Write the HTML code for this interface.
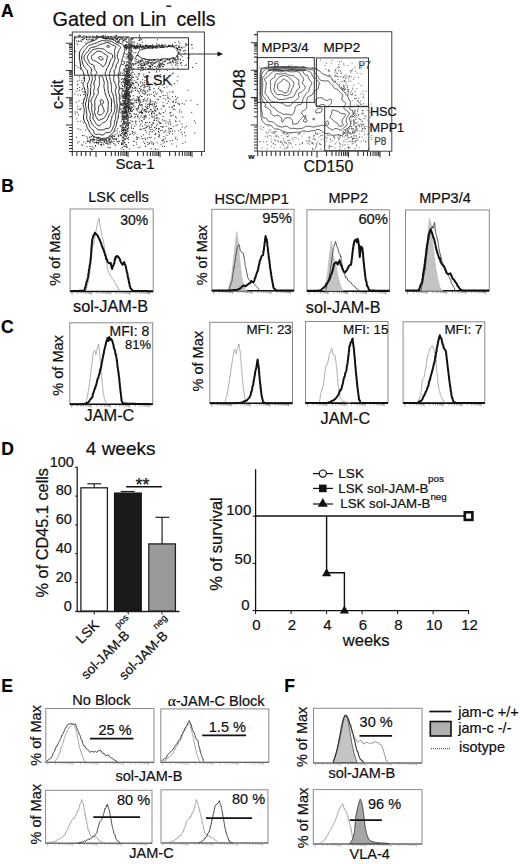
<!DOCTYPE html>
<html><head><meta charset="utf-8"><style>
html,body{margin:0;padding:0;background:#fff;width:520px;height:864px;overflow:hidden}
svg{display:block}
text{font-family:"Liberation Sans", sans-serif; stroke:#111; stroke-width:0.22px}
</style></head><body>
<svg width="520" height="864" viewBox="0 0 520 864">
<text x="1.0" y="16.9" font-size="17.5" text-anchor="start" font-weight="bold" fill="#000" stroke="#000">A</text>
<text x="52.5" y="25.6" font-size="19.9" text-anchor="start" font-weight="normal" fill="#111" stroke="#111">Gated on Lin</text>
<line x1="166.3" y1="6.2" x2="171.2" y2="6.2" stroke="#111" stroke-width="1.4"/>
<text x="176.5" y="25.6" font-size="19.5" text-anchor="start" font-weight="normal" fill="#111" stroke="#111">cells</text>
<path d="M106.3,138.1 L105.3,138.4 L104.3,138.4 L103.3,138.4 L102.3,138.4 L101.3,138.4 L100.3,138.2 L99.8,137.9 L98.8,137.5 L98.3,137.4 L97.3,137.4 L96.3,137.3 L95.3,137.1 L94.8,136.9 L94.1,136.5 L93.4,136.0 L92.8,135.5 L92.3,135.0 L91.9,134.5 L91.5,134.0 L91.1,133.5 L90.7,133.0 L90.3,132.5 L89.8,131.8 L89.3,131.2 L88.8,130.5 L88.5,130.0 L88.2,129.5 L87.8,128.7 L87.5,128.0 L87.2,127.5 L86.9,126.5 L86.7,126.0 L86.4,125.0 L86.2,124.5 L85.8,123.7 L85.4,123.0 L85.1,122.5 L84.8,122.0 L84.3,121.1 L84.1,120.5 L83.8,119.6 L83.7,119.0 L83.5,118.0 L83.5,117.0 L83.6,116.0 L83.8,115.0 L83.9,114.5 L84.1,113.5 L84.2,112.5 L84.2,111.5 L84.2,110.5 L84.2,109.5 L84.1,108.5 L83.9,107.5 L83.7,107.0 L83.3,106.0 L83.2,105.5 L83.2,104.5 L83.3,103.6 L83.4,103.0 L83.6,102.0 L83.7,101.0 L83.8,100.4 L84.1,99.5 L84.3,99.0 L84.8,98.0 L85.0,97.5 L85.3,96.6 L85.5,96.0 L85.7,95.0 L85.8,94.4 L85.9,93.5 L85.8,92.9 L85.6,92.0 L85.3,91.1 L85.1,90.5 L84.8,89.7 L84.6,89.0 L84.3,88.0 L84.1,87.5 L83.8,86.8 L83.4,86.0 L83.2,85.5 L83.0,84.5 L83.0,83.5 L83.3,82.7 L83.8,82.0 L84.1,81.5 L84.4,81.0 L84.7,80.0 L84.6,79.0 L84.5,78.0 L84.3,77.0 L84.2,76.5 L84.1,75.5 L83.9,74.5 L83.8,74.0 L83.5,73.0 L83.3,72.3 L83.0,71.5 L82.7,71.0 L82.3,70.4 L81.8,69.6 L81.5,69.0 L81.2,68.5 L80.9,67.5 L80.8,67.0 L80.6,66.0 L80.5,65.0 L80.3,64.0 L80.3,63.5 L80.1,62.5 L80.0,61.5 L79.8,60.5 L79.7,60.0 L79.5,59.0 L79.4,58.0 L79.4,57.0 L79.4,56.0 L79.4,55.0 L79.4,54.0 L79.5,53.0 L79.7,52.0 L79.8,51.5 L80.3,50.5 L80.6,50.0 L80.9,49.5 L81.4,49.0 L81.8,48.5 L82.3,48.0 L82.8,47.5 L83.3,46.9 L83.8,46.4 L84.3,45.9 L84.8,45.4 L85.3,44.9 L85.8,44.4 L86.3,44.0 L87.0,43.5 L87.8,43.0 L88.3,42.8 L89.1,42.5 L89.8,42.2 L90.3,42.0 L91.3,41.5 L91.8,41.3 L92.5,41.0 L93.3,40.7 L93.8,40.5 L94.8,40.1 L95.3,39.9 L95.9,39.5 L96.5,39.0 L97.0,38.5 L97.6,38.0 L98.3,37.6 L98.8,37.4 L99.8,37.0 L100.3,36.9 L101.2,37.0 L101.8,37.3 L102.3,37.6 L102.9,38.0 L103.8,38.5 L104.3,38.6 L105.3,38.8 L106.3,38.8 L107.3,38.7 L108.3,38.6 L109.3,38.8 L110.3,39.0 L110.8,39.1 L111.8,39.3 L112.5,39.5 L113.3,39.8 L113.8,40.1 L114.3,40.5 L114.8,41.0 L115.3,41.5 L115.9,42.0 L116.8,42.4 L117.3,42.6 L118.3,42.8 L119.2,43.0 L119.8,43.2 L120.6,43.5 L121.3,43.8 L121.8,44.1 L122.5,44.5 L123.1,45.0 L123.5,45.5 L123.8,46.0 L124.3,47.0 L124.5,47.5 L124.8,48.5 L124.9,49.0 L124.9,50.0 L124.8,50.8 L124.6,51.5 L124.3,52.3 L124.1,53.0 L123.8,54.0 L123.7,54.5 L123.4,55.5 L123.2,56.0 L122.9,57.0 L122.7,57.5 L122.4,58.5 L122.3,59.0 L122.1,60.0 L121.9,61.0 L121.8,61.5 L121.5,62.5 L121.3,63.4 L121.1,64.0 L120.8,64.9 L120.6,65.5 L120.3,66.2 L120.0,67.0 L119.8,67.8 L119.7,68.5 L119.6,69.5 L119.5,70.5 L119.3,71.3 L119.0,72.0 L118.8,72.6 L118.4,73.5 L118.3,74.0 L118.2,75.0 L118.2,76.0 L118.3,77.0 L118.4,77.5 L118.7,78.5 L118.8,79.2 L118.9,80.0 L118.8,81.0 L118.8,81.5 L118.7,82.5 L118.6,83.5 L118.7,84.5 L118.8,85.3 L118.9,86.0 L119.1,87.0 L119.3,88.0 L119.3,88.5 L119.3,89.0 L119.1,90.0 L118.8,91.0 L118.7,91.5 L118.8,92.5 L118.9,93.0 L119.2,94.0 L119.3,94.5 L119.5,95.5 L119.4,96.5 L119.3,97.5 L119.3,98.5 L119.4,99.5 L119.5,100.5 L119.7,101.5 L119.8,102.1 L120.0,103.0 L120.1,104.0 L120.0,105.0 L119.9,106.0 L119.7,106.5 L119.5,107.5 L119.3,108.4 L119.2,109.0 L119.2,110.0 L119.1,111.0 L119.1,112.0 L118.8,113.0 L118.7,113.5 L118.4,114.5 L118.3,115.0 L118.3,116.0 L118.3,117.0 L118.2,118.0 L117.9,119.0 L117.7,119.5 L117.3,120.4 L117.1,121.0 L116.8,121.8 L116.7,122.5 L116.6,123.5 L116.5,124.5 L116.3,125.5 L116.2,126.0 L115.8,126.8 L115.4,127.5 L115.1,128.0 L114.8,128.8 L114.6,129.5 L114.4,130.5 L114.2,131.0 L113.8,131.7 L113.3,132.3 L112.8,132.8 L112.3,133.3 L111.8,133.9 L111.3,134.4 L110.8,135.0 L110.3,135.5 L109.8,136.0 L109.3,136.4 L108.8,136.8 L108.3,137.1 L107.6,137.5 L106.8,137.9 L106.3,138.1 M131.3,59.6 L130.3,59.5 L129.8,59.3 L129.3,58.9 L128.8,58.4 L128.3,57.5 L128.2,57.0 L128.3,56.3 L128.7,55.5 L129.3,55.0 L129.8,54.7 L130.8,54.6 L131.8,54.9 L132.3,55.3 L132.8,56.0 L132.9,56.5 L133.0,57.5 L132.8,58.1 L132.3,59.0 L131.8,59.4 L131.3,59.6 M103.8,134.5 L102.8,134.9 L101.8,135.0 L100.8,134.7 L100.2,134.5 L99.3,134.2 L98.3,134.1 L97.3,134.3 L96.3,134.4 L95.3,134.3 L94.8,134.0 L94.3,133.4 L93.9,132.5 L93.8,131.5 L93.8,131.0 L93.3,130.1 L92.8,129.6 L92.3,129.2 L91.8,128.8 L91.3,128.4 L90.8,128.0 L90.3,127.5 L89.8,126.7 L89.5,126.0 L89.3,125.5 L89.0,124.5 L88.8,123.6 L88.6,123.0 L88.3,122.1 L88.0,121.5 L87.8,121.0 L87.3,120.0 L87.1,119.5 L86.8,118.7 L86.7,118.0 L86.7,117.0 L86.8,116.2 L86.9,115.5 L86.9,114.5 L86.8,113.8 L86.6,113.0 L86.5,112.0 L86.3,111.0 L86.3,110.5 L86.2,109.5 L86.2,108.5 L86.0,107.5 L85.8,106.5 L85.7,106.0 L85.5,105.0 L85.4,104.0 L85.6,103.0 L85.8,102.4 L86.1,101.5 L86.3,100.8 L86.5,100.0 L86.7,99.0 L86.8,98.4 L87.0,97.5 L87.2,96.5 L87.3,96.0 L87.6,95.0 L87.8,94.0 L87.9,93.5 L88.0,92.5 L88.0,91.5 L87.9,90.5 L87.9,89.5 L87.9,88.5 L87.8,88.0 L87.6,87.0 L87.4,86.0 L87.3,85.2 L87.3,84.9 L87.4,84.0 L87.8,83.2 L88.2,82.5 L88.5,82.0 L88.8,81.3 L89.1,80.5 L89.3,79.9 L89.5,79.0 L89.4,78.0 L89.3,77.4 L89.0,76.5 L88.8,76.0 L88.4,75.0 L88.2,74.5 L87.9,73.5 L87.8,73.0 L87.5,72.0 L87.4,71.0 L87.3,70.5 L86.8,69.7 L86.3,69.2 L85.8,68.7 L85.3,68.2 L84.8,67.6 L84.3,67.0 L84.0,66.5 L83.7,66.0 L83.3,65.2 L83.0,64.5 L82.8,63.8 L82.6,63.0 L82.3,62.0 L82.2,61.5 L82.0,60.5 L81.8,59.5 L81.8,59.0 L81.7,58.0 L81.7,57.0 L81.8,56.0 L81.9,55.5 L82.2,54.5 L82.4,54.0 L82.8,53.3 L83.2,52.5 L83.5,52.0 L83.8,51.3 L84.3,50.6 L84.8,50.0 L85.3,49.5 L85.8,49.0 L86.2,48.5 L86.5,48.0 L86.8,47.5 L87.3,46.8 L87.8,46.2 L88.3,45.8 L88.8,45.4 L89.8,45.0 L90.3,44.8 L91.1,44.5 L91.8,44.3 L92.6,44.0 L93.3,43.8 L94.3,43.6 L94.8,43.5 L95.8,43.2 L96.3,43.0 L97.3,42.5 L97.8,42.3 L98.3,42.0 L99.3,41.6 L99.8,41.4 L100.7,41.0 L101.3,40.8 L102.3,40.6 L103.3,40.6 L104.3,40.7 L105.3,40.8 L106.3,40.9 L107.3,40.9 L108.3,40.9 L109.2,41.0 L109.8,41.1 L110.8,41.2 L111.7,41.5 L112.3,41.8 L112.8,42.1 L113.3,42.5 L114.0,43.0 L114.7,43.5 L115.3,43.8 L115.8,44.0 L116.8,44.4 L117.3,44.6 L118.2,45.0 L118.8,45.4 L119.3,45.7 L119.8,46.2 L120.3,46.9 L120.5,47.5 L120.3,48.2 L119.8,48.9 L119.3,49.5 L119.0,50.0 L118.8,50.5 L118.4,51.5 L118.3,52.0 L117.9,53.0 L117.7,53.5 L117.3,54.5 L117.2,55.0 L117.2,56.0 L117.3,56.7 L117.5,57.5 L117.8,58.2 L118.1,59.0 L118.3,59.8 L118.4,60.5 L118.3,61.2 L118.0,62.0 L117.8,62.5 L117.3,63.2 L116.8,63.9 L116.5,64.5 L116.3,65.0 L116.1,66.0 L116.0,67.0 L115.8,67.9 L115.5,68.5 L115.2,69.0 L114.7,69.5 L114.3,70.2 L114.0,71.0 L114.1,72.0 L114.3,73.0 L114.3,73.5 L114.3,74.5 L114.2,75.0 L114.0,76.0 L113.8,77.0 L113.8,77.5 L113.7,78.5 L113.7,79.5 L113.8,80.3 L113.9,81.0 L114.3,82.0 L114.6,82.5 L114.9,83.0 L115.3,83.6 L115.7,84.5 L115.8,85.0 L116.0,86.0 L116.2,87.0 L116.1,88.0 L115.8,88.9 L115.6,89.5 L115.3,90.4 L115.2,91.0 L115.3,91.5 L115.5,92.5 L115.8,93.5 L115.9,94.0 L116.0,95.0 L116.1,96.0 L116.3,96.8 L116.5,97.5 L116.7,98.5 L116.8,99.5 L116.7,100.5 L116.7,101.5 L116.7,102.5 L116.8,103.0 L117.0,104.0 L117.2,105.0 L117.2,106.0 L117.2,107.0 L117.1,108.0 L117.0,109.0 L116.9,110.0 L116.8,110.8 L116.7,111.5 L116.3,112.5 L116.1,113.0 L115.8,113.9 L115.7,114.5 L115.6,115.5 L115.7,116.5 L115.8,117.5 L115.6,118.5 L115.3,119.4 L115.1,120.0 L114.8,120.8 L114.6,121.5 L114.5,122.5 L114.4,123.5 L114.3,124.2 L114.1,125.0 L113.8,125.7 L113.4,126.5 L113.1,127.0 L112.8,127.7 L112.5,128.5 L112.3,129.1 L112.0,130.0 L111.7,130.5 L111.3,131.1 L110.8,131.6 L110.3,132.0 L109.3,132.5 L108.8,132.6 L107.8,132.6 L106.8,132.5 L105.8,132.8 L105.3,133.2 L104.8,133.7 L104.3,134.1 L103.8,134.5 M131.3,58.4 L130.3,58.3 L129.8,57.9 L129.6,57.0 L129.8,56.4 L130.3,56.0 L131.3,56.0 L131.8,56.5 L132.0,57.0 L131.8,57.9 L131.3,58.4 M102.3,130.0 L101.7,130.0 L100.8,129.9 L99.8,129.9 L98.8,129.9 L97.8,129.5 L97.3,129.2 L96.8,128.8 L96.3,128.4 L95.8,127.9 L95.3,127.3 L94.8,126.9 L94.3,126.4 L93.8,126.0 L93.3,125.5 L92.8,125.0 L92.3,124.4 L91.8,123.5 L91.6,123.0 L91.3,122.4 L90.9,121.5 L90.7,121.0 L90.3,120.0 L90.1,119.5 L90.0,118.5 L89.9,117.5 L90.1,116.5 L90.3,115.6 L90.4,115.0 L90.4,114.0 L90.3,113.5 L89.9,112.5 L89.6,112.0 L89.3,111.2 L89.1,110.5 L88.8,109.5 L88.7,109.0 L88.6,108.0 L88.4,107.0 L88.3,106.0 L88.4,105.0 L88.6,104.0 L88.7,103.0 L88.7,102.0 L88.7,101.0 L88.8,100.0 L88.9,99.5 L89.1,98.5 L89.3,97.7 L89.6,97.0 L89.8,96.5 L90.2,95.5 L90.4,95.0 L90.5,94.0 L90.5,93.0 L90.5,92.0 L90.5,91.0 L90.6,90.0 L90.7,89.0 L90.8,88.2 L90.9,87.5 L90.8,86.5 L90.8,86.0 L90.8,85.0 L90.8,84.5 L91.1,83.5 L91.3,82.8 L91.6,82.0 L91.8,81.3 L92.0,80.5 L92.2,79.5 L92.3,78.5 L92.3,77.5 L92.0,76.5 L91.8,75.8 L91.5,75.0 L91.3,74.5 L91.0,73.5 L91.0,72.5 L91.3,71.5 L91.4,71.0 L91.5,70.0 L91.3,69.0 L91.1,68.5 L90.8,67.8 L90.3,67.2 L89.8,66.8 L89.3,66.4 L88.8,66.0 L88.3,65.5 L87.8,64.9 L87.3,64.2 L86.9,63.5 L86.6,63.0 L86.3,62.5 L85.8,61.8 L85.3,61.1 L84.9,60.5 L84.5,60.0 L84.3,59.5 L84.0,58.5 L83.9,57.5 L84.1,56.5 L84.3,55.9 L84.8,55.1 L85.3,54.5 L85.7,54.0 L86.2,53.5 L86.6,53.0 L87.0,52.5 L87.5,52.0 L87.9,51.5 L88.3,51.0 L88.8,50.2 L89.2,49.5 L89.5,49.0 L89.8,48.5 L90.3,48.0 L91.2,47.5 L91.8,47.3 L92.8,47.2 L93.8,47.1 L94.4,47.0 L95.3,46.8 L96.0,46.5 L96.8,46.1 L97.3,45.8 L97.9,45.5 L98.8,45.0 L99.3,44.8 L100.1,44.5 L100.8,44.3 L101.8,44.0 L102.3,43.9 L103.3,43.5 L103.8,43.4 L104.8,43.1 L105.3,43.0 L106.3,42.8 L107.3,42.7 L108.3,42.8 L109.2,43.0 L109.8,43.3 L110.3,43.5 L111.0,44.0 L111.6,44.5 L112.3,45.0 L112.8,45.2 L113.5,45.5 L114.3,45.8 L114.9,46.0 L115.7,46.5 L116.0,47.0 L115.8,47.7 L115.3,48.4 L114.8,49.0 L114.6,49.5 L114.5,50.5 L114.5,51.5 L114.6,52.5 L114.6,53.5 L114.7,54.5 L114.8,55.3 L114.8,56.0 L114.9,57.0 L114.9,58.0 L114.9,59.0 L114.8,59.5 L114.6,60.5 L114.3,61.1 L113.8,62.0 L113.6,62.5 L113.3,63.2 L113.0,64.0 L112.8,65.0 L112.7,65.5 L112.4,66.5 L112.2,67.0 L111.8,67.6 L111.3,68.4 L110.9,69.0 L110.7,69.5 L110.4,70.5 L110.3,71.0 L110.0,72.0 L109.8,72.7 L109.5,73.5 L109.3,74.5 L109.3,75.5 L109.5,76.5 L109.7,77.5 L109.8,78.1 L110.1,79.0 L110.3,79.9 L110.4,80.5 L110.6,81.5 L110.8,82.4 L110.9,83.0 L111.1,84.0 L111.3,84.9 L111.4,85.5 L111.5,86.5 L111.6,87.5 L111.5,88.5 L111.4,89.5 L111.4,90.5 L111.5,91.5 L111.8,92.2 L112.2,93.0 L112.5,93.5 L112.8,94.1 L113.1,95.0 L113.3,96.0 L113.4,96.5 L113.6,97.5 L113.8,98.1 L114.0,99.0 L114.1,100.0 L114.0,101.0 L114.1,102.0 L114.3,103.0 L114.5,103.5 L114.8,104.5 L114.9,105.0 L115.0,106.0 L115.0,107.0 L114.9,108.0 L114.8,108.5 L114.7,109.5 L114.5,110.5 L114.3,111.4 L114.1,112.0 L113.8,112.7 L113.4,113.5 L113.1,114.0 L112.8,114.5 L112.3,115.3 L112.1,116.0 L111.9,117.0 L111.8,118.0 L111.7,118.5 L111.4,119.5 L111.2,120.0 L110.8,121.0 L110.8,121.5 L110.8,122.4 L110.9,123.0 L110.9,124.0 L110.8,124.6 L110.6,125.5 L110.3,126.4 L110.0,127.0 L109.7,127.5 L109.2,128.0 L108.3,128.4 L107.3,128.5 L106.8,128.5 L105.8,128.7 L105.0,129.0 L104.3,129.3 L103.8,129.6 L102.8,129.9 L102.3,130.0 M109.3,47.1 L108.3,47.4 L107.3,47.1 L106.9,46.5 L107.3,45.5 L107.8,45.2 L108.8,45.4 L109.3,45.8 L109.7,46.5 L109.3,47.1 M99.3,125.5 L98.3,125.6 L97.8,125.4 L97.2,125.0 L96.7,124.5 L96.2,124.0 L95.8,123.3 L95.3,122.5 L95.0,122.0 L94.7,121.5 L94.3,120.8 L93.8,120.2 L93.4,119.5 L93.1,119.0 L92.9,118.0 L93.0,117.0 L93.1,116.0 L93.1,115.0 L93.0,114.0 L92.8,113.4 L92.4,112.5 L92.2,112.0 L91.9,111.0 L91.8,110.5 L91.6,109.5 L91.7,108.5 L91.7,107.5 L91.8,107.0 L91.9,106.0 L92.0,105.0 L91.8,104.0 L91.7,103.5 L91.3,102.5 L91.1,102.0 L90.9,101.0 L91.0,100.0 L91.3,99.3 L91.7,98.5 L92.1,98.0 L92.4,97.5 L92.8,96.9 L93.3,96.0 L93.6,95.5 L93.8,95.0 L94.0,94.0 L93.9,93.0 L93.8,92.4 L93.7,91.5 L93.8,90.6 L93.9,90.0 L94.2,89.0 L94.3,88.5 L94.5,87.5 L94.4,86.5 L94.3,85.8 L94.1,85.0 L93.9,84.0 L94.0,83.0 L94.3,82.0 L94.5,81.5 L94.8,80.8 L95.1,80.0 L95.3,79.5 L95.3,78.5 L95.3,78.0 L95.1,77.0 L95.0,76.0 L95.1,75.0 L95.5,74.5 L96.0,74.0 L96.6,73.5 L96.9,73.0 L96.8,72.3 L96.4,71.5 L96.0,71.0 L95.6,70.5 L95.2,70.0 L94.8,69.3 L94.4,68.5 L94.2,68.0 L94.0,67.0 L94.0,66.0 L93.8,65.3 L93.3,64.8 L92.3,64.6 L91.8,64.5 L90.8,64.1 L90.3,63.7 L89.8,63.2 L89.3,62.5 L89.1,62.0 L88.8,61.4 L88.4,60.5 L88.2,60.0 L87.8,59.1 L87.6,58.5 L87.4,57.5 L87.5,56.5 L87.8,55.8 L88.2,55.0 L88.5,54.5 L88.9,54.0 L89.3,53.5 L89.8,52.9 L90.3,52.3 L90.8,51.6 L91.3,51.0 L91.7,50.5 L92.3,50.0 L92.8,49.7 L93.5,49.5 L94.3,49.3 L95.3,49.1 L95.8,49.0 L96.8,48.7 L97.4,48.5 L98.3,48.3 L99.3,48.3 L100.3,48.4 L100.8,48.5 L101.8,48.7 L102.8,48.9 L103.3,49.0 L104.3,49.4 L104.8,49.8 L105.3,50.2 L105.8,50.7 L106.3,51.2 L106.8,51.6 L107.3,52.0 L108.1,52.5 L108.8,52.9 L109.3,53.1 L110.3,53.5 L110.8,53.7 L111.6,54.0 L112.3,54.5 L112.6,55.0 L112.8,56.0 L112.6,57.0 L112.3,57.8 L111.9,58.5 L111.5,59.0 L111.1,59.5 L110.8,60.0 L110.3,60.9 L110.0,61.5 L109.8,62.0 L109.4,63.0 L109.3,63.5 L109.0,64.5 L108.8,65.0 L108.3,65.9 L108.0,66.5 L107.6,67.0 L107.3,67.6 L106.9,68.5 L106.7,69.0 L106.4,70.0 L106.2,70.5 L105.8,71.5 L105.6,72.0 L105.3,72.9 L105.2,73.5 L105.3,74.3 L105.5,75.0 L105.8,75.9 L106.0,76.5 L106.2,77.5 L106.3,78.0 L106.6,79.0 L106.8,79.7 L107.1,80.5 L107.3,81.0 L107.6,82.0 L107.8,82.8 L107.9,83.5 L107.9,84.5 L107.9,85.5 L107.9,86.5 L107.9,87.5 L107.9,88.5 L107.9,89.5 L108.1,90.5 L108.3,91.4 L108.5,92.0 L108.7,93.0 L108.9,93.5 L109.2,94.5 L109.3,95.0 L109.6,96.0 L109.8,96.5 L110.3,97.3 L110.8,98.0 L111.1,98.5 L111.4,99.0 L111.6,100.0 L111.7,101.0 L111.6,102.0 L111.5,103.0 L111.5,104.0 L111.5,105.0 L111.4,106.0 L111.3,107.0 L111.3,107.5 L111.3,108.5 L111.3,109.0 L111.4,110.0 L111.4,111.0 L111.3,111.5 L110.8,112.5 L110.4,113.0 L110.0,113.5 L109.6,114.0 L109.3,114.5 L108.9,115.5 L108.7,116.0 L108.4,117.0 L108.2,117.5 L107.8,118.3 L107.4,119.0 L107.1,119.5 L106.8,120.1 L106.3,120.9 L105.8,121.4 L105.3,121.8 L104.8,122.1 L103.8,122.4 L103.3,122.6 L102.6,123.0 L102.0,123.5 L101.5,124.0 L101.0,124.5 L100.3,125.0 L99.8,125.3 L99.3,125.5 M103.8,66.2 L102.8,66.5 L101.8,66.1 L101.4,65.5 L101.1,65.0 L100.8,64.4 L100.3,63.9 L99.7,63.5 L98.9,63.0 L98.3,62.7 L97.8,62.3 L97.3,62.0 L96.5,61.5 L95.8,61.2 L95.3,61.0 L94.3,60.7 L93.6,60.5 L92.8,60.1 L92.3,59.8 L91.8,59.1 L91.6,58.5 L91.4,57.5 L91.5,56.5 L91.8,55.7 L92.3,55.1 L92.8,54.7 L93.3,54.4 L94.2,54.0 L94.8,53.5 L95.2,53.0 L95.5,52.5 L96.0,52.0 L96.7,51.5 L97.3,51.3 L98.3,51.1 L99.3,51.2 L100.3,51.3 L100.8,51.5 L101.8,51.9 L102.3,52.3 L102.8,52.7 L103.3,53.1 L103.8,53.5 L104.8,54.0 L105.3,54.2 L105.8,54.5 L106.6,55.0 L107.1,55.5 L107.4,56.0 L107.4,57.0 L107.3,57.5 L107.0,58.5 L106.8,59.5 L106.7,60.0 L106.5,61.0 L106.3,61.6 L106.0,62.5 L105.8,63.1 L105.4,64.0 L105.2,64.5 L104.8,65.2 L104.3,65.8 L103.8,66.2 M99.8,120.1 L98.8,120.4 L98.2,120.0 L97.8,119.5 L97.3,118.8 L96.8,118.1 L96.4,117.5 L96.1,117.0 L95.8,116.4 L95.5,115.5 L95.3,115.0 L95.0,114.0 L94.8,113.3 L94.6,112.5 L94.5,111.5 L94.7,110.5 L94.8,110.0 L95.1,109.0 L95.0,108.0 L94.8,107.0 L94.8,106.5 L94.8,105.7 L94.8,105.0 L94.9,104.0 L94.8,103.0 L94.8,102.5 L94.7,101.5 L94.8,100.9 L95.0,100.0 L95.3,99.4 L95.7,98.5 L95.9,98.0 L96.3,97.0 L96.5,96.5 L96.8,95.9 L97.3,95.1 L97.7,94.5 L98.0,94.0 L98.3,93.3 L98.4,92.5 L98.3,91.8 L98.1,91.0 L97.9,90.0 L97.9,89.0 L98.3,88.0 L98.5,87.5 L98.8,87.0 L99.3,86.0 L99.4,85.5 L99.4,84.5 L99.4,83.5 L99.3,82.5 L99.4,81.5 L99.5,80.5 L99.5,79.5 L99.3,78.6 L99.2,78.0 L99.2,77.0 L99.5,76.5 L100.1,76.0 L100.8,75.8 L101.7,76.0 L102.3,76.5 L102.6,77.0 L102.9,77.5 L103.1,78.5 L103.3,79.2 L103.5,80.0 L103.8,80.8 L104.0,81.5 L104.2,82.5 L104.2,83.5 L104.0,84.5 L103.9,85.5 L103.9,86.5 L104.0,87.5 L104.2,88.5 L104.3,89.1 L104.5,90.0 L104.7,91.0 L104.8,91.6 L105.0,92.5 L105.2,93.5 L105.3,94.0 L105.7,95.0 L105.9,95.5 L106.3,96.5 L106.5,97.0 L106.8,97.7 L107.1,98.5 L107.4,99.0 L107.8,100.0 L108.0,100.5 L108.2,101.5 L108.3,102.2 L108.3,103.0 L108.3,104.0 L108.3,104.5 L108.2,105.5 L108.1,106.5 L108.0,107.5 L108.0,108.5 L108.0,109.5 L107.9,110.5 L107.8,111.0 L107.5,112.0 L107.2,112.5 L106.8,113.3 L106.4,114.0 L106.2,114.5 L105.8,115.3 L105.5,116.0 L105.2,116.5 L104.8,117.2 L104.3,117.7 L103.8,118.2 L103.3,118.5 L102.3,118.9 L101.8,119.1 L100.9,119.5 L100.3,119.8 L99.8,120.1 M102.3,60.0 L101.3,60.1 L100.8,60.0 L100.0,59.5 L99.4,59.0 L99.0,58.5 L98.6,58.0 L98.7,57.0 L99.3,56.6 L99.8,56.5 L100.3,56.5 L101.3,56.9 L101.8,57.3 L102.3,57.7 L102.8,58.5 L102.9,59.0 L102.8,59.5 L102.3,60.0 M101.3,114.7 L100.3,115.0 L99.3,114.8 L98.6,114.5 L98.0,114.0 L97.7,113.5 L97.7,112.5 L97.8,112.0 L98.3,111.0 L98.4,110.5 L98.5,109.5 L98.5,108.5 L98.5,107.5 L98.7,106.5 L98.9,106.0 L99.3,105.4 L99.8,105.0 L100.5,104.5 L100.9,104.0 L100.8,103.0 L100.7,102.5 L100.4,101.5 L100.3,100.5 L100.8,99.8 L101.8,99.9 L102.3,100.1 L102.8,100.5 L103.3,101.2 L103.5,102.0 L103.3,102.9 L102.9,103.5 L102.4,104.0 L102.0,104.5 L102.3,105.5 L102.5,106.0 L102.8,106.8 L103.1,107.5 L103.3,108.2 L103.6,109.0 L103.8,109.6 L104.1,110.5 L104.1,111.5 L103.8,112.3 L103.3,112.9 L102.8,113.4 L102.3,113.9 L101.8,114.3 L101.3,114.7" fill="none" stroke="#222" stroke-width="1.0"/>
<path d="M137.5,54.5 L138.4,52.9 L138.4,51.9 L139.2,51.1 L139.8,49.6 L141.4,49.8 L142.5,49.4 L143.5,49.2 L145.3,48.5 L146.7,48.7 L148.2,47.9 L150.4,48.1 L151.3,47.9 L153.8,47.6 L155.5,47.9 L158.3,47.7 L159.7,47.7 L162.0,47.3 L163.7,47.6 L165.2,46.7 L167.1,46.9 L168.9,46.4 L169.8,46.5 L170.9,46.8 L173.2,46.5 L174.5,47.6 L175.2,48.0 L176.3,48.0 L177.2,49.2 L176.7,50.1 L177.6,51.3 L177.8,52.0 L178.4,52.7 L178.1,54.0 L177.6,54.8 L177.3,56.2 L176.4,57.2 L175.3,58.0 L172.7,58.1 L171.8,58.2 L169.6,59.0 L167.1,59.0 L165.5,58.5 L162.4,58.9 L160.1,60.1 L158.2,59.0 L154.8,59.9 L153.1,59.8 L149.7,59.8 L148.2,59.4 L146.2,59.4 L144.9,59.0 L142.9,58.4 L141.7,58.7 L140.7,57.2 L140.1,57.3 L139.2,56.6 L138.1,55.4 L138.5,56.2 L137.5,54.4 Z" fill="none" stroke="#222" stroke-width="0.85"/>
<path d="M175.5,102.4h0.01M129.5,46.0h0.01M139.0,40.5h0.01M112.4,137.4h0.01M123.0,86.3h0.01M163.7,112.5h0.01M85.8,130.0h0.01M159.5,66.1h0.01M127.5,88.3h0.01M160.0,114.1h0.01M131.7,84.7h0.01M135.8,52.4h0.01M151.1,109.9h0.01M125.9,94.1h0.01M123.5,121.5h0.01M151.8,112.2h0.01M126.1,111.4h0.01M140.3,46.8h0.01M129.3,107.0h0.01M146.6,107.5h0.01M126.2,89.8h0.01M149.5,104.3h0.01M125.4,78.9h0.01M155.6,108.0h0.01M125.0,80.6h0.01M127.3,75.9h0.01M125.1,116.4h0.01M147.7,75.8h0.01M170.4,62.5h0.01M175.0,58.7h0.01M153.0,101.6h0.01M123.3,140.5h0.01M96.6,36.1h0.01M151.0,109.7h0.01M126.1,91.5h0.01M173.1,109.2h0.01M124.2,121.3h0.01M75.2,36.9h0.01M162.2,47.5h0.01M112.8,39.0h0.01M174.8,131.1h0.01M114.8,39.9h0.01M93.9,148.0h0.01M159.6,45.8h0.01M124.6,107.5h0.01M127.1,82.3h0.01M138.7,98.8h0.01M125.4,117.1h0.01M167.5,46.7h0.01M130.9,74.9h0.01M123.0,95.5h0.01M131.0,108.6h0.01M106.6,140.6h0.01M124.3,94.9h0.01M122.4,137.7h0.01M177.0,102.0h0.01M125.0,133.6h0.01M134.7,126.2h0.01M129.7,149.0h0.01M145.2,128.0h0.01M124.7,82.4h0.01M140.3,61.6h0.01M133.6,145.5h0.01M130.5,54.5h0.01M127.2,126.0h0.01M123.6,40.6h0.01M112.9,136.2h0.01M126.3,133.0h0.01M162.1,63.5h0.01M124.6,63.1h0.01M123.5,104.2h0.01M148.9,125.8h0.01M145.2,48.2h0.01M169.1,46.3h0.01M163.0,116.5h0.01M133.1,88.5h0.01M102.7,37.9h0.01M167.7,59.5h0.01M126.6,133.4h0.01M176.4,59.6h0.01M124.1,78.7h0.01M152.7,61.9h0.01M124.3,94.6h0.01M155.2,46.1h0.01M138.6,75.9h0.01M122.4,112.1h0.01M125.8,84.0h0.01M134.2,46.3h0.01M126.6,74.2h0.01M167.7,97.7h0.01M119.9,95.3h0.01M167.4,58.7h0.01M149.5,143.1h0.01M128.6,108.6h0.01M125.7,93.3h0.01M156.7,71.1h0.01M145.8,86.7h0.01M125.4,104.3h0.01M141.1,112.2h0.01M150.8,62.9h0.01M127.5,123.4h0.01M139.2,96.8h0.01M138.7,99.0h0.01M160.1,65.7h0.01M123.9,101.0h0.01M128.8,81.5h0.01M128.1,120.3h0.01M124.5,103.0h0.01M142.3,110.1h0.01M159.1,121.8h0.01M125.4,71.6h0.01M127.1,72.4h0.01M146.9,47.6h0.01M168.0,122.2h0.01M124.9,100.5h0.01M159.0,61.9h0.01M126.2,47.2h0.01M130.2,46.5h0.01M185.4,50.3h0.01M131.1,103.5h0.01M148.8,85.7h0.01M156.9,46.7h0.01M151.6,113.9h0.01M106.5,141.4h0.01M173.7,62.2h0.01M131.4,76.9h0.01M141.4,60.4h0.01M75.4,51.7h0.01M169.5,62.8h0.01M148.7,69.7h0.01M129.3,44.1h0.01M161.1,45.8h0.01M123.6,127.5h0.01M160.2,69.6h0.01M125.3,46.1h0.01M128.6,82.0h0.01M127.2,115.1h0.01M178.5,41.9h0.01M172.8,60.6h0.01M91.3,136.3h0.01M126.2,89.2h0.01M145.5,62.0h0.01M122.9,117.8h0.01M121.9,105.2h0.01M125.2,109.6h0.01M118.4,136.8h0.01M180.2,59.1h0.01M84.4,92.3h0.01M136.3,63.3h0.01M100.0,141.8h0.01M133.9,134.7h0.01M155.1,149.0h0.01M103.5,38.1h0.01M124.1,142.9h0.01M123.7,130.6h0.01M125.1,139.3h0.01M155.1,134.6h0.01M138.4,97.6h0.01M133.7,98.7h0.01M152.9,117.4h0.01M105.8,143.2h0.01M128.4,124.1h0.01M124.6,108.9h0.01M133.6,83.3h0.01M179.4,47.6h0.01M126.6,93.1h0.01M122.8,126.1h0.01M127.1,87.3h0.01M132.4,45.4h0.01M126.4,113.9h0.01M86.3,36.1h0.01M97.1,142.6h0.01M126.7,54.2h0.01M160.8,90.7h0.01M168.7,63.1h0.01M153.9,59.4h0.01M117.2,132.9h0.01M142.3,122.1h0.01M130.9,46.3h0.01M126.2,90.5h0.01M122.0,89.8h0.01M118.7,136.1h0.01M167.2,46.9h0.01M145.6,45.6h0.01M123.8,128.3h0.01M137.5,62.0h0.01M130.4,45.3h0.01M144.4,118.9h0.01M140.5,45.9h0.01M83.6,73.6h0.01M79.3,77.0h0.01M93.6,40.1h0.01M124.9,78.9h0.01M124.2,86.3h0.01M168.9,45.2h0.01M130.4,96.4h0.01M158.4,129.8h0.01M118.8,141.4h0.01M132.4,51.2h0.01M130.2,74.8h0.01M109.2,139.6h0.01M124.6,47.4h0.01M184.0,47.2h0.01M189.6,54.9h0.01M114.1,136.1h0.01M123.5,113.0h0.01M172.9,67.9h0.01M129.8,44.9h0.01M154.8,138.6h0.01M119.7,132.0h0.01M160.3,74.7h0.01M154.5,66.4h0.01M126.6,124.9h0.01M126.8,129.0h0.01M128.0,118.3h0.01M117.8,41.8h0.01M128.5,137.4h0.01M133.5,109.5h0.01M101.0,140.6h0.01M185.1,65.7h0.01M131.0,86.3h0.01M123.8,129.7h0.01M156.3,48.1h0.01M127.1,64.7h0.01M149.3,122.9h0.01M117.5,38.3h0.01M126.9,114.2h0.01M186.4,64.9h0.01M120.3,98.7h0.01M110.3,39.0h0.01M165.8,99.7h0.01M90.2,141.4h0.01M173.1,58.5h0.01M124.9,85.9h0.01M126.3,73.0h0.01M126.2,132.6h0.01M75.5,113.8h0.01M110.0,139.8h0.01M133.2,83.1h0.01M122.8,132.5h0.01M97.1,36.0h0.01M87.9,141.1h0.01M124.6,112.8h0.01M137.0,55.5h0.01M128.3,94.0h0.01M154.4,113.4h0.01M142.4,113.6h0.01M171.6,85.3h0.01M152.0,65.0h0.01M76.9,43.2h0.01M140.5,102.0h0.01M144.6,116.3h0.01M128.3,91.3h0.01M145.3,46.5h0.01M182.3,56.7h0.01M143.8,46.3h0.01M116.8,139.8h0.01M125.7,40.0h0.01M152.1,142.1h0.01M129.9,123.4h0.01M173.2,115.2h0.01M104.2,140.5h0.01M130.7,116.2h0.01M142.9,117.4h0.01M157.7,45.8h0.01M119.5,141.3h0.01M178.0,56.6h0.01M131.4,128.2h0.01M124.5,82.9h0.01M126.3,108.1h0.01M150.2,109.6h0.01M137.9,67.8h0.01M173.8,59.9h0.01M145.4,122.8h0.01M128.7,107.3h0.01M151.8,124.6h0.01M126.5,116.7h0.01M126.9,75.9h0.01M129.0,101.7h0.01M179.3,112.0h0.01M144.7,58.8h0.01M196.2,63.5h0.01M123.4,75.4h0.01M139.1,46.5h0.01M131.5,73.0h0.01M133.6,95.7h0.01M128.7,81.4h0.01M175.4,138.7h0.01M135.5,48.7h0.01M128.0,122.6h0.01M176.0,61.0h0.01M135.1,61.1h0.01M163.2,95.4h0.01M125.0,112.8h0.01M170.7,124.8h0.01M166.8,141.5h0.01M155.0,63.0h0.01M128.8,95.6h0.01M86.8,136.7h0.01M163.4,46.3h0.01M159.8,122.9h0.01M92.9,37.1h0.01M149.6,45.8h0.01M146.1,117.1h0.01M125.9,104.8h0.01M123.3,134.7h0.01M123.8,72.8h0.01M147.9,47.3h0.01M80.1,129.7h0.01M125.8,90.2h0.01M128.3,109.0h0.01M144.7,116.3h0.01M143.5,67.7h0.01M124.7,46.9h0.01M124.2,102.0h0.01M116.3,36.0h0.01M157.2,93.3h0.01M128.8,82.1h0.01M137.7,116.6h0.01M123.0,98.6h0.01M145.7,122.5h0.01M142.5,46.5h0.01M122.0,113.6h0.01M97.0,37.1h0.01M126.6,87.9h0.01M147.4,99.8h0.01M125.2,71.6h0.01M106.5,143.1h0.01M129.0,117.8h0.01M119.4,74.9h0.01M139.9,146.9h0.01M125.2,122.5h0.01M138.4,105.9h0.01M141.7,39.1h0.01M173.4,46.4h0.01M125.5,122.5h0.01M128.2,83.8h0.01M120.1,102.2h0.01M138.4,60.2h0.01M124.7,80.3h0.01M168.3,98.1h0.01M126.6,94.4h0.01M128.9,116.1h0.01M102.7,139.9h0.01M150.2,69.3h0.01M92.6,139.6h0.01M125.8,113.0h0.01M111.4,36.6h0.01M130.6,67.3h0.01M128.0,92.3h0.01M148.9,60.2h0.01M103.6,35.9h0.01M158.5,88.5h0.01M153.8,46.3h0.01M144.8,86.3h0.01M125.1,112.8h0.01M136.4,45.7h0.01M125.2,132.8h0.01M124.0,70.5h0.01M154.7,102.9h0.01M140.0,100.4h0.01M115.7,40.8h0.01M115.1,130.9h0.01M126.7,78.3h0.01M106.0,38.2h0.01M150.0,100.7h0.01M140.7,86.9h0.01M129.8,107.8h0.01M127.7,42.4h0.01M128.3,65.8h0.01M84.7,38.0h0.01M142.1,48.4h0.01M124.4,130.1h0.01M124.1,116.1h0.01M159.2,65.9h0.01M109.8,136.9h0.01M179.2,104.6h0.01M122.4,41.9h0.01M191.7,44.6h0.01M126.2,45.7h0.01M143.2,47.0h0.01M138.7,108.9h0.01M138.2,147.8h0.01M128.4,142.6h0.01M171.7,46.1h0.01M114.3,138.9h0.01M92.4,149.6h0.01M93.5,140.1h0.01M125.7,122.0h0.01M123.1,105.4h0.01M126.1,95.8h0.01M182.3,127.1h0.01M147.3,61.6h0.01M161.3,46.6h0.01M124.1,112.2h0.01M124.4,107.6h0.01M174.0,105.4h0.01M122.3,73.2h0.01M145.7,100.8h0.01M154.7,118.7h0.01M102.9,143.3h0.01M151.2,137.5h0.01M120.5,39.2h0.01M127.6,106.7h0.01M124.7,95.8h0.01M105.1,141.0h0.01M125.0,79.4h0.01M124.8,91.6h0.01M125.3,47.2h0.01M124.5,139.8h0.01M154.0,47.2h0.01M113.4,139.3h0.01M159.9,46.1h0.01M127.3,100.9h0.01M124.8,123.4h0.01M125.7,109.6h0.01M161.5,45.5h0.01M110.3,147.4h0.01M128.4,95.5h0.01M153.9,120.3h0.01M125.2,129.9h0.01M101.2,139.7h0.01M128.8,111.3h0.01M159.6,71.0h0.01M127.6,102.0h0.01M160.6,59.9h0.01M149.7,66.8h0.01M181.7,65.3h0.01M127.5,76.1h0.01M123.5,119.6h0.01M124.4,123.5h0.01M134.8,46.7h0.01M126.9,96.5h0.01M128.6,109.5h0.01M177.7,48.2h0.01M131.9,90.1h0.01M141.1,104.6h0.01M132.3,45.5h0.01M127.5,103.3h0.01M130.0,103.3h0.01M145.3,110.1h0.01M125.4,132.7h0.01M126.6,93.1h0.01M127.4,119.1h0.01M125.2,139.6h0.01M123.5,117.0h0.01M172.6,61.5h0.01M110.2,137.9h0.01M142.7,85.4h0.01M126.8,80.9h0.01M131.2,106.5h0.01M129.9,105.2h0.01M129.4,92.9h0.01M126.5,47.8h0.01M184.7,132.7h0.01M127.1,74.9h0.01M186.1,100.8h0.01M160.6,47.0h0.01M126.2,106.1h0.01M127.3,81.7h0.01M152.9,122.7h0.01M124.7,129.1h0.01M80.0,62.1h0.01M123.0,118.5h0.01M92.0,139.3h0.01M133.1,141.1h0.01M127.1,65.7h0.01M139.5,104.2h0.01M178.1,103.5h0.01M126.8,72.6h0.01M124.6,95.0h0.01M155.1,127.0h0.01M134.9,59.0h0.01M128.2,109.6h0.01M145.1,117.4h0.01M154.0,106.2h0.01M149.2,137.3h0.01M178.4,59.8h0.01M181.1,62.5h0.01M125.5,126.4h0.01M145.7,111.5h0.01M164.0,136.5h0.01M129.5,107.7h0.01M142.9,138.6h0.01M125.1,115.8h0.01M124.6,146.1h0.01M121.4,131.4h0.01M121.5,82.8h0.01M90.2,37.5h0.01M160.7,60.2h0.01M169.7,59.2h0.01M122.4,127.6h0.01M160.8,97.1h0.01M125.0,106.2h0.01M114.2,38.1h0.01M126.1,106.4h0.01M141.9,120.7h0.01M129.4,59.2h0.01M154.3,116.9h0.01M122.3,103.0h0.01M101.0,142.5h0.01M97.8,138.0h0.01M123.1,96.2h0.01M135.2,133.0h0.01M126.6,106.9h0.01M154.5,59.8h0.01M143.2,93.7h0.01M92.4,139.4h0.01M173.5,46.1h0.01M132.2,39.6h0.01M153.7,143.3h0.01M152.9,48.1h0.01M123.4,96.0h0.01M126.2,124.9h0.01M174.3,46.4h0.01M156.6,106.3h0.01M145.1,59.5h0.01M181.1,62.5h0.01M152.7,111.8h0.01M126.1,95.6h0.01M135.4,82.6h0.01M142.1,46.5h0.01M127.1,114.7h0.01M135.5,90.5h0.01M129.3,104.5h0.01M143.7,76.0h0.01M142.0,138.9h0.01M159.5,45.4h0.01M146.6,76.7h0.01M121.8,119.8h0.01M79.0,141.8h0.01M148.3,65.9h0.01M132.5,84.0h0.01M114.1,141.4h0.01M126.8,112.0h0.01M120.5,104.4h0.01M139.4,39.3h0.01M144.5,64.6h0.01M177.3,139.4h0.01M144.9,48.1h0.01M78.0,95.0h0.01M124.1,90.4h0.01M148.5,68.5h0.01M165.5,110.8h0.01M123.4,107.9h0.01M148.0,47.4h0.01M126.9,46.3h0.01M127.2,133.8h0.01M119.8,81.8h0.01M123.6,119.3h0.01M138.7,46.8h0.01M128.0,102.3h0.01M169.6,92.0h0.01M77.4,81.2h0.01M113.1,39.0h0.01M155.3,129.2h0.01M139.2,44.7h0.01M125.8,90.4h0.01M194.8,133.1h0.01M155.0,106.6h0.01M177.6,66.0h0.01M127.3,105.3h0.01M129.2,74.8h0.01M165.7,130.7h0.01M184.8,53.2h0.01M128.4,99.5h0.01M119.0,40.4h0.01M132.4,59.7h0.01M123.3,38.4h0.01M152.1,116.1h0.01M163.8,126.4h0.01M171.6,128.6h0.01M94.2,139.4h0.01M87.0,146.7h0.01M120.2,88.5h0.01M140.8,61.9h0.01M155.8,76.4h0.01M125.9,103.6h0.01M171.8,65.1h0.01M122.7,132.8h0.01M138.5,62.6h0.01M159.1,61.1h0.01M125.2,104.2h0.01M129.0,108.0h0.01M162.1,140.9h0.01M98.8,140.5h0.01M123.2,130.3h0.01M89.8,142.2h0.01M133.2,64.3h0.01M139.5,88.5h0.01M128.3,75.1h0.01M128.2,85.6h0.01M164.5,64.8h0.01M129.4,85.3h0.01M130.1,44.0h0.01M168.7,130.0h0.01M124.3,108.7h0.01M126.0,98.5h0.01M132.8,70.1h0.01M124.6,106.2h0.01M168.7,128.2h0.01M148.5,47.7h0.01M87.6,138.2h0.01M137.8,43.5h0.01M174.3,105.4h0.01M124.6,123.9h0.01M125.0,93.3h0.01M149.4,89.7h0.01M152.6,67.9h0.01M146.0,77.0h0.01M143.3,68.9h0.01M142.0,104.6h0.01M123.7,131.2h0.01M124.0,113.3h0.01M137.5,46.8h0.01M165.4,138.1h0.01M162.5,146.3h0.01M185.2,142.0h0.01M103.4,36.0h0.01M165.0,131.3h0.01M165.0,45.8h0.01M141.2,89.4h0.01M126.6,77.2h0.01M124.8,127.6h0.01M154.2,69.8h0.01M129.9,113.8h0.01M123.3,82.6h0.01M126.0,113.8h0.01M159.3,64.7h0.01M135.2,114.4h0.01M175.4,60.3h0.01M163.4,46.4h0.01M152.6,131.7h0.01M127.3,129.7h0.01M123.0,111.0h0.01M157.4,117.8h0.01M121.5,144.1h0.01M130.3,85.9h0.01M100.1,139.1h0.01M126.3,47.3h0.01M136.9,137.4h0.01M122.8,115.7h0.01M130.2,95.9h0.01M125.4,88.1h0.01M78.0,41.5h0.01M142.2,92.9h0.01M76.8,118.8h0.01M127.1,112.9h0.01M162.1,47.4h0.01M177.8,76.4h0.01M98.0,142.6h0.01M104.5,142.2h0.01M147.9,46.9h0.01M136.9,46.6h0.01M167.5,63.7h0.01M102.5,140.2h0.01M121.5,93.3h0.01M129.4,82.8h0.01M96.9,38.8h0.01M139.5,113.0h0.01M128.8,98.3h0.01M124.5,103.1h0.01M146.6,59.7h0.01M181.7,47.2h0.01M174.3,83.6h0.01M169.2,46.3h0.01M75.1,111.9h0.01M96.7,142.8h0.01M179.7,121.1h0.01M176.5,98.9h0.01M115.2,35.7h0.01M153.2,47.3h0.01M112.2,38.7h0.01M164.7,79.4h0.01M124.2,133.4h0.01M123.4,120.9h0.01M139.2,47.9h0.01M77.8,106.4h0.01M98.8,137.8h0.01M121.5,104.4h0.01M126.1,76.1h0.01M126.5,37.7h0.01M125.8,65.7h0.01M124.3,45.9h0.01M151.7,64.6h0.01M131.8,37.9h0.01M145.4,106.5h0.01M127.0,105.6h0.01M125.6,45.1h0.01M140.1,126.1h0.01M130.8,102.5h0.01M147.4,95.1h0.01M144.2,128.7h0.01M123.9,69.2h0.01M133.1,106.1h0.01M122.5,123.8h0.01M142.0,113.1h0.01M137.3,116.1h0.01M126.5,147.4h0.01M159.5,65.6h0.01M165.1,61.2h0.01M154.7,109.7h0.01M129.3,86.1h0.01M129.4,113.4h0.01M151.9,143.8h0.01M114.1,139.2h0.01M97.0,139.1h0.01M170.9,45.4h0.01M140.7,90.1h0.01M129.0,94.2h0.01M117.2,38.7h0.01M128.8,70.5h0.01M175.8,65.4h0.01M121.2,149.1h0.01M124.1,135.7h0.01M130.9,80.2h0.01M158.1,121.2h0.01M126.3,111.2h0.01M123.8,41.0h0.01M125.3,133.1h0.01M128.6,44.6h0.01M124.9,57.2h0.01M132.3,83.4h0.01M92.7,40.7h0.01M132.2,121.4h0.01M128.6,79.0h0.01M87.3,140.1h0.01M147.4,126.6h0.01M125.8,45.8h0.01M126.6,86.2h0.01M122.0,116.8h0.01M136.2,142.3h0.01M129.5,46.4h0.01M128.1,83.5h0.01M147.9,144.6h0.01M126.1,106.6h0.01M163.6,64.4h0.01M143.6,65.6h0.01M102.2,37.1h0.01M123.4,104.1h0.01M122.4,130.4h0.01M165.8,123.1h0.01M142.4,42.2h0.01M150.3,66.7h0.01M182.2,48.0h0.01M133.4,128.5h0.01M161.5,92.2h0.01M138.7,46.4h0.01M139.3,100.8h0.01M117.2,141.4h0.01M131.8,65.4h0.01M117.2,41.2h0.01M184.3,104.1h0.01M98.2,142.2h0.01M123.5,108.5h0.01M127.3,91.7h0.01M177.0,55.8h0.01M141.7,65.8h0.01M117.6,38.5h0.01M144.5,48.2h0.01M141.9,96.5h0.01M152.1,104.4h0.01M107.6,143.2h0.01M123.2,129.5h0.01M127.9,97.1h0.01M122.7,88.8h0.01M126.8,89.8h0.01M162.0,47.3h0.01M175.3,120.9h0.01M125.4,102.1h0.01M136.1,48.8h0.01M164.5,146.4h0.01M148.7,76.1h0.01M173.0,62.7h0.01M160.2,61.0h0.01M141.9,63.6h0.01M146.1,116.0h0.01M126.4,68.9h0.01M109.5,138.8h0.01M152.6,46.5h0.01M138.7,46.9h0.01M108.3,37.1h0.01M152.1,47.2h0.01M170.1,131.2h0.01M133.4,47.2h0.01M125.8,81.4h0.01M126.1,37.3h0.01M160.4,90.8h0.01M93.3,38.0h0.01M122.4,137.0h0.01M130.8,48.8h0.01M140.9,91.1h0.01M123.5,81.8h0.01M119.9,37.7h0.01M154.9,62.9h0.01M124.6,117.2h0.01M102.9,138.6h0.01M125.1,122.1h0.01M137.2,98.8h0.01M107.4,37.5h0.01M127.7,57.0h0.01M130.6,87.8h0.01M128.6,94.0h0.01M127.5,76.1h0.01M125.9,146.5h0.01M144.6,110.0h0.01M178.0,63.3h0.01M126.4,84.4h0.01M126.4,79.9h0.01M128.9,99.5h0.01M127.1,47.9h0.01M175.1,42.5h0.01M194.4,120.8h0.01M127.9,82.8h0.01M127.2,114.8h0.01M126.8,115.8h0.01M124.6,111.5h0.01M124.1,120.1h0.01M127.7,94.2h0.01M100.7,139.2h0.01M197.3,104.4h0.01M125.7,80.6h0.01M123.0,111.4h0.01M125.5,47.7h0.01M128.4,67.5h0.01M125.1,79.0h0.01M133.9,52.9h0.01M152.2,48.1h0.01M98.3,36.7h0.01M166.9,135.4h0.01M129.3,97.8h0.01M97.0,37.6h0.01M177.4,57.3h0.01M80.5,95.1h0.01M124.8,47.8h0.01M185.5,45.9h0.01M129.2,76.4h0.01M125.9,44.5h0.01M125.7,105.9h0.01M114.2,37.6h0.01M143.9,62.2h0.01M126.9,71.1h0.01M142.6,82.6h0.01M145.7,46.8h0.01M173.1,126.3h0.01M160.9,64.4h0.01M131.3,78.5h0.01M123.9,98.7h0.01M142.5,67.4h0.01M129.7,86.5h0.01M125.6,66.9h0.01M112.6,138.4h0.01M128.5,106.0h0.01M141.3,111.5h0.01M129.6,80.8h0.01M152.6,65.5h0.01M145.0,124.7h0.01M147.3,138.1h0.01M142.0,59.0h0.01M120.9,135.7h0.01M148.1,46.3h0.01M123.7,149.8h0.01M150.8,66.5h0.01M124.2,121.2h0.01M127.6,76.9h0.01M127.0,98.8h0.01M136.2,61.8h0.01M126.8,104.7h0.01M127.0,46.7h0.01M139.8,104.1h0.01M131.0,92.0h0.01M156.1,47.5h0.01M124.8,86.3h0.01M124.4,102.5h0.01M149.7,66.8h0.01M128.0,112.2h0.01M159.0,118.9h0.01M127.7,124.9h0.01M146.3,63.8h0.01M156.9,118.2h0.01M129.5,49.3h0.01M173.1,59.3h0.01M83.7,141.9h0.01M112.0,38.3h0.01M138.4,84.4h0.01M131.0,108.8h0.01M133.2,64.6h0.01M152.0,62.3h0.01M82.9,91.5h0.01M157.5,108.7h0.01M81.8,144.3h0.01M129.9,52.4h0.01M163.3,46.9h0.01M75.7,38.2h0.01M142.8,60.0h0.01M136.4,47.6h0.01M87.3,141.7h0.01M129.4,67.1h0.01M104.0,38.0h0.01M150.9,63.1h0.01M137.7,139.0h0.01M175.9,137.0h0.01M127.8,106.7h0.01M139.6,46.3h0.01M126.7,58.9h0.01M125.8,133.0h0.01M150.7,68.2h0.01M116.4,39.0h0.01M98.6,143.8h0.01M129.2,96.6h0.01M125.2,103.1h0.01M152.0,69.9h0.01M145.5,139.4h0.01M141.0,89.4h0.01M133.5,77.4h0.01M125.5,118.8h0.01M144.4,65.5h0.01M129.7,134.3h0.01M126.8,95.3h0.01M143.3,70.0h0.01M125.9,44.9h0.01M172.1,106.6h0.01M167.3,93.1h0.01M111.6,136.8h0.01M125.9,144.4h0.01M127.9,106.2h0.01M155.8,149.1h0.01M188.1,90.3h0.01M155.9,46.8h0.01M172.5,131.1h0.01M120.4,126.4h0.01M145.1,111.9h0.01M135.1,100.2h0.01M156.1,94.2h0.01M130.6,47.1h0.01M76.4,40.8h0.01M136.2,124.2h0.01M120.7,109.8h0.01M128.3,99.0h0.01M160.3,123.4h0.01M124.7,97.8h0.01M138.4,78.7h0.01M110.8,139.2h0.01M130.7,84.5h0.01M124.7,45.6h0.01M139.3,93.4h0.01M128.8,131.2h0.01M121.1,135.6h0.01M141.7,96.5h0.01M128.0,44.6h0.01M116.4,35.4h0.01M136.9,137.0h0.01M127.2,64.7h0.01M152.7,46.2h0.01M170.6,128.4h0.01M122.1,96.5h0.01M126.3,48.4h0.01M122.8,94.4h0.01M129.1,101.4h0.01M155.4,46.7h0.01M137.4,79.5h0.01M79.7,35.1h0.01M145.1,45.9h0.01M144.3,91.7h0.01M154.4,69.6h0.01M108.0,137.7h0.01M125.1,87.4h0.01M125.1,111.5h0.01M126.0,126.2h0.01M144.3,85.1h0.01M103.6,140.0h0.01M177.4,59.2h0.01M127.4,76.3h0.01M154.2,113.2h0.01M162.6,66.8h0.01M121.7,129.9h0.01M134.3,141.2h0.01M164.1,120.6h0.01M125.0,39.5h0.01M126.7,97.0h0.01M138.2,73.8h0.01M148.6,61.4h0.01M138.9,100.8h0.01M83.7,119.1h0.01M127.5,94.3h0.01M128.7,105.2h0.01M140.3,46.6h0.01M148.3,63.2h0.01M172.3,92.1h0.01M93.3,40.5h0.01M126.4,117.2h0.01M125.2,82.7h0.01M126.1,95.8h0.01M127.6,108.1h0.01M146.1,64.0h0.01M124.5,112.3h0.01M127.4,71.3h0.01M119.1,42.0h0.01M174.4,105.9h0.01M128.7,84.8h0.01M126.7,101.2h0.01M125.1,96.4h0.01M79.6,36.6h0.01M195.4,122.9h0.01M124.2,103.4h0.01M144.4,109.5h0.01M126.1,79.6h0.01M122.2,64.6h0.01M178.1,49.4h0.01M147.7,46.5h0.01M126.5,93.7h0.01M122.3,130.0h0.01M137.6,90.3h0.01M127.8,121.4h0.01M125.3,68.1h0.01M125.3,91.5h0.01M127.0,107.5h0.01M136.0,121.7h0.01M131.1,111.1h0.01M125.4,93.9h0.01M153.4,92.6h0.01M139.0,97.3h0.01M81.2,108.2h0.01M81.6,82.6h0.01M125.2,47.4h0.01M125.7,127.7h0.01M103.8,144.7h0.01M94.0,142.9h0.01M90.0,146.5h0.01M118.4,143.3h0.01M143.9,110.9h0.01M146.2,62.1h0.01M145.3,94.0h0.01M142.6,126.2h0.01M127.1,116.1h0.01M122.8,115.5h0.01M123.9,138.4h0.01M114.5,136.6h0.01M132.0,45.2h0.01M82.1,89.6h0.01M127.1,106.7h0.01M130.2,77.6h0.01M161.1,84.9h0.01M127.0,100.7h0.01M146.5,132.1h0.01M106.9,38.3h0.01M129.5,46.7h0.01M124.7,61.6h0.01M134.1,102.4h0.01M170.2,131.7h0.01M156.4,106.1h0.01M157.2,46.8h0.01M126.1,92.3h0.01M138.6,85.8h0.01M156.8,103.0h0.01M129.7,69.7h0.01M118.1,37.3h0.01M128.5,107.7h0.01M167.1,103.3h0.01M136.7,109.9h0.01M126.3,79.0h0.01M141.6,65.4h0.01M79.7,87.5h0.01M127.8,68.5h0.01M161.3,108.8h0.01M129.8,79.6h0.01M124.8,73.7h0.01M116.8,122.7h0.01M153.1,47.1h0.01M145.7,115.0h0.01M96.0,139.4h0.01M149.4,115.0h0.01M122.2,117.8h0.01M142.7,112.5h0.01M149.6,128.0h0.01M115.6,139.1h0.01M144.0,84.9h0.01M153.3,45.7h0.01M112.0,136.2h0.01M130.2,83.8h0.01M130.7,117.6h0.01M103.9,141.7h0.01M157.6,39.8h0.01M127.6,61.6h0.01M168.4,123.9h0.01M144.0,116.1h0.01M117.9,38.4h0.01M92.1,40.0h0.01M119.4,39.4h0.01M173.1,102.4h0.01M158.3,66.9h0.01M133.7,48.3h0.01M97.4,36.5h0.01M127.1,90.1h0.01M129.4,95.0h0.01M100.7,144.5h0.01M141.9,47.1h0.01M146.9,101.2h0.01M79.6,109.2h0.01M145.7,67.6h0.01M156.5,128.4h0.01M127.4,83.1h0.01M128.5,102.4h0.01M85.6,43.1h0.01M150.9,141.7h0.01M77.4,142.9h0.01M130.0,108.4h0.01M125.5,101.9h0.01M178.9,47.0h0.01M141.4,67.3h0.01M127.0,93.8h0.01M126.2,91.9h0.01M115.8,38.4h0.01M149.5,46.3h0.01M150.3,129.5h0.01M98.3,140.3h0.01M89.7,39.3h0.01M131.8,45.1h0.01M162.4,46.7h0.01M127.4,80.1h0.01M128.6,76.2h0.01M129.1,109.4h0.01M134.0,43.9h0.01M130.3,110.5h0.01M160.5,59.4h0.01M124.3,40.2h0.01M129.5,96.5h0.01M127.9,111.9h0.01M152.8,47.9h0.01M129.2,100.3h0.01M140.4,95.8h0.01M92.6,135.6h0.01M128.3,66.2h0.01M125.3,113.5h0.01M155.3,110.9h0.01M122.2,130.3h0.01M184.9,127.9h0.01M125.1,83.5h0.01M121.9,38.4h0.01M127.9,68.1h0.01M154.8,104.0h0.01M105.5,35.6h0.01M126.7,103.6h0.01M131.4,50.4h0.01M124.2,101.3h0.01M155.3,46.7h0.01M128.7,48.7h0.01M167.1,59.8h0.01M107.9,147.1h0.01M126.9,87.8h0.01M159.3,137.1h0.01M124.9,69.5h0.01M128.4,75.8h0.01M147.1,81.3h0.01M90.9,139.5h0.01M149.7,111.6h0.01M125.5,99.1h0.01M122.5,85.7h0.01M131.5,99.7h0.01M126.9,116.1h0.01M153.3,123.1h0.01M95.5,145.7h0.01M165.8,121.1h0.01M125.6,99.3h0.01M129.8,86.4h0.01M140.2,60.2h0.01M150.6,47.1h0.01M128.7,77.5h0.01M130.5,75.5h0.01M145.2,91.1h0.01M162.7,45.8h0.01M98.7,142.2h0.01M128.7,88.7h0.01M149.5,47.6h0.01M120.1,88.1h0.01M124.6,93.9h0.01M125.0,75.2h0.01M192.2,48.1h0.01M132.4,131.5h0.01M120.1,37.0h0.01M142.7,91.3h0.01M137.3,96.6h0.01M92.8,139.9h0.01M132.9,72.4h0.01M135.6,63.7h0.01M124.9,117.7h0.01M122.8,119.6h0.01M143.8,89.8h0.01M128.2,119.9h0.01M124.0,96.4h0.01M90.0,143.0h0.01M128.2,70.4h0.01M145.8,103.8h0.01M123.6,116.8h0.01M133.4,103.7h0.01M142.9,108.6h0.01M125.5,91.1h0.01M143.5,134.8h0.01M135.4,122.8h0.01M126.3,136.9h0.01M128.1,128.1h0.01M135.4,87.5h0.01M169.2,45.8h0.01M124.9,82.3h0.01M126.0,109.3h0.01M126.9,44.7h0.01M128.2,73.3h0.01M129.7,82.2h0.01M128.2,94.7h0.01M142.0,47.5h0.01M126.0,46.8h0.01M172.2,74.1h0.01M185.3,135.8h0.01M127.5,84.5h0.01M138.5,107.7h0.01M166.2,126.3h0.01M76.6,137.3h0.01M138.3,91.6h0.01M145.9,109.6h0.01M125.4,99.8h0.01M161.0,144.3h0.01M126.1,97.6h0.01M150.4,45.5h0.01M176.3,117.9h0.01M128.3,52.2h0.01M130.8,111.4h0.01M134.7,46.2h0.01M160.7,63.7h0.01M160.8,47.6h0.01M122.2,37.4h0.01M129.0,67.9h0.01M170.1,58.7h0.01M125.8,82.9h0.01M138.1,117.6h0.01M139.5,35.1h0.01M174.7,59.7h0.01M156.3,117.9h0.01M128.6,103.3h0.01M140.3,64.2h0.01M128.5,104.3h0.01M137.6,110.8h0.01M99.9,139.9h0.01M116.5,35.4h0.01M109.2,141.0h0.01M180.2,49.8h0.01M132.8,46.7h0.01M128.3,56.3h0.01M131.0,48.6h0.01M158.7,113.3h0.01M124.3,94.7h0.01M150.7,66.7h0.01M80.4,35.8h0.01M130.0,53.1h0.01M156.5,72.0h0.01M148.0,60.0h0.01M151.2,94.4h0.01M127.8,92.4h0.01M83.6,94.3h0.01M126.5,119.8h0.01M126.3,68.3h0.01M141.3,86.0h0.01M143.8,119.0h0.01M161.8,126.5h0.01M186.3,126.4h0.01M145.3,77.2h0.01M131.1,82.4h0.01M79.1,100.9h0.01M132.1,42.1h0.01M148.0,47.9h0.01M159.8,45.4h0.01M129.6,75.7h0.01M184.2,50.8h0.01M126.4,78.1h0.01M94.0,37.5h0.01M169.3,107.2h0.01M122.7,112.1h0.01M168.4,45.6h0.01M130.8,103.0h0.01M142.7,65.0h0.01M139.9,129.2h0.01M77.7,109.0h0.01M128.9,63.1h0.01M122.0,39.1h0.01M150.2,99.8h0.01M128.0,53.9h0.01M177.0,63.3h0.01M122.4,91.4h0.01M138.1,100.9h0.01M98.2,138.7h0.01M126.5,49.6h0.01M126.3,136.4h0.01M124.9,119.2h0.01M133.5,46.1h0.01M98.2,140.5h0.01M127.7,81.3h0.01M117.7,128.6h0.01M128.1,128.9h0.01M145.9,92.0h0.01M122.3,78.5h0.01M126.6,83.1h0.01M133.9,132.2h0.01M135.3,47.4h0.01M178.2,58.3h0.01M123.5,64.9h0.01M126.4,68.4h0.01M78.0,121.5h0.01M124.1,39.1h0.01M146.8,110.9h0.01M177.2,80.8h0.01M89.1,36.1h0.01M128.1,110.7h0.01M106.1,143.3h0.01M125.8,102.3h0.01M124.5,93.1h0.01M123.1,124.9h0.01M138.6,100.3h0.01M117.5,39.6h0.01M185.5,44.0h0.01M74.8,93.9h0.01M152.2,129.3h0.01M157.1,99.1h0.01M140.7,66.0h0.01M131.3,46.7h0.01M187.8,44.7h0.01M130.0,102.1h0.01M130.1,70.4h0.01M105.9,139.9h0.01M85.9,143.1h0.01M130.3,73.9h0.01M179.3,52.4h0.01M134.9,47.8h0.01M82.6,39.1h0.01M130.2,63.7h0.01M122.3,144.3h0.01M131.4,90.9h0.01M178.8,131.1h0.01M135.3,46.4h0.01M126.8,71.5h0.01M146.5,45.4h0.01M126.6,88.4h0.01M146.5,127.5h0.01M137.8,45.5h0.01M126.8,117.4h0.01M154.6,60.3h0.01M142.5,45.8h0.01M126.8,106.8h0.01M106.4,138.7h0.01M156.6,115.1h0.01M176.5,45.4h0.01M123.5,116.4h0.01M137.6,47.3h0.01M126.1,112.0h0.01M152.3,124.9h0.01M89.7,137.7h0.01M156.1,85.5h0.01M126.3,123.6h0.01M181.8,124.0h0.01M192.5,67.5h0.01M124.9,98.4h0.01M128.8,107.7h0.01M130.7,79.6h0.01M87.9,39.7h0.01M128.7,100.6h0.01M126.3,144.6h0.01M126.8,71.0h0.01M90.9,140.3h0.01M181.1,55.3h0.01M127.0,73.3h0.01M177.5,48.5h0.01M105.1,38.3h0.01M149.9,87.6h0.01M131.4,103.1h0.01M139.1,46.3h0.01M132.6,45.8h0.01M163.7,139.5h0.01M168.6,46.5h0.01M136.7,47.7h0.01M136.3,46.1h0.01M124.9,91.4h0.01M142.9,99.9h0.01M140.1,67.5h0.01M150.0,62.7h0.01M126.4,115.5h0.01M93.5,40.2h0.01M98.5,138.1h0.01M126.9,99.5h0.01M110.6,143.9h0.01M125.9,133.9h0.01M157.5,75.3h0.01M151.0,126.1h0.01M129.3,45.9h0.01M130.8,86.8h0.01M126.7,42.0h0.01M134.0,105.2h0.01M122.1,103.7h0.01M120.3,108.1h0.01M146.4,112.0h0.01M77.8,44.7h0.01M96.1,142.4h0.01M125.0,85.6h0.01M128.5,123.0h0.01M108.0,36.3h0.01M98.5,143.9h0.01M128.3,79.3h0.01M141.3,115.7h0.01M124.5,123.9h0.01M139.0,74.0h0.01M131.8,38.5h0.01M125.2,104.0h0.01M124.7,112.4h0.01M132.5,110.6h0.01M172.1,107.6h0.01M144.7,77.0h0.01M126.4,118.4h0.01M150.2,67.9h0.01M171.9,144.0h0.01M126.5,75.7h0.01M129.1,96.8h0.01M139.9,40.4h0.01M131.1,46.5h0.01M126.8,72.4h0.01M125.5,130.0h0.01M154.4,63.0h0.01M126.4,39.2h0.01M155.6,101.9h0.01M124.6,119.2h0.01M119.0,37.4h0.01M145.9,92.9h0.01M153.6,123.0h0.01M96.1,142.5h0.01M134.7,117.7h0.01M77.4,88.6h0.01M134.8,100.4h0.01M144.9,98.3h0.01M110.1,142.5h0.01M129.9,87.4h0.01M122.9,113.9h0.01M159.8,64.9h0.01M150.7,101.3h0.01M162.2,140.1h0.01M165.9,44.9h0.01M104.9,139.5h0.01M128.1,125.3h0.01M126.7,92.9h0.01M144.7,116.4h0.01M82.6,88.3h0.01M125.1,108.7h0.01M143.2,46.0h0.01M145.6,61.7h0.01M170.6,123.2h0.01M133.3,38.6h0.01M141.0,124.4h0.01M156.1,62.8h0.01M144.7,82.6h0.01M129.2,76.1h0.01M126.0,117.8h0.01M125.2,84.5h0.01M125.9,110.7h0.01M132.2,100.0h0.01M177.3,61.8h0.01M149.3,103.1h0.01M132.8,46.7h0.01M169.8,113.2h0.01M85.0,91.9h0.01M115.9,134.7h0.01M86.9,37.1h0.01M129.6,92.6h0.01M124.0,106.0h0.01M145.7,44.9h0.01M125.4,97.6h0.01M127.6,138.2h0.01M134.3,113.8h0.01M127.9,71.7h0.01M129.1,72.0h0.01M154.6,75.9h0.01M148.1,62.3h0.01M141.4,136.3h0.01M127.7,94.2h0.01M138.2,55.6h0.01M135.3,116.7h0.01M154.6,127.5h0.01M136.9,108.6h0.01M131.6,115.1h0.01M161.9,44.7h0.01M123.5,138.0h0.01M123.2,140.6h0.01M126.7,92.6h0.01M177.7,125.1h0.01M123.3,144.1h0.01M130.9,66.7h0.01M120.2,72.3h0.01M127.7,94.8h0.01M140.8,129.4h0.01M148.3,81.8h0.01M163.0,102.4h0.01M159.9,96.5h0.01M140.0,102.1h0.01M121.5,133.6h0.01M126.0,97.1h0.01M86.4,37.1h0.01M136.3,47.9h0.01M144.2,64.8h0.01M143.9,99.6h0.01M126.1,65.2h0.01M178.8,53.5h0.01M159.9,89.7h0.01M128.2,58.2h0.01M126.6,84.5h0.01M111.7,141.0h0.01M180.6,129.5h0.01M128.7,89.3h0.01M161.2,123.3h0.01M110.9,141.9h0.01M150.7,101.4h0.01M84.8,94.5h0.01M191.7,112.4h0.01M130.5,85.8h0.01M126.3,97.2h0.01M126.3,96.3h0.01M124.4,106.6h0.01M139.8,99.2h0.01M171.1,63.0h0.01M157.1,142.8h0.01M130.7,53.0h0.01M125.6,94.1h0.01M92.1,146.8h0.01M140.6,64.7h0.01M153.0,64.3h0.01M150.6,102.9h0.01M159.2,132.6h0.01M122.6,143.0h0.01M126.3,130.3h0.01M150.5,46.5h0.01M136.5,59.3h0.01M144.0,87.4h0.01M108.2,141.1h0.01M129.8,53.7h0.01M145.5,69.5h0.01M153.1,60.4h0.01M149.4,94.7h0.01M175.0,59.1h0.01M118.3,135.7h0.01M124.0,100.9h0.01M132.6,46.5h0.01M154.0,130.8h0.01M124.5,96.5h0.01M167.4,70.3h0.01M145.0,46.9h0.01M129.5,55.2h0.01M103.7,37.5h0.01M172.7,140.3h0.01M162.8,106.0h0.01M131.2,107.5h0.01M126.8,86.9h0.01M159.6,112.9h0.01M129.0,97.2h0.01M127.2,62.2h0.01M96.6,142.9h0.01M141.9,61.5h0.01M138.5,100.6h0.01M123.2,98.2h0.01M132.0,67.4h0.01M144.6,94.0h0.01M148.4,112.0h0.01M125.0,108.6h0.01M179.5,49.8h0.01M112.2,142.3h0.01M149.4,132.1h0.01M129.0,68.0h0.01M126.9,97.3h0.01M122.2,128.5h0.01M125.6,111.7h0.01M137.6,83.0h0.01M83.6,99.4h0.01M180.3,59.9h0.01M123.6,124.2h0.01M178.6,52.1h0.01M101.6,144.9h0.01M140.7,44.4h0.01M106.8,38.7h0.01M131.4,85.2h0.01M127.4,84.3h0.01M119.0,77.8h0.01M91.1,136.8h0.01M128.3,70.5h0.01M124.8,84.7h0.01M149.1,88.2h0.01M125.8,109.8h0.01M129.9,95.6h0.01M138.9,137.9h0.01M157.2,61.2h0.01M146.5,46.6h0.01M151.8,116.5h0.01M170.0,99.1h0.01M135.3,46.8h0.01M129.4,80.1h0.01M151.0,131.1h0.01M164.1,62.1h0.01M177.8,97.4h0.01M122.2,141.0h0.01M162.7,66.3h0.01M163.8,132.5h0.01M153.1,46.3h0.01M160.8,126.6h0.01M130.0,92.3h0.01M125.9,83.0h0.01M149.2,118.1h0.01M126.4,104.0h0.01M187.8,58.2h0.01M149.0,72.4h0.01M128.3,89.4h0.01M126.8,66.0h0.01M127.4,91.0h0.01M162.8,61.3h0.01M83.7,35.7h0.01M155.8,133.4h0.01M136.5,82.1h0.01M152.7,47.8h0.01M124.7,93.1h0.01M153.0,103.7h0.01M126.8,92.9h0.01M166.0,59.9h0.01M149.1,134.4h0.01M128.9,47.5h0.01M153.4,63.0h0.01M127.3,69.4h0.01M137.2,47.0h0.01M138.4,65.5h0.01M127.3,78.2h0.01M130.0,46.6h0.01M123.8,98.1h0.01M80.7,68.8h0.01M148.4,62.3h0.01M129.3,93.7h0.01M83.4,39.2h0.01M92.6,39.2h0.01M149.9,60.3h0.01M124.6,78.9h0.01M152.7,46.1h0.01M133.7,46.3h0.01M147.8,98.4h0.01M120.3,134.8h0.01M170.6,115.8h0.01M166.9,141.6h0.01M128.2,47.3h0.01M123.7,104.2h0.01M159.3,66.9h0.01M92.8,36.0h0.01M131.9,124.7h0.01M127.6,116.5h0.01M162.7,127.5h0.01M154.2,46.4h0.01M155.4,46.3h0.01M124.4,84.9h0.01M142.0,112.7h0.01M126.5,46.7h0.01M95.6,37.9h0.01M108.5,38.5h0.01M117.0,130.7h0.01M155.0,59.8h0.01M162.2,46.1h0.01M169.0,60.3h0.01M130.0,69.8h0.01M126.3,145.2h0.01M151.7,114.0h0.01M122.4,140.0h0.01M125.2,122.8h0.01M136.0,76.3h0.01M162.9,45.5h0.01M173.2,73.0h0.01M129.4,72.2h0.01M169.5,59.9h0.01M130.5,109.3h0.01M130.1,108.4h0.01M79.9,41.4h0.01M109.6,38.6h0.01M105.9,39.0h0.01M147.6,90.8h0.01M189.4,57.7h0.01M131.0,64.7h0.01M128.0,82.5h0.01M132.6,63.5h0.01M136.5,102.7h0.01M129.9,104.6h0.01M127.8,47.2h0.01M180.7,51.0h0.01M96.0,38.9h0.01M114.1,136.0h0.01M126.5,103.4h0.01M128.9,84.9h0.01M125.6,104.0h0.01M143.3,141.9h0.01M136.0,102.3h0.01M127.4,107.2h0.01M126.5,62.8h0.01M128.0,116.0h0.01M155.6,111.0h0.01M147.3,122.3h0.01M123.0,89.9h0.01M132.7,107.6h0.01M154.7,110.7h0.01M148.1,104.3h0.01M124.9,76.4h0.01M169.4,133.4h0.01M156.5,45.2h0.01M127.4,78.8h0.01M136.2,109.1h0.01M133.0,68.4h0.01M129.2,65.1h0.01M126.6,125.4h0.01M125.4,74.7h0.01M172.4,57.9h0.01M131.1,84.6h0.01M143.8,62.9h0.01M101.5,142.5h0.01M150.6,104.6h0.01M177.8,68.6h0.01M126.1,104.0h0.01M92.3,40.2h0.01M142.6,79.7h0.01M130.6,47.3h0.01M129.1,102.2h0.01M144.2,47.1h0.01M144.5,143.4h0.01M175.7,99.9h0.01M134.3,45.4h0.01M149.5,59.5h0.01M129.1,47.6h0.01M123.8,111.1h0.01M140.5,60.8h0.01M122.3,105.6h0.01M175.5,96.3h0.01M126.7,104.2h0.01M125.2,86.0h0.01M150.3,48.6h0.01M76.9,91.6h0.01M128.1,80.8h0.01M156.1,61.7h0.01M102.4,36.0h0.01M154.0,95.3h0.01M128.7,80.5h0.01M74.1,40.2h0.01M151.7,46.7h0.01M128.2,90.6h0.01M179.4,104.0h0.01M106.2,38.2h0.01M124.3,45.6h0.01M99.9,140.5h0.01M126.7,88.2h0.01M83.6,122.7h0.01M145.4,130.5h0.01M125.8,107.0h0.01M120.2,73.4h0.01M121.6,144.9h0.01M80.9,121.3h0.01M137.2,46.4h0.01M135.2,88.5h0.01M124.7,93.5h0.01M141.7,68.6h0.01M161.9,45.2h0.01M127.5,80.7h0.01M150.0,122.1h0.01M132.0,44.8h0.01M169.8,119.9h0.01M119.6,40.0h0.01M106.1,139.3h0.01M122.7,116.2h0.01M151.7,45.9h0.01M124.7,69.6h0.01M129.6,122.5h0.01M130.2,60.0h0.01M127.9,90.5h0.01M118.0,141.7h0.01M159.6,46.2h0.01M132.8,121.7h0.01M176.0,121.5h0.01M176.0,125.4h0.01M176.0,64.3h0.01M190.9,100.2h0.01M123.7,79.3h0.01M137.0,88.2h0.01M129.0,81.6h0.01M151.4,60.4h0.01M125.5,135.7h0.01M122.1,105.0h0.01M94.9,142.4h0.01M131.1,109.2h0.01M164.0,105.5h0.01M133.8,65.2h0.01M93.7,136.5h0.01M127.0,86.3h0.01M169.9,121.5h0.01M163.0,47.4h0.01M137.1,77.2h0.01M118.9,134.9h0.01M169.7,59.7h0.01M128.0,98.6h0.01M149.1,104.1h0.01M130.3,134.3h0.01M83.4,78.4h0.01M179.9,110.0h0.01M112.8,39.3h0.01M159.5,128.8h0.01M158.1,46.3h0.01M136.0,57.0h0.01M127.6,73.5h0.01M133.0,77.4h0.01M130.2,113.3h0.01M147.9,108.6h0.01M135.0,107.0h0.01M128.2,69.0h0.01M136.7,47.2h0.01M125.4,77.1h0.01M134.6,86.9h0.01M158.1,149.6h0.01M135.8,120.9h0.01M186.7,45.2h0.01M82.1,40.0h0.01M103.2,37.0h0.01M152.3,105.3h0.01M80.7,64.2h0.01M126.3,125.5h0.01M130.8,120.4h0.01M130.7,87.5h0.01M122.0,93.2h0.01M122.6,100.7h0.01M178.9,47.0h0.01M180.5,63.7h0.01M140.1,38.5h0.01M104.7,37.9h0.01M136.4,114.2h0.01M124.4,107.8h0.01M176.6,47.8h0.01M131.0,60.8h0.01M147.2,45.5h0.01M147.2,105.0h0.01M121.6,111.9h0.01M127.1,80.3h0.01M162.0,64.4h0.01M155.2,91.8h0.01M139.7,104.9h0.01M131.9,46.4h0.01M172.8,101.7h0.01M166.8,86.9h0.01M177.0,56.4h0.01M118.7,41.4h0.01M138.8,67.9h0.01M145.4,146.4h0.01M132.8,80.0h0.01M163.9,106.6h0.01M125.9,131.8h0.01M158.7,45.4h0.01M92.6,141.7h0.01M156.5,46.1h0.01M123.8,80.1h0.01M122.0,111.0h0.01M121.8,127.3h0.01M142.0,107.2h0.01M168.6,45.6h0.01M77.8,67.2h0.01M131.3,104.7h0.01M155.0,115.4h0.01M137.3,108.4h0.01M125.0,142.6h0.01M146.2,45.6h0.01M94.4,140.4h0.01M186.1,43.7h0.01M123.7,138.1h0.01M107.0,138.2h0.01M139.4,36.3h0.01M139.2,91.9h0.01M128.5,93.4h0.01M147.6,142.3h0.01M125.8,112.4h0.01M135.7,46.6h0.01M128.6,117.4h0.01M80.1,67.8h0.01M163.3,112.7h0.01M133.9,84.9h0.01M164.2,87.6h0.01M126.5,133.3h0.01M124.3,117.6h0.01M127.5,129.0h0.01M125.7,94.4h0.01M157.1,109.7h0.01M127.7,135.3h0.01M167.7,95.9h0.01M123.9,123.9h0.01M81.9,80.4h0.01M153.6,108.1h0.01M147.0,108.2h0.01M182.8,117.0h0.01M140.6,46.2h0.01M143.8,74.1h0.01M170.3,128.7h0.01M181.4,112.0h0.01M134.1,48.0h0.01M124.5,103.8h0.01M134.7,47.8h0.01M131.5,111.3h0.01M139.7,47.0h0.01M126.7,83.5h0.01M125.4,38.8h0.01M143.9,101.0h0.01M160.7,130.5h0.01M149.3,46.3h0.01M112.7,135.1h0.01M130.2,108.6h0.01M129.0,63.1h0.01M148.7,46.3h0.01M109.1,148.0h0.01M124.0,134.3h0.01M146.8,125.8h0.01M78.2,128.7h0.01M158.3,99.5h0.01M78.5,40.9h0.01M126.6,74.4h0.01M125.2,108.2h0.01M145.3,64.9h0.01M138.8,102.9h0.01M147.2,63.6h0.01M123.9,122.1h0.01M176.4,146.1h0.01M152.2,111.1h0.01M123.1,127.2h0.01M147.6,90.6h0.01M104.4,141.1h0.01M157.5,66.1h0.01M151.6,46.6h0.01M130.1,62.6h0.01M141.2,129.6h0.01M128.4,81.0h0.01M114.9,144.2h0.01M159.8,62.9h0.01M161.2,65.4h0.01M118.0,41.6h0.01M96.6,141.0h0.01M128.2,110.7h0.01M152.2,46.4h0.01M156.5,68.1h0.01M101.1,36.4h0.01M122.6,118.7h0.01M162.1,130.4h0.01M124.0,146.4h0.01M131.7,111.3h0.01M129.4,106.6h0.01M121.6,125.6h0.01M172.4,133.9h0.01M125.0,97.9h0.01M151.2,127.3h0.01M147.1,64.3h0.01M80.9,69.2h0.01M128.7,100.8h0.01M151.4,63.1h0.01M127.0,104.8h0.01M170.3,140.9h0.01M79.4,90.4h0.01M145.0,80.6h0.01M163.2,143.0h0.01M100.2,140.2h0.01M122.8,97.5h0.01M124.6,136.1h0.01M139.7,118.9h0.01M127.2,92.7h0.01M151.2,104.3h0.01M127.9,71.3h0.01M131.2,69.0h0.01M126.9,70.4h0.01M128.3,126.0h0.01M123.7,141.8h0.01M128.5,87.7h0.01M154.0,88.5h0.01M124.9,83.3h0.01M158.9,63.8h0.01M143.3,101.7h0.01M126.2,106.9h0.01M133.9,63.8h0.01M136.6,139.2h0.01M150.4,65.9h0.01M172.5,45.3h0.01M122.8,134.0h0.01M153.3,63.6h0.01M164.4,141.9h0.01M125.2,100.3h0.01M122.6,81.8h0.01M126.7,110.9h0.01M128.7,47.7h0.01M174.9,109.5h0.01M126.7,80.9h0.01M123.0,108.3h0.01M122.9,42.9h0.01M89.0,38.9h0.01M127.8,81.2h0.01M149.8,62.7h0.01M129.8,122.5h0.01M155.9,66.7h0.01M143.8,90.4h0.01M182.2,103.6h0.01M156.8,46.4h0.01M169.8,46.1h0.01M144.5,116.7h0.01M132.5,87.6h0.01M182.3,134.6h0.01M131.3,92.7h0.01M126.4,122.7h0.01M172.4,44.6h0.01M170.6,112.5h0.01M127.5,37.8h0.01M96.7,137.8h0.01M132.1,76.9h0.01M141.2,46.8h0.01M89.4,137.1h0.01M144.1,69.3h0.01M90.1,140.6h0.01M78.5,114.9h0.01M179.4,46.9h0.01M147.5,108.2h0.01M158.8,44.3h0.01M112.9,39.4h0.01M77.2,84.9h0.01M165.6,60.8h0.01M141.0,111.4h0.01M123.9,114.3h0.01M122.4,39.9h0.01M124.5,106.8h0.01M121.1,103.6h0.01M136.7,100.0h0.01M126.1,105.6h0.01M107.0,36.9h0.01M156.9,43.7h0.01M123.2,113.0h0.01M82.1,103.3h0.01M137.1,45.1h0.01M120.2,97.2h0.01M157.1,115.2h0.01M162.9,91.2h0.01M143.9,48.3h0.01M128.7,87.5h0.01M125.5,99.7h0.01M142.0,63.8h0.01M123.4,122.2h0.01M110.7,36.8h0.01M128.4,127.7h0.01M140.2,44.9h0.01M151.7,113.3h0.01M150.0,89.9h0.01M118.0,41.8h0.01M77.9,84.3h0.01M154.7,96.5h0.01M101.6,144.6h0.01M182.9,143.3h0.01M131.2,126.9h0.01M126.5,112.8h0.01M164.6,61.2h0.01M123.8,113.5h0.01M141.5,120.6h0.01M133.0,91.2h0.01M131.7,116.6h0.01M127.4,95.3h0.01M150.2,89.5h0.01M126.7,98.6h0.01M79.3,80.1h0.01M156.8,61.8h0.01M175.6,62.6h0.01M90.8,148.5h0.01M111.2,141.6h0.01M127.0,56.8h0.01M132.2,75.2h0.01M115.0,37.3h0.01M132.5,133.4h0.01M179.8,43.2h0.01M124.2,107.5h0.01M122.0,142.9h0.01M124.3,108.5h0.01M127.4,97.3h0.01M90.8,40.9h0.01M142.7,65.7h0.01M132.1,71.9h0.01M127.2,112.9h0.01M139.5,73.8h0.01M131.2,60.5h0.01M127.2,48.3h0.01M125.6,107.4h0.01M120.2,125.4h0.01M123.2,90.2h0.01M101.0,36.7h0.01M147.8,94.9h0.01M126.8,95.7h0.01M183.3,51.1h0.01M131.4,39.2h0.01M177.9,49.3h0.01M155.6,133.6h0.01M80.9,40.1h0.01M137.4,47.7h0.01M104.1,38.3h0.01M124.4,101.3h0.01M129.9,99.9h0.01M180.4,49.9h0.01M149.0,143.8h0.01M123.0,130.8h0.01M153.2,111.7h0.01M128.3,48.2h0.01M143.2,128.7h0.01M140.4,83.0h0.01M158.5,131.4h0.01M132.0,46.1h0.01M147.8,86.0h0.01M124.1,88.2h0.01M135.2,47.1h0.01M127.2,70.1h0.01M123.6,103.9h0.01M132.1,46.2h0.01M145.6,45.6h0.01M77.2,112.2h0.01M126.4,109.2h0.01M121.8,115.1h0.01M102.4,139.8h0.01M144.9,84.6h0.01M129.5,85.9h0.01M120.7,37.7h0.01M141.8,110.0h0.01M163.5,140.0h0.01M124.7,115.8h0.01M160.0,123.2h0.01M160.8,60.4h0.01M135.5,58.2h0.01M108.8,138.7h0.01M153.5,59.5h0.01M130.2,46.3h0.01M124.6,132.6h0.01M134.8,74.2h0.01M127.5,103.0h0.01M140.6,70.8h0.01M128.8,111.5h0.01M139.2,112.1h0.01M127.5,85.6h0.01M148.8,83.3h0.01M157.2,69.4h0.01M78.4,35.7h0.01M93.9,137.3h0.01M149.7,127.2h0.01M161.4,60.1h0.01M131.1,47.1h0.01M168.5,101.2h0.01M165.2,95.4h0.01M143.4,47.1h0.01M123.1,61.6h0.01M146.8,79.2h0.01M115.9,38.6h0.01M138.7,106.3h0.01M127.1,55.0h0.01M121.8,109.0h0.01M108.7,144.1h0.01M89.1,130.9h0.01M157.8,76.8h0.01M130.3,47.1h0.01M148.2,45.5h0.01M156.5,125.3h0.01M126.1,81.2h0.01M127.4,103.4h0.01M145.5,146.1h0.01M129.1,99.0h0.01M145.2,76.8h0.01M123.8,136.9h0.01M124.9,134.5h0.01M145.0,138.2h0.01M142.3,105.3h0.01M93.3,139.4h0.01M86.2,38.2h0.01M162.8,59.6h0.01M181.8,132.4h0.01M107.9,144.2h0.01M121.9,84.2h0.01M162.7,85.1h0.01M127.5,131.2h0.01M124.3,101.0h0.01M147.1,86.5h0.01M132.5,104.1h0.01M129.9,50.9h0.01M126.7,89.8h0.01M141.0,47.2h0.01M143.2,48.0h0.01M137.9,48.5h0.01M124.5,129.8h0.01M126.0,110.7h0.01M95.6,146.0h0.01M126.8,91.7h0.01M183.1,60.5h0.01M108.0,141.8h0.01M149.6,86.2h0.01M127.4,115.5h0.01M138.2,115.0h0.01M131.7,46.0h0.01M165.1,47.0h0.01M170.8,61.4h0.01M75.9,65.5h0.01M82.4,145.6h0.01M128.5,99.1h0.01M90.4,139.7h0.01M131.4,46.3h0.01M153.6,47.3h0.01M122.7,124.0h0.01M126.6,138.4h0.01M138.0,62.9h0.01M126.3,111.5h0.01M139.8,62.2h0.01M125.5,95.6h0.01M126.0,97.0h0.01M108.9,140.8h0.01M158.6,128.4h0.01M178.9,45.4h0.01M129.9,113.4h0.01M148.1,68.7h0.01M123.7,91.7h0.01M157.6,109.2h0.01M154.5,104.5h0.01M135.2,64.0h0.01M148.2,63.4h0.01M127.4,131.5h0.01M179.2,47.4h0.01M158.9,134.6h0.01M139.9,64.1h0.01M105.1,38.4h0.01M173.1,91.7h0.01M121.1,104.8h0.01M132.5,46.5h0.01M111.4,136.7h0.01M121.6,79.5h0.01M124.5,142.4h0.01M132.3,131.8h0.01M127.4,90.0h0.01M126.5,83.3h0.01M128.4,107.0h0.01M110.8,136.0h0.01M125.1,77.0h0.01M129.8,88.9h0.01M138.8,62.6h0.01M172.4,96.7h0.01M110.8,37.6h0.01M150.7,46.1h0.01M125.1,138.9h0.01M122.5,147.5h0.01M161.3,59.2h0.01M139.6,48.3h0.01M88.7,141.2h0.01M141.5,46.3h0.01M86.9,37.3h0.01M144.2,87.9h0.01M140.7,81.8h0.01M134.6,41.9h0.01M128.5,125.4h0.01M154.5,120.4h0.01M91.2,39.6h0.01M132.9,77.5h0.01M80.5,109.4h0.01M173.7,101.2h0.01M164.7,45.1h0.01M102.7,36.7h0.01M116.2,139.6h0.01M126.1,41.8h0.01M140.8,117.0h0.01M93.6,138.1h0.01M130.1,87.5h0.01M96.7,36.4h0.01M175.5,116.8h0.01M162.1,63.9h0.01M128.5,112.2h0.01M173.4,57.9h0.01M171.4,115.8h0.01M91.6,149.8h0.01M128.5,55.4h0.01M129.3,91.6h0.01M125.6,99.4h0.01M86.6,39.5h0.01M125.7,127.8h0.01M120.8,112.8h0.01M149.8,65.7h0.01M149.5,107.0h0.01M127.9,101.9h0.01M125.9,96.9h0.01M124.1,71.1h0.01M170.8,75.3h0.01M136.8,144.2h0.01M141.0,102.4h0.01M101.7,145.7h0.01M113.6,143.6h0.01M127.7,99.5h0.01M158.9,64.2h0.01M163.9,98.5h0.01M131.2,81.0h0.01M128.9,114.8h0.01M123.1,116.3h0.01M123.0,113.5h0.01M140.8,105.6h0.01M160.2,66.5h0.01M132.3,82.5h0.01M152.3,44.4h0.01M126.3,97.7h0.01M125.7,81.4h0.01M84.3,38.7h0.01M152.1,84.7h0.01M141.5,112.8h0.01M136.4,100.7h0.01M162.6,119.9h0.01M157.4,124.3h0.01M121.6,143.3h0.01M133.0,42.5h0.01M129.0,95.3h0.01M125.6,130.7h0.01M116.3,39.3h0.01M147.7,106.6h0.01M124.2,63.1h0.01M125.6,96.2h0.01M142.8,83.7h0.01M163.3,66.5h0.01M136.4,56.0h0.01M84.1,135.7h0.01M173.1,47.1h0.01M160.9,114.0h0.01M125.0,53.8h0.01M159.6,135.3h0.01M139.0,61.5h0.01M158.4,68.1h0.01M140.1,46.4h0.01M81.4,41.6h0.01M138.5,99.7h0.01M140.3,46.5h0.01M123.3,110.2h0.01M82.5,39.5h0.01M115.6,145.7h0.01M127.3,118.8h0.01M181.2,47.8h0.01M129.7,77.5h0.01M140.6,112.5h0.01M125.2,94.6h0.01M148.4,112.2h0.01M124.0,98.2h0.01M130.4,100.2h0.01M141.1,39.7h0.01M109.5,142.6h0.01M153.5,144.5h0.01M128.4,124.3h0.01M192.0,44.9h0.01M168.1,132.3h0.01M160.1,67.6h0.01M128.8,61.6h0.01M151.2,148.6h0.01M129.6,86.2h0.01M123.0,100.9h0.01M134.8,80.6h0.01M170.4,45.9h0.01M178.9,54.5h0.01M129.0,88.9h0.01M149.6,72.2h0.01M120.6,135.2h0.01M161.0,63.7h0.01M109.2,139.7h0.01M158.6,136.4h0.01M125.8,66.1h0.01M159.0,86.9h0.01M76.7,102.3h0.01M108.0,38.8h0.01M130.6,79.5h0.01M156.6,120.3h0.01M130.0,83.4h0.01M125.7,65.5h0.01M121.6,95.9h0.01M123.8,96.5h0.01M127.2,121.3h0.01M127.5,129.1h0.01M128.4,139.3h0.01M158.2,60.6h0.01M123.8,116.9h0.01M82.3,37.5h0.01M88.0,41.1h0.01M82.4,135.5h0.01M142.9,60.8h0.01M124.9,117.8h0.01M116.6,138.4h0.01M129.0,99.0h0.01M127.9,120.3h0.01M127.4,146.9h0.01M121.7,88.4h0.01M124.0,100.5h0.01M127.5,46.0h0.01M175.7,45.7h0.01M139.6,121.3h0.01M120.1,75.2h0.01M124.7,110.1h0.01M128.0,83.8h0.01M142.7,46.2h0.01M158.9,64.9h0.01M149.6,105.6h0.01M79.1,36.6h0.01M126.8,81.9h0.01M132.5,103.6h0.01M121.2,121.3h0.01M144.3,63.5h0.01M142.0,70.3h0.01M162.8,62.7h0.01" stroke="#2a2a2a" stroke-width="1.00" stroke-linecap="square" fill="none"/>
<rect x="72.3" y="32.0" width="132.1" height="119.5" fill="none" stroke="#444" stroke-width="1"/>
<rect x="74.5" y="37.0" width="54.5" height="38.2" fill="none" stroke="#333" stroke-width="1"/>
<rect x="131.0" y="37.8" width="57.5" height="31.4" fill="none" stroke="#333" stroke-width="1"/>
<line x1="179.0" y1="54.0" x2="219.0" y2="54.0" stroke="#222" stroke-width="0.9"/>
<path d="M223,54 L217.5,51.6 L217.5,56.4 Z" fill="#111" stroke="none" stroke-width="1"/>
<path d="M72.3,151.5 h-3.3 M72.3,148.5 h-3.3 M72.3,145.5 h-3.3 M72.3,142.5 h-3.3 M72.3,139.5 h-3.3 M72.3,136.5 h-3.3 M72.3,133.5 h-3.3 M72.3,130.5 h-3.3 M72.3,127.5 h-3.3 M72.3,124.9 h-6.5 M72.3,116.7 h-3.3 M72.3,111.9 h-3.3 M72.3,108.5 h-3.3 M72.3,105.9 h-3.3 M72.3,103.7 h-3.3 M72.3,101.9 h-3.3 M72.3,100.3 h-3.3 M72.3,98.9 h-3.3 M72.3,97.7 h-6.5 M72.3,89.5 h-3.3 M72.3,84.7 h-3.3 M72.3,81.3 h-3.3 M72.3,78.7 h-3.3 M72.3,76.5 h-3.3 M72.3,74.7 h-3.3 M72.3,73.1 h-3.3 M72.3,71.7 h-3.3 M72.3,70.5 h-6.5 M72.3,62.3 h-3.3 M72.3,57.5 h-3.3 M72.3,54.1 h-3.3 M72.3,51.5 h-3.3 M72.3,49.3 h-3.3 M72.3,47.5 h-3.3 M72.3,45.9 h-3.3 M72.3,44.5 h-3.3 M72.3,43.3 h-6.5 M72.3,35.1 h-3.3" fill="none" stroke="#333" stroke-width="1.05"/>
<path d="M72.3,151.5 v4.6 M76.8,151.5 v4.6 M81.3,151.5 v4.6 M85.8,151.5 v4.6 M90.3,151.5 v4.6 M96.0,151.5 v5.5 M105.6,151.5 v4.6 M111.3,151.5 v4.6 M115.3,151.5 v4.6 M118.4,151.5 v4.6 M120.9,151.5 v4.6 M123.0,151.5 v4.6 M124.9,151.5 v4.6 M126.5,151.5 v4.6 M128.0,151.5 v5.5 M137.6,151.5 v4.6 M143.3,151.5 v4.6 M147.3,151.5 v4.6 M150.4,151.5 v4.6 M152.9,151.5 v4.6 M155.0,151.5 v4.6 M156.9,151.5 v4.6 M158.5,151.5 v4.6 M160.0,151.5 v5.5 M169.6,151.5 v4.6 M175.3,151.5 v4.6 M179.3,151.5 v4.6 M182.4,151.5 v4.6 M184.9,151.5 v4.6 M187.0,151.5 v4.6 M188.9,151.5 v4.6 M190.5,151.5 v4.6 M192.0,151.5 v5.5 M201.6,151.5 v4.6" fill="none" stroke="#333" stroke-width="1.1"/>
<text x="145.2" y="85.4" font-size="14" text-anchor="start" font-weight="normal" fill="#111" stroke="#111">LSK</text>
<text x="63.0" y="94.4" font-size="16" text-anchor="middle" font-weight="normal" fill="#111" stroke="#111" transform="rotate(-90 63 94.4)">c-kit</text>
<text x="115.5" y="169.4" font-size="15" text-anchor="start" font-weight="normal" fill="#111" stroke="#111">Sca-1</text>
<path d="M342.3,135.4 L341.3,135.4 L340.8,135.2 L339.8,134.9 L339.2,134.7 L338.3,134.6 L337.6,134.7 L336.8,135.0 L336.1,135.2 L335.3,135.2 L334.3,135.2 L333.3,135.3 L332.3,135.3 L331.6,135.2 L330.8,134.9 L330.3,134.5 L329.8,134.1 L329.1,133.7 L328.3,133.5 L327.3,133.5 L326.3,133.5 L325.3,133.4 L324.5,133.2 L323.8,132.8 L323.3,132.5 L322.8,132.0 L322.3,131.6 L321.8,131.2 L321.2,130.7 L320.5,130.2 L319.8,129.8 L319.3,129.6 L318.3,129.5 L317.3,129.6 L316.8,129.8 L315.8,130.1 L315.3,130.2 L314.3,130.5 L313.5,130.7 L312.8,130.8 L311.8,130.8 L310.8,130.9 L309.8,131.2 L309.3,131.4 L308.3,131.7 L307.8,131.7 L307.3,131.6 L306.3,131.4 L305.6,131.2 L304.8,131.0 L303.8,130.8 L302.8,130.9 L301.9,131.2 L301.3,131.5 L300.8,131.8 L300.0,132.2 L299.3,132.4 L298.3,132.3 L297.3,132.2 L296.8,132.2 L296.3,132.2 L295.3,132.3 L294.3,132.4 L293.3,132.5 L292.3,132.5 L291.3,132.5 L290.3,132.6 L289.3,132.6 L288.3,132.7 L287.8,132.7 L287.1,132.7 L286.3,132.6 L285.3,132.2 L284.8,132.0 L284.0,131.7 L283.3,131.5 L282.5,131.2 L281.8,130.9 L281.3,130.6 L280.7,130.2 L279.9,129.7 L279.3,129.4 L278.8,129.2 L277.8,129.0 L276.8,129.1 L275.8,129.1 L274.8,128.8 L274.3,128.5 L273.8,128.2 L273.3,127.7 L272.8,127.2 L272.3,126.6 L271.8,126.2 L271.1,125.7 L270.3,125.3 L269.8,125.1 L268.8,124.9 L267.8,124.9 L266.8,124.8 L266.3,124.7 L265.4,124.2 L264.8,123.7 L264.3,123.2 L263.8,122.7 L263.4,122.2 L263.0,121.7 L262.6,121.2 L262.3,120.7 L261.8,119.7 L261.7,119.2 L261.4,118.2 L261.3,117.7 L261.1,116.7 L261.0,115.7 L261.0,114.7 L261.0,113.7 L260.9,112.7 L260.9,111.7 L260.8,111.0 L260.7,110.2 L260.6,109.2 L260.5,108.2 L260.5,107.2 L260.5,106.2 L260.6,105.2 L260.6,104.2 L260.6,103.2 L260.5,102.2 L260.4,101.2 L260.3,100.2 L260.3,99.6 L260.3,98.7 L260.2,97.7 L260.1,96.7 L260.0,95.7 L259.9,94.7 L259.9,93.7 L259.9,92.7 L260.0,91.7 L260.0,90.7 L260.0,89.7 L260.0,88.7 L260.0,87.7 L260.1,86.7 L260.1,85.7 L260.1,84.7 L260.0,83.7 L260.0,82.7 L260.0,81.7 L260.0,80.7 L260.1,79.7 L260.1,78.7 L260.1,77.7 L260.1,76.7 L260.1,75.7 L260.1,74.7 L260.2,73.7 L260.3,72.8 L260.4,72.2 L260.5,71.2 L260.6,70.2 L260.8,69.4 L261.1,68.7 L261.7,68.2 L262.3,68.0 L263.3,67.8 L263.8,67.7 L264.8,67.5 L265.8,67.4 L266.8,67.3 L267.7,67.2 L268.3,67.2 L269.3,67.1 L270.3,67.0 L271.3,66.9 L272.3,66.8 L273.3,66.8 L274.3,66.8 L275.3,66.8 L276.3,66.8 L277.3,66.8 L278.3,66.8 L279.3,66.7 L279.8,66.7 L280.8,66.6 L281.8,66.6 L282.8,66.6 L283.8,66.6 L284.8,66.6 L285.8,66.7 L286.8,66.7 L287.8,66.7 L288.3,66.7 L289.3,66.7 L290.3,66.7 L291.3,66.8 L292.3,66.8 L293.3,66.8 L294.3,66.7 L295.3,66.7 L296.3,66.8 L297.3,66.8 L298.3,66.9 L299.3,66.9 L300.3,67.0 L301.3,67.0 L302.3,67.1 L303.1,67.2 L303.8,67.3 L304.8,67.4 L305.8,67.5 L306.8,67.6 L307.3,67.7 L308.3,68.0 L309.3,68.1 L310.3,68.2 L310.8,68.2 L311.8,68.2 L312.8,68.3 L313.8,68.5 L314.5,68.7 L315.3,69.0 L315.9,69.2 L316.8,69.6 L317.3,69.9 L318.0,70.2 L318.8,70.6 L319.3,70.8 L319.9,71.2 L320.5,71.7 L321.0,72.2 L321.5,72.7 L321.9,73.2 L322.4,73.7 L323.2,74.2 L323.8,74.4 L324.8,74.6 L325.3,74.8 L326.2,75.2 L326.8,75.5 L327.3,75.8 L328.3,76.2 L328.8,76.3 L329.8,76.7 L330.3,76.9 L330.8,77.2 L331.3,77.7 L331.8,78.6 L332.0,79.2 L332.3,80.1 L332.7,80.7 L333.3,81.1 L333.8,81.4 L334.4,81.7 L335.3,82.2 L335.8,82.6 L336.3,83.0 L336.8,83.5 L337.3,84.0 L337.8,84.6 L338.3,85.2 L338.7,85.7 L339.1,86.2 L339.5,86.7 L339.8,87.2 L340.3,87.9 L340.8,88.6 L341.3,89.2 L341.8,89.7 L342.3,90.1 L342.8,90.5 L343.3,90.8 L343.8,91.2 L344.3,91.7 L344.8,92.4 L345.3,93.2 L345.6,93.7 L345.9,94.2 L346.3,94.7 L346.8,95.3 L347.3,95.9 L347.8,96.6 L348.1,97.2 L348.3,97.7 L348.6,98.7 L348.9,99.2 L349.3,100.0 L349.8,100.7 L350.1,101.2 L350.3,102.0 L350.3,102.7 L350.3,103.2 L350.3,104.2 L350.3,104.7 L350.3,105.7 L350.3,106.2 L350.0,107.2 L349.8,107.9 L349.7,108.7 L349.9,109.2 L350.4,109.7 L351.2,110.2 L351.8,110.6 L352.3,111.0 L352.8,111.6 L353.1,112.2 L353.2,113.2 L353.0,114.2 L352.7,114.7 L352.2,115.2 L351.5,115.7 L350.8,116.2 L350.3,116.6 L349.8,117.1 L349.4,117.7 L349.2,118.2 L349.3,119.1 L349.5,119.7 L349.8,120.3 L350.2,121.2 L350.4,121.7 L350.6,122.7 L350.7,123.7 L350.5,124.7 L350.3,125.3 L349.8,126.2 L349.5,126.7 L349.0,127.2 L348.5,127.7 L347.9,128.2 L347.3,128.6 L346.8,128.8 L345.9,129.2 L345.3,129.5 L344.8,129.7 L344.1,130.2 L343.6,130.7 L343.3,131.3 L343.0,132.2 L343.1,133.2 L343.3,134.2 L342.8,135.1 L342.3,135.4 M341.3,129.9 L340.3,130.1 L339.3,129.8 L338.8,129.5 L338.3,129.2 L337.3,128.7 L336.8,128.6 L335.8,128.4 L334.8,128.7 L334.3,129.0 L333.8,129.4 L333.3,129.8 L332.3,130.0 L331.7,129.7 L330.9,129.2 L330.3,128.8 L329.8,128.5 L329.2,128.2 L328.3,127.7 L327.8,127.4 L327.3,126.9 L326.8,126.3 L326.3,125.8 L325.8,125.6 L324.8,125.6 L323.8,125.6 L322.8,125.3 L322.3,125.2 L321.8,125.2 L320.8,125.5 L320.2,125.7 L319.3,125.9 L318.3,126.0 L317.3,126.1 L316.8,126.2 L315.8,126.5 L315.2,126.7 L314.3,127.0 L313.3,127.1 L312.3,126.9 L311.7,126.7 L310.8,126.5 L309.8,126.4 L308.8,126.3 L307.8,126.3 L307.2,126.2 L306.6,126.2 L305.8,126.4 L305.2,126.7 L304.4,127.2 L303.8,127.6 L303.3,127.9 L302.4,128.2 L301.8,128.4 L300.8,128.5 L299.8,128.6 L298.9,128.7 L298.3,128.8 L297.3,128.8 L296.3,128.7 L295.8,128.6 L294.8,128.4 L293.8,128.3 L292.8,128.3 L291.8,128.4 L290.8,128.4 L290.1,128.2 L289.3,127.9 L288.8,127.5 L288.3,127.1 L287.7,126.7 L286.8,126.3 L286.3,126.2 L285.3,126.2 L284.8,126.3 L283.8,126.6 L283.3,126.8 L282.3,127.0 L281.3,127.0 L280.3,126.7 L279.8,126.6 L278.8,126.3 L278.3,126.1 L277.3,125.7 L276.8,125.4 L276.3,125.0 L275.8,124.4 L275.3,123.8 L274.8,123.3 L274.3,122.9 L273.8,122.5 L273.3,122.2 L272.3,121.8 L271.8,121.7 L270.8,121.6 L269.8,121.6 L268.8,121.4 L268.3,121.2 L267.8,120.6 L267.4,119.7 L267.1,119.2 L266.7,118.7 L266.0,118.2 L265.3,118.0 L264.3,117.9 L263.5,117.7 L262.9,117.2 L262.6,116.7 L262.4,115.7 L262.3,114.9 L262.3,114.2 L262.2,113.2 L262.1,112.2 L261.9,111.2 L261.8,110.7 L261.6,109.7 L261.4,108.7 L261.4,107.7 L261.3,106.7 L261.4,105.7 L261.4,104.7 L261.4,103.7 L261.3,102.7 L261.3,102.2 L261.1,101.2 L261.0,100.2 L260.9,99.2 L260.8,98.2 L260.8,97.7 L260.7,96.7 L260.5,95.7 L260.5,94.7 L260.4,93.7 L260.4,92.7 L260.4,91.7 L260.5,90.7 L260.5,89.7 L260.5,88.7 L260.5,87.7 L260.6,86.7 L260.6,85.7 L260.6,84.7 L260.6,83.7 L260.5,82.7 L260.5,81.7 L260.6,80.7 L260.6,79.7 L260.6,78.7 L260.7,77.7 L260.7,76.7 L260.7,75.7 L260.7,74.7 L260.8,73.9 L260.9,73.2 L261.1,72.2 L261.3,71.2 L261.4,70.7 L261.8,69.7 L262.2,69.2 L262.8,68.9 L263.3,68.7 L264.3,68.4 L264.9,68.2 L265.8,68.0 L266.8,67.9 L267.8,67.8 L268.5,67.7 L269.3,67.6 L270.3,67.5 L271.3,67.4 L272.3,67.3 L273.3,67.3 L274.3,67.3 L275.3,67.3 L276.3,67.3 L277.3,67.3 L278.3,67.3 L279.1,67.2 L279.8,67.1 L280.8,67.1 L281.8,67.0 L282.8,67.0 L283.8,67.0 L284.8,67.1 L285.8,67.1 L286.8,67.1 L287.8,67.1 L288.8,67.2 L289.8,67.2 L290.3,67.2 L291.3,67.2 L292.3,67.2 L293.3,67.2 L294.2,67.2 L294.8,67.2 L295.3,67.2 L296.3,67.2 L297.3,67.3 L298.3,67.4 L299.3,67.4 L300.3,67.5 L301.3,67.6 L302.3,67.7 L302.8,67.7 L303.8,67.9 L304.8,68.0 L305.8,68.2 L306.3,68.3 L307.3,68.6 L307.8,68.8 L308.7,69.2 L309.3,69.4 L310.3,69.6 L311.3,69.6 L312.0,69.7 L312.8,69.9 L313.4,70.2 L313.9,70.7 L314.3,71.3 L314.7,72.2 L314.9,72.7 L315.3,73.5 L315.8,74.2 L316.3,74.6 L316.8,75.0 L317.3,75.3 L317.8,75.8 L318.2,76.7 L318.3,77.2 L318.7,78.2 L319.0,78.7 L319.3,79.2 L319.9,79.7 L320.8,80.2 L321.3,80.4 L322.3,80.5 L323.3,80.7 L323.8,80.8 L324.8,81.0 L325.8,81.1 L326.8,80.9 L327.8,80.7 L328.8,81.2 L329.1,81.7 L329.4,82.2 L329.8,82.8 L330.3,83.5 L330.8,84.0 L331.3,84.4 L331.8,84.8 L332.4,85.2 L332.8,85.7 L333.3,86.6 L333.6,87.2 L333.9,87.7 L334.5,88.2 L335.3,88.6 L335.8,88.7 L336.8,89.0 L337.3,89.4 L337.8,89.8 L338.3,90.5 L338.8,91.1 L339.3,91.6 L339.8,92.1 L340.3,92.4 L340.8,92.8 L341.4,93.2 L341.9,93.7 L342.3,94.2 L342.7,95.2 L342.6,96.2 L342.3,97.1 L342.1,97.7 L341.8,98.7 L341.9,99.7 L342.3,100.5 L342.8,100.9 L343.3,101.2 L344.1,101.7 L344.8,102.2 L345.3,102.6 L345.7,103.2 L345.7,104.2 L345.3,104.9 L344.8,105.4 L344.3,105.9 L343.9,106.7 L343.9,107.7 L344.3,108.7 L344.6,109.2 L345.1,109.7 L345.7,110.2 L346.3,110.5 L346.8,110.8 L347.4,111.2 L348.2,111.7 L348.8,112.2 L349.1,112.7 L349.3,113.2 L349.3,113.8 L348.9,114.7 L348.5,115.2 L348.1,115.7 L347.8,116.2 L347.3,116.9 L346.9,117.7 L346.7,118.2 L346.4,119.2 L346.3,119.7 L346.1,120.7 L346.2,121.7 L346.3,122.2 L346.8,123.0 L347.2,123.7 L347.2,124.7 L346.8,125.4 L346.3,126.0 L345.8,126.5 L345.3,126.9 L344.8,127.2 L344.1,127.7 L343.4,128.2 L342.8,128.7 L342.3,129.2 L341.8,129.6 L341.3,129.9 M328.1,106.2 L328.8,105.8 L329.3,105.4 L329.8,104.9 L330.3,104.4 L330.8,103.8 L331.2,103.2 L331.4,102.7 L331.6,101.7 L331.6,100.7 L331.3,99.8 L330.8,99.2 L330.3,99.1 L329.7,99.2 L328.8,99.7 L328.3,100.1 L327.8,100.3 L326.8,100.5 L325.8,100.3 L325.3,100.0 L324.8,99.7 L324.1,99.2 L323.4,98.7 L322.8,98.4 L322.3,98.1 L321.3,97.8 L320.6,97.7 L319.8,97.7 L319.3,97.8 L318.3,98.0 L317.8,98.2 L316.8,98.6 L316.3,99.0 L315.8,99.4 L315.3,100.2 L315.1,100.7 L314.9,101.7 L314.9,102.7 L315.2,103.7 L315.5,104.2 L315.8,104.7 L316.3,105.3 L316.9,105.7 L317.8,105.9 L318.7,105.7 L319.3,105.5 L319.9,105.2 L320.8,104.8 L321.3,104.7 L322.3,104.5 L323.3,104.6 L324.0,104.7 L324.8,105.1 L325.3,105.6 L325.8,106.1 L326.3,106.4 L327.3,106.4 L328.1,106.2 M318.8,112.7 L319.8,112.6 L320.8,112.2 L321.3,111.7 L321.5,111.2 L321.8,110.7 L322.1,109.7 L322.2,108.7 L321.7,108.2 L320.8,108.0 L319.8,108.1 L319.3,108.3 L318.3,108.6 L317.8,108.8 L317.1,109.2 L316.4,109.7 L315.9,110.2 L315.6,110.7 L315.3,111.7 L315.8,112.6 L316.3,112.8 L317.3,112.9 L318.3,112.8 L318.8,112.7 M327.1,125.2 L327.8,125.0 L328.3,124.5 L328.5,123.7 L328.4,122.7 L328.3,122.1 L327.8,121.2 L327.3,120.9 L326.7,121.2 L326.2,121.7 L325.8,122.7 L325.7,123.2 L325.8,123.8 L326.1,124.7 L326.6,125.2 L327.1,125.2 M296.8,123.7 L295.8,123.8 L294.8,124.0 L293.8,124.2 L292.8,124.1 L292.4,123.2 L292.6,122.2 L292.6,121.2 L292.3,120.3 L292.0,119.7 L291.6,119.2 L291.0,118.7 L290.3,118.2 L289.8,118.0 L288.8,117.7 L288.3,117.6 L287.3,117.7 L286.8,117.8 L285.8,118.1 L285.3,118.4 L284.8,118.7 L284.3,119.2 L283.9,120.2 L283.8,120.7 L283.3,121.5 L282.8,121.9 L281.8,121.8 L281.7,121.2 L281.7,120.2 L281.7,119.2 L281.4,118.2 L281.0,117.7 L280.6,117.2 L280.1,116.7 L279.6,116.2 L279.0,115.7 L278.3,115.3 L277.3,115.2 L276.3,115.5 L275.8,115.7 L274.8,116.0 L273.8,115.8 L273.3,115.4 L272.8,115.0 L272.3,114.6 L271.7,114.2 L271.0,113.7 L270.5,113.2 L270.7,112.2 L270.9,111.7 L270.8,111.1 L270.3,110.2 L269.8,109.7 L269.3,109.3 L268.8,108.9 L268.3,108.5 L267.8,108.2 L266.9,107.7 L266.3,107.4 L265.7,107.2 L264.8,106.7 L264.8,106.6 L265.3,105.7 L265.5,105.2 L265.4,104.2 L265.1,103.7 L264.7,103.2 L264.3,102.7 L263.8,102.1 L263.3,101.4 L262.9,100.7 L262.6,100.2 L262.3,99.4 L262.1,98.7 L261.8,97.9 L261.6,97.2 L261.4,96.2 L261.3,95.7 L261.1,94.7 L261.1,93.7 L261.1,92.7 L261.1,91.7 L261.1,90.7 L261.2,89.7 L261.2,88.7 L261.2,87.7 L261.3,86.7 L261.3,86.2 L261.4,85.2 L261.4,84.2 L261.3,83.2 L261.3,82.7 L261.2,81.7 L261.2,80.7 L261.3,79.7 L261.3,79.2 L261.4,78.2 L261.5,77.2 L261.6,76.2 L261.7,75.2 L261.8,74.7 L262.1,73.7 L262.3,73.1 L262.8,72.2 L263.1,71.7 L263.5,71.2 L263.9,70.7 L264.3,70.2 L264.9,69.7 L265.7,69.2 L266.3,69.0 L267.3,68.8 L267.8,68.7 L268.8,68.6 L269.8,68.4 L270.6,68.2 L271.3,68.1 L272.3,67.9 L273.3,67.8 L274.3,67.8 L275.3,67.9 L276.3,67.9 L277.3,67.9 L278.3,67.9 L279.3,67.8 L280.2,67.7 L280.8,67.7 L281.8,67.6 L282.8,67.6 L283.8,67.6 L284.8,67.6 L285.8,67.7 L286.8,67.7 L287.3,67.7 L288.3,67.7 L289.3,67.8 L290.3,67.8 L291.3,67.8 L292.3,67.8 L293.3,67.8 L294.3,67.8 L295.3,67.8 L296.3,67.8 L297.3,67.9 L298.3,68.0 L299.3,68.1 L300.2,68.2 L300.8,68.3 L301.8,68.5 L302.8,68.7 L303.3,68.8 L304.3,69.2 L304.8,69.3 L305.7,69.7 L306.3,70.0 L306.8,70.3 L307.6,70.7 L308.3,71.1 L308.8,71.3 L309.6,71.7 L310.3,72.1 L310.8,72.4 L311.3,72.9 L311.8,73.7 L311.9,74.2 L312.1,75.2 L312.3,76.2 L312.6,76.7 L313.1,77.2 L313.8,77.5 L314.4,77.7 L315.3,78.1 L315.8,78.5 L316.3,79.1 L316.8,79.7 L317.2,80.2 L317.6,80.7 L318.1,81.2 L318.6,81.7 L319.0,82.2 L319.3,82.7 L319.6,83.7 L319.3,84.6 L319.0,85.2 L318.7,85.7 L318.5,86.7 L318.5,87.7 L318.3,88.5 L317.9,89.2 L317.3,89.7 L316.8,90.0 L316.3,90.2 L315.3,90.6 L314.8,90.9 L314.3,91.3 L313.8,91.8 L313.3,92.6 L313.0,93.2 L312.8,93.7 L312.3,94.6 L311.8,95.2 L311.3,95.5 L310.8,95.7 L309.8,96.0 L309.0,96.2 L308.3,96.6 L307.8,97.0 L307.4,97.7 L307.3,98.2 L307.1,99.2 L306.9,100.2 L306.7,100.7 L306.5,101.7 L306.6,102.7 L306.7,103.7 L306.8,104.7 L306.7,105.7 L306.7,106.7 L306.6,107.7 L306.3,108.6 L305.9,109.2 L305.4,109.7 L304.8,110.0 L304.3,110.3 L303.3,110.7 L302.8,111.0 L302.3,111.4 L301.8,112.1 L301.7,112.7 L301.8,113.4 L302.2,114.2 L302.6,114.7 L303.0,115.2 L303.4,115.7 L303.3,116.6 L302.8,117.2 L302.3,117.7 L301.8,118.2 L301.3,118.6 L300.8,119.1 L300.3,119.5 L299.8,120.0 L299.3,120.7 L299.0,121.2 L298.8,121.7 L298.4,122.7 L298.0,123.2 L297.3,123.6 L296.8,123.7 M340.8,126.3 L339.8,126.3 L339.3,126.1 L338.8,125.7 L338.3,124.8 L338.0,124.2 L337.7,123.7 L337.1,123.2 L336.3,122.7 L335.8,122.4 L335.3,122.2 L334.6,121.7 L334.0,121.2 L333.6,120.7 L333.2,120.2 L332.8,119.7 L332.3,119.2 L331.6,118.7 L330.9,118.2 L330.3,117.7 L330.0,117.2 L330.0,116.2 L330.3,115.7 L330.8,115.2 L331.3,114.6 L331.7,113.7 L331.7,112.7 L331.8,111.7 L331.8,111.2 L332.3,110.2 L332.8,109.9 L333.8,110.0 L334.3,110.2 L335.3,110.6 L335.8,110.7 L336.8,111.0 L337.5,111.2 L338.3,111.6 L338.8,111.9 L339.3,112.2 L340.0,112.7 L340.8,113.2 L341.3,113.4 L342.2,113.7 L342.8,113.8 L343.6,113.7 L344.3,113.6 L345.0,113.7 L345.6,114.2 L345.4,115.2 L345.1,115.7 L344.8,116.2 L344.3,117.0 L343.8,117.7 L343.4,118.2 L343.1,118.7 L342.8,119.2 L342.3,120.2 L342.1,120.7 L342.0,121.7 L342.2,122.7 L342.4,123.2 L342.8,123.9 L343.3,124.5 L343.3,125.2 L342.8,125.6 L342.3,125.8 L341.3,126.2 L340.8,126.3 M306.3,121.9 L305.3,122.1 L304.3,122.0 L303.8,121.7 L303.5,120.7 L303.8,120.0 L304.3,119.2 L304.6,118.7 L304.9,118.2 L304.8,117.5 L304.4,116.7 L304.3,116.2 L304.8,115.7 L305.3,115.5 L306.0,115.7 L305.9,116.7 L305.7,117.2 L305.6,118.2 L305.9,118.7 L306.3,119.3 L306.8,120.0 L307.1,120.7 L306.8,121.5 L306.3,121.9 M313.8,119.9 L313.1,119.7 L312.8,119.2 L312.9,118.7 L313.3,118.2 L314.1,118.2 L314.5,118.7 L314.3,119.7 L313.8,119.9 M292.3,114.8 L291.3,115.0 L290.3,114.9 L289.6,114.7 L288.8,114.4 L287.8,114.3 L286.8,114.3 L285.8,114.3 L284.8,114.3 L283.8,114.3 L283.3,114.2 L282.3,113.8 L281.8,113.5 L281.3,113.2 L280.5,112.7 L279.8,112.4 L279.3,112.2 L278.3,111.8 L277.8,111.5 L277.3,111.2 L276.8,110.7 L276.3,110.0 L275.8,109.2 L275.4,108.7 L274.9,108.2 L274.3,107.9 L273.7,107.7 L272.8,107.4 L272.3,107.2 L271.6,106.7 L271.1,106.2 L270.8,105.7 L270.4,104.7 L270.2,104.2 L269.8,103.5 L269.3,102.9 L268.8,102.4 L268.3,102.1 L267.8,101.7 L267.1,101.2 L266.5,100.7 L266.1,100.2 L265.7,99.7 L265.3,99.0 L264.8,98.2 L264.4,97.7 L264.0,97.2 L263.6,96.7 L263.2,96.2 L262.8,95.4 L262.6,94.7 L262.4,93.7 L262.4,92.7 L262.4,91.7 L262.4,90.7 L262.4,89.7 L262.5,88.7 L262.6,87.7 L262.6,86.7 L262.7,85.7 L262.8,84.7 L262.8,84.2 L262.8,83.4 L262.7,82.7 L262.5,81.7 L262.4,80.7 L262.4,79.7 L262.5,78.7 L262.8,77.7 L263.0,77.2 L263.4,76.7 L264.0,76.2 L264.6,75.7 L265.2,75.2 L265.6,74.7 L265.9,74.2 L266.3,73.3 L266.6,72.7 L266.9,72.2 L267.4,71.7 L268.3,71.2 L268.8,71.0 L269.3,70.7 L270.1,70.2 L270.7,69.7 L271.3,69.3 L271.8,69.1 L272.8,68.8 L273.8,68.7 L274.8,68.8 L275.8,68.9 L276.8,69.0 L277.8,69.0 L278.8,68.9 L279.8,68.8 L280.5,68.7 L281.3,68.6 L282.3,68.6 L283.3,68.5 L284.3,68.5 L285.3,68.5 L286.3,68.5 L287.3,68.6 L288.3,68.7 L289.1,68.7 L289.8,68.7 L290.8,68.7 L291.8,68.7 L292.8,68.7 L293.8,68.7 L294.8,68.7 L295.8,68.8 L296.8,68.9 L297.8,69.2 L298.3,69.3 L299.3,69.5 L300.3,69.7 L300.8,69.9 L301.5,70.2 L302.1,70.7 L302.6,71.2 L303.0,71.7 L303.3,72.2 L303.8,73.2 L304.1,73.7 L304.4,74.2 L305.0,74.7 L305.8,75.0 L306.8,75.0 L307.4,75.2 L307.8,75.7 L308.1,76.7 L308.3,77.2 L308.7,78.2 L308.9,78.7 L309.3,79.4 L309.8,80.1 L310.3,80.7 L310.7,81.2 L311.2,81.7 L311.5,82.2 L311.8,82.9 L311.8,83.5 L311.6,84.2 L311.3,84.9 L310.8,85.7 L310.5,86.2 L310.1,86.7 L309.8,87.2 L309.4,88.2 L309.3,89.1 L309.2,89.7 L308.9,90.7 L308.6,91.2 L308.0,91.7 L307.5,92.2 L307.0,92.7 L306.5,93.2 L306.2,93.7 L305.8,94.2 L305.3,94.9 L304.8,95.7 L304.4,96.2 L304.1,96.7 L303.8,97.3 L303.3,98.2 L303.1,98.7 L302.8,99.7 L302.8,100.2 L302.6,101.2 L302.3,102.2 L302.2,102.7 L301.8,103.5 L301.3,104.1 L300.8,104.4 L299.8,104.6 L298.8,104.7 L298.3,104.8 L297.3,105.1 L296.8,105.5 L296.3,106.0 L295.8,106.6 L295.4,107.2 L295.2,107.7 L294.9,108.7 L294.8,109.6 L294.7,110.2 L294.4,111.2 L294.2,111.7 L293.8,112.7 L293.5,113.2 L293.3,113.7 L292.8,114.4 L292.3,114.8 M289.3,105.8 L288.3,105.9 L287.3,105.9 L286.3,105.7 L285.8,105.6 L285.2,105.2 L284.5,104.7 L283.9,104.2 L283.3,103.8 L282.8,103.5 L282.0,103.2 L281.3,103.0 L280.3,102.9 L279.3,102.8 L278.8,102.7 L277.8,102.4 L277.1,102.2 L276.3,102.1 L275.3,102.1 L274.3,102.1 L273.3,102.0 L272.4,101.7 L271.8,101.4 L271.3,101.0 L270.8,100.6 L270.3,100.2 L269.7,99.7 L269.2,99.2 L268.8,98.5 L268.5,97.7 L268.3,97.2 L267.8,96.4 L267.3,95.9 L266.8,95.5 L266.3,95.1 L265.8,94.5 L265.4,93.7 L265.2,93.2 L265.1,92.2 L265.1,91.2 L265.3,90.3 L265.5,89.7 L265.7,88.7 L265.8,88.2 L265.9,87.2 L265.8,86.7 L265.8,85.7 L265.8,85.2 L266.1,84.2 L266.3,83.3 L266.3,82.7 L266.2,82.2 L265.8,81.6 L265.3,81.0 L264.8,80.4 L264.5,79.7 L264.7,78.7 L265.2,78.2 L265.8,77.7 L266.3,77.5 L266.8,77.2 L267.7,76.7 L268.3,76.2 L268.8,75.7 L269.2,75.2 L269.8,74.7 L270.3,74.2 L270.8,73.8 L271.3,73.2 L271.7,72.7 L272.2,72.2 L272.7,71.7 L273.3,71.3 L273.8,71.1 L274.8,71.0 L275.8,71.0 L276.8,71.1 L277.6,71.2 L278.3,71.3 L279.3,71.6 L279.8,71.7 L280.8,71.9 L281.8,71.8 L282.3,71.6 L283.0,71.2 L283.8,70.7 L284.3,70.5 L285.3,70.3 L286.3,70.4 L286.9,70.7 L287.8,71.2 L288.3,71.4 L289.1,71.7 L289.8,71.8 L290.8,71.8 L291.8,71.8 L292.8,71.8 L293.8,71.8 L294.3,71.7 L295.3,71.5 L296.3,71.4 L297.3,71.6 L297.8,71.7 L298.8,72.2 L299.3,72.5 L299.8,73.1 L300.1,73.7 L300.4,74.2 L300.8,75.0 L301.3,75.6 L301.8,76.2 L302.3,76.7 L302.7,77.2 L303.1,77.7 L303.4,78.2 L303.7,79.2 L303.6,80.2 L303.3,81.0 L302.9,81.7 L302.6,82.2 L302.3,82.9 L302.3,83.4 L302.8,84.1 L303.3,84.4 L303.8,84.7 L304.4,85.2 L304.8,85.8 L305.1,86.7 L305.2,87.7 L305.0,88.7 L304.6,89.2 L304.1,89.7 L303.5,90.2 L303.0,90.7 L302.5,91.2 L301.9,91.7 L301.3,92.1 L300.8,92.3 L299.8,92.6 L299.3,92.9 L298.8,93.3 L298.4,94.2 L298.5,95.2 L298.8,96.2 L298.9,96.7 L298.8,97.4 L298.4,98.2 L297.8,98.7 L297.3,99.0 L296.8,99.4 L296.3,99.8 L295.8,100.2 L295.3,100.7 L294.8,101.2 L294.2,101.7 L293.7,102.2 L293.1,102.7 L292.5,103.2 L292.1,103.7 L291.6,104.2 L291.2,104.7 L290.6,105.2 L289.8,105.6 L289.3,105.8 M284.8,99.2 L283.8,99.4 L282.8,99.4 L281.8,99.5 L280.8,99.6 L279.8,99.6 L278.8,99.5 L278.1,99.2 L277.3,98.8 L276.8,98.4 L276.3,98.0 L275.8,97.5 L275.3,97.1 L274.8,96.7 L274.1,96.2 L273.7,95.7 L273.3,95.2 L272.8,94.4 L272.4,93.7 L272.1,93.2 L271.8,92.7 L271.3,91.8 L271.0,91.2 L270.8,90.4 L270.7,89.7 L270.6,88.7 L270.5,87.7 L270.4,86.7 L270.5,85.7 L270.6,84.7 L270.6,83.7 L270.5,82.7 L270.3,81.8 L270.2,81.2 L270.3,80.7 L270.8,79.8 L271.3,79.3 L271.8,79.0 L272.5,78.7 L273.3,78.4 L273.8,78.1 L274.3,77.7 L274.8,76.7 L274.9,76.2 L275.1,75.2 L275.3,74.7 L275.8,74.1 L276.8,73.7 L277.8,73.8 L278.8,74.0 L279.8,74.2 L280.3,74.2 L281.0,74.2 L281.8,74.1 L282.8,73.8 L283.3,73.6 L284.3,73.3 L284.8,73.2 L285.3,73.2 L286.3,73.6 L286.8,73.9 L287.3,74.2 L288.2,74.7 L288.8,75.0 L289.5,75.2 L290.3,75.4 L291.3,75.5 L292.3,75.6 L293.1,75.7 L293.8,75.9 L294.3,76.3 L294.8,76.8 L295.3,77.4 L295.8,77.8 L296.3,78.2 L297.1,78.7 L297.8,79.1 L298.3,79.4 L298.8,80.1 L298.9,80.7 L298.9,81.7 L298.8,82.6 L298.8,83.2 L298.8,84.0 L298.9,84.7 L299.2,85.7 L299.4,86.2 L299.7,87.2 L299.3,88.1 L298.8,88.5 L298.3,88.8 L297.7,89.2 L297.2,89.7 L296.8,90.4 L296.4,91.2 L296.2,91.7 L295.8,92.5 L295.4,93.2 L295.2,93.7 L294.8,94.5 L294.4,95.2 L294.2,95.7 L293.8,96.3 L293.3,96.9 L292.7,97.2 L291.8,97.4 L290.8,97.5 L289.8,97.7 L289.3,97.8 L288.3,98.1 L287.8,98.2 L286.8,98.5 L286.2,98.7 L285.3,99.0 L284.8,99.2 M287.3,95.3 L286.3,95.6 L285.3,95.6 L284.3,95.5 L283.3,95.2 L282.8,95.0 L282.0,94.7 L281.3,94.5 L280.3,94.4 L279.3,94.6 L278.3,94.6 L277.3,94.4 L276.7,94.2 L276.0,93.7 L275.5,93.2 L275.2,92.7 L274.8,92.0 L274.5,91.2 L274.3,90.7 L274.1,89.7 L274.1,88.7 L274.3,87.7 L274.4,87.2 L274.5,86.2 L274.7,85.2 L274.8,84.6 L275.0,83.7 L275.2,82.7 L275.4,82.2 L275.8,81.5 L276.3,80.7 L276.7,80.2 L277.1,79.7 L277.5,79.2 L277.9,78.7 L278.3,78.1 L278.8,77.5 L279.3,77.1 L280.0,76.7 L280.8,76.4 L281.4,76.2 L282.3,75.9 L283.1,75.7 L283.8,75.5 L284.8,75.5 L285.8,75.7 L286.3,75.9 L286.9,76.2 L287.8,76.7 L288.3,77.0 L288.8,77.4 L289.3,77.8 L289.8,78.2 L290.3,78.7 L290.8,79.3 L291.3,79.8 L291.8,80.2 L292.4,80.7 L293.1,81.2 L293.6,81.7 L293.9,82.2 L293.9,83.2 L293.8,84.1 L293.7,84.7 L293.5,85.7 L293.3,86.3 L292.9,87.2 L292.7,87.7 L292.3,88.3 L291.8,89.2 L291.5,89.7 L291.3,90.2 L291.0,91.2 L290.8,92.1 L290.6,92.7 L290.3,93.2 L289.8,93.8 L289.3,94.2 L288.5,94.7 L287.8,95.1 L287.3,95.3 M286.8,92.7 L285.8,93.0 L284.8,93.0 L284.0,92.7 L283.3,92.3 L282.8,91.9 L282.3,91.5 L281.8,91.1 L280.8,90.8 L280.3,90.7 L279.3,90.4 L278.8,90.1 L278.3,89.5 L277.8,88.7 L277.6,88.2 L277.4,87.2 L277.3,86.2 L277.5,85.2 L277.8,84.3 L278.1,83.7 L278.6,83.2 L279.2,82.7 L279.8,82.3 L280.3,82.1 L281.0,81.7 L281.7,81.2 L282.1,80.7 L282.4,80.2 L282.8,79.2 L283.3,78.9 L284.3,79.0 L284.8,79.3 L285.3,79.7 L285.9,80.2 L286.8,80.7 L287.3,81.0 L287.8,81.4 L288.3,82.0 L288.8,82.6 L289.2,83.2 L289.4,83.7 L289.8,84.7 L289.9,85.2 L289.8,86.2 L289.7,86.7 L289.3,87.3 L288.8,88.0 L288.5,88.7 L288.3,89.2 L288.1,90.2 L288.0,91.2 L287.8,91.7 L287.3,92.3 L286.8,92.7" fill="none" stroke="#333" stroke-width="0.85"/>
<path d="M354.4,133.2h0.01M315.2,139.3h0.01M355.1,109.7h0.01M329.3,148.5h0.01M356.0,119.6h0.01M320.5,60.0h0.01M363.3,113.6h0.01M343.6,63.8h0.01M317.4,134.4h0.01M348.0,130.6h0.01M329.1,135.5h0.01M283.0,132.6h0.01M259.7,141.8h0.01M357.7,105.4h0.01M312.4,67.6h0.01M312.8,142.4h0.01M313.8,136.7h0.01M362.1,110.3h0.01M348.8,89.5h0.01M343.7,88.1h0.01M360.5,106.4h0.01M321.0,144.7h0.01M328.8,147.1h0.01M278.4,141.6h0.01M329.5,75.0h0.01M357.5,128.6h0.01M349.3,76.6h0.01M355.5,127.0h0.01M347.9,65.5h0.01M354.8,132.2h0.01M355.2,112.1h0.01M353.0,133.9h0.01M347.7,138.8h0.01M316.1,64.2h0.01M288.5,140.4h0.01M338.0,79.5h0.01M313.5,144.1h0.01M369.0,127.6h0.01M362.2,137.1h0.01M348.7,137.7h0.01M363.9,128.8h0.01M351.8,94.9h0.01M365.5,141.8h0.01M352.2,143.8h0.01M352.2,141.4h0.01M304.1,132.9h0.01M284.5,132.4h0.01M313.2,139.3h0.01M341.5,61.6h0.01M351.6,70.9h0.01M349.0,148.0h0.01M299.8,133.5h0.01M303.4,67.6h0.01M298.5,139.0h0.01M365.4,128.3h0.01M361.5,131.0h0.01M335.1,80.9h0.01M285.9,142.7h0.01M325.9,69.3h0.01M361.8,126.0h0.01M342.5,144.9h0.01M353.7,141.4h0.01M343.4,88.3h0.01M352.7,132.7h0.01M302.6,143.2h0.01M339.1,67.4h0.01M355.4,141.1h0.01M363.6,97.4h0.01M357.1,130.6h0.01M316.6,144.4h0.01M347.1,141.7h0.01M349.0,78.9h0.01M287.8,133.5h0.01M354.2,112.9h0.01M335.8,69.0h0.01M357.3,138.7h0.01M332.7,79.5h0.01M345.0,89.6h0.01M289.3,66.4h0.01M276.1,66.5h0.01M316.3,133.7h0.01M349.2,76.6h0.01M352.3,117.0h0.01M338.3,76.6h0.01M339.2,143.0h0.01M269.8,135.6h0.01M355.2,115.9h0.01M352.9,69.1h0.01M352.7,128.4h0.01M355.5,119.2h0.01M267.1,148.8h0.01M268.6,126.1h0.01M371.3,137.5h0.01M358.6,105.8h0.01M352.5,94.0h0.01M346.9,133.9h0.01M261.0,126.8h0.01M348.3,90.7h0.01M348.7,132.9h0.01M348.7,93.9h0.01M334.8,72.2h0.01M355.3,141.3h0.01M283.8,138.4h0.01M358.0,113.8h0.01M329.4,71.6h0.01M343.9,133.7h0.01M354.6,111.3h0.01M274.9,132.0h0.01M339.6,143.9h0.01M297.4,66.9h0.01M371.7,139.5h0.01M357.0,117.1h0.01M274.0,147.8h0.01M265.9,132.0h0.01M271.0,139.0h0.01M345.0,89.4h0.01M336.2,142.3h0.01M352.8,131.8h0.01M351.3,123.5h0.01M315.6,67.9h0.01M357.0,73.3h0.01M353.4,130.1h0.01M281.6,135.4h0.01M325.9,137.3h0.01M317.6,142.2h0.01M347.9,91.3h0.01M371.7,135.5h0.01M303.5,67.2h0.01M328.2,70.9h0.01M348.8,146.7h0.01M352.8,143.3h0.01M357.3,122.7h0.01M350.1,132.9h0.01M351.6,128.4h0.01M367.9,120.2h0.01M320.8,135.8h0.01M316.1,143.3h0.01M344.7,87.7h0.01M338.6,135.7h0.01M302.6,142.3h0.01M283.6,145.2h0.01M347.4,131.0h0.01M345.7,139.3h0.01M356.4,136.2h0.01M354.7,98.5h0.01M312.3,143.5h0.01M343.5,84.9h0.01M340.3,144.1h0.01M353.4,125.5h0.01M353.1,138.3h0.01M333.9,81.4h0.01M328.7,69.8h0.01M358.8,83.2h0.01M352.5,131.9h0.01M315.7,146.8h0.01M338.4,66.5h0.01M352.8,110.4h0.01M360.0,119.5h0.01M355.0,148.5h0.01M352.8,89.1h0.01M366.4,105.6h0.01M355.0,67.3h0.01M266.9,133.3h0.01M354.1,131.2h0.01M358.4,109.0h0.01M345.5,131.4h0.01M352.1,63.1h0.01M335.3,75.3h0.01M358.2,106.8h0.01M334.8,147.9h0.01M285.2,134.7h0.01M304.0,66.4h0.01M275.1,136.2h0.01M284.8,142.2h0.01M320.0,133.3h0.01M311.8,142.4h0.01M313.8,149.4h0.01M268.3,132.6h0.01M344.2,137.0h0.01M360.9,125.0h0.01M343.3,76.6h0.01M334.5,138.4h0.01M352.2,141.2h0.01M271.8,132.3h0.01M348.0,147.4h0.01M351.1,120.0h0.01M346.1,82.2h0.01M347.0,136.0h0.01M363.2,124.5h0.01M309.1,141.8h0.01M347.6,135.4h0.01M339.6,61.9h0.01M359.8,131.1h0.01M359.4,126.5h0.01M317.1,68.9h0.01M348.0,144.3h0.01M352.7,116.2h0.01M326.3,141.0h0.01M338.9,64.5h0.01M344.4,86.0h0.01M299.7,144.4h0.01M352.6,139.1h0.01M277.8,136.0h0.01M319.4,143.6h0.01M347.9,93.2h0.01M333.4,136.8h0.01M350.0,70.8h0.01M292.1,138.3h0.01M330.6,139.1h0.01M265.3,136.3h0.01M277.3,140.9h0.01M348.3,91.4h0.01M351.5,90.9h0.01M350.9,117.1h0.01M344.3,132.6h0.01M351.9,106.1h0.01M358.3,125.2h0.01M361.9,126.8h0.01M330.0,146.4h0.01M349.6,133.8h0.01M363.0,110.6h0.01M353.2,138.6h0.01M342.9,88.5h0.01M335.3,143.9h0.01M353.5,79.6h0.01M343.9,140.8h0.01M260.8,128.9h0.01M355.1,110.9h0.01M274.4,67.0h0.01M359.5,125.4h0.01M287.9,133.9h0.01M339.5,86.1h0.01M339.9,136.2h0.01M352.4,139.0h0.01M359.0,137.6h0.01M346.3,133.5h0.01M352.4,88.1h0.01M308.0,143.5h0.01M350.8,81.0h0.01M353.4,113.0h0.01M358.5,101.4h0.01M342.3,89.6h0.01M349.7,128.4h0.01M270.4,130.1h0.01M322.8,135.2h0.01M371.2,104.1h0.01M355.6,129.8h0.01M267.9,136.0h0.01M302.1,136.0h0.01M299.7,149.2h0.01M351.3,134.0h0.01M344.5,81.4h0.01M329.7,146.2h0.01M348.7,91.0h0.01M356.6,98.4h0.01M360.6,119.9h0.01M345.1,133.0h0.01M330.5,139.2h0.01M356.2,129.0h0.01M354.1,105.2h0.01M259.9,99.6h0.01M363.4,125.1h0.01M342.4,136.3h0.01M274.6,66.1h0.01M346.6,85.9h0.01M350.4,126.3h0.01M357.5,110.3h0.01M338.7,140.1h0.01M364.9,118.3h0.01M277.8,67.1h0.01M290.2,143.4h0.01M327.6,135.9h0.01M358.6,115.3h0.01M337.1,76.1h0.01M298.0,134.2h0.01M331.6,146.5h0.01M332.6,140.8h0.01M352.4,110.5h0.01M275.1,131.8h0.01M361.3,113.2h0.01M271.2,146.4h0.01M368.7,122.9h0.01M347.8,77.3h0.01M342.9,81.7h0.01M317.8,133.3h0.01M358.7,77.3h0.01M355.9,126.6h0.01M352.2,100.8h0.01M283.8,133.2h0.01M345.2,92.5h0.01M267.5,137.3h0.01M325.2,65.5h0.01M286.8,148.3h0.01M288.4,65.8h0.01M351.4,136.6h0.01M352.0,129.8h0.01M349.2,141.2h0.01M275.9,134.8h0.01M353.6,114.3h0.01M344.4,89.6h0.01M273.8,133.6h0.01M355.3,129.1h0.01M263.6,127.5h0.01M363.0,97.2h0.01M353.5,129.0h0.01M362.9,91.6h0.01M315.6,133.5h0.01M344.0,142.2h0.01M363.9,105.7h0.01M340.8,76.5h0.01M362.2,130.8h0.01M290.1,66.8h0.01M341.6,87.3h0.01M347.5,134.7h0.01M289.9,140.3h0.01M274.6,140.1h0.01M353.7,120.8h0.01M335.4,70.8h0.01M346.1,83.9h0.01M352.8,116.2h0.01M362.3,128.6h0.01M355.9,135.7h0.01M288.0,66.9h0.01M355.1,95.4h0.01M313.9,138.4h0.01M369.0,148.4h0.01M367.0,126.4h0.01M355.8,127.1h0.01M302.0,143.7h0.01M366.2,91.1h0.01M335.5,75.3h0.01M316.4,145.9h0.01M347.7,132.8h0.01M355.8,122.9h0.01M353.7,119.8h0.01M314.6,135.2h0.01M350.4,141.7h0.01M353.3,120.7h0.01M354.3,136.0h0.01M368.6,70.8h0.01M309.4,137.9h0.01M296.2,137.8h0.01M260.3,141.4h0.01M344.1,89.9h0.01M360.6,101.0h0.01M335.7,70.6h0.01M323.9,139.1h0.01M353.9,135.8h0.01M365.8,141.4h0.01M348.4,129.2h0.01M355.4,71.3h0.01M329.4,145.2h0.01M353.4,116.5h0.01M364.8,115.6h0.01M314.9,140.3h0.01M286.6,134.1h0.01M359.3,102.7h0.01M339.5,84.2h0.01M335.3,81.9h0.01M363.3,124.4h0.01M361.2,85.6h0.01M345.1,75.0h0.01M350.7,72.2h0.01M337.4,73.5h0.01M356.7,126.0h0.01M350.2,92.5h0.01M347.4,89.3h0.01M315.7,147.7h0.01M320.9,149.1h0.01M330.8,141.9h0.01M339.0,138.3h0.01M351.3,121.6h0.01M356.6,104.2h0.01M357.0,88.9h0.01M344.1,133.5h0.01M360.4,104.7h0.01M370.2,112.3h0.01M361.0,123.8h0.01M291.0,144.0h0.01M287.6,136.6h0.01M292.2,147.1h0.01M364.3,127.9h0.01M365.0,126.5h0.01M367.2,110.4h0.01M354.7,124.7h0.01M365.3,128.8h0.01M358.9,124.3h0.01M356.3,138.1h0.01M340.8,147.8h0.01M354.9,91.5h0.01M360.9,93.9h0.01M307.9,141.0h0.01M286.3,143.3h0.01M354.1,121.9h0.01M329.0,70.4h0.01M332.3,60.4h0.01M351.9,137.3h0.01M356.4,144.9h0.01M355.6,131.9h0.01M267.4,144.7h0.01M347.6,87.5h0.01M346.6,75.3h0.01M331.0,75.8h0.01M341.4,73.6h0.01M327.6,133.9h0.01M275.4,144.5h0.01M321.2,139.6h0.01M370.3,125.2h0.01M309.4,144.3h0.01M356.8,146.0h0.01M288.5,135.9h0.01M313.7,135.4h0.01M280.7,141.4h0.01M344.2,80.5h0.01M354.2,123.8h0.01M344.0,65.2h0.01M273.4,143.5h0.01M343.6,77.8h0.01M341.2,73.0h0.01M284.5,148.8h0.01M294.7,137.5h0.01M263.6,141.9h0.01M352.0,70.6h0.01M290.9,133.6h0.01M288.7,142.7h0.01M345.2,88.8h0.01M266.7,141.5h0.01M349.2,127.8h0.01M312.4,148.3h0.01M284.2,142.1h0.01M336.3,73.1h0.01M353.4,123.8h0.01M341.2,88.1h0.01M345.2,132.9h0.01M350.3,137.6h0.01M340.3,137.6h0.01M309.1,137.5h0.01M359.9,118.9h0.01M354.5,115.5h0.01M351.7,128.1h0.01M361.6,104.8h0.01M351.0,94.3h0.01M362.8,112.0h0.01M334.7,76.6h0.01M295.8,144.7h0.01M269.0,130.8h0.01M358.7,105.6h0.01M347.3,132.4h0.01M356.6,127.0h0.01M349.9,147.9h0.01M273.3,143.9h0.01M283.7,133.4h0.01M281.5,141.7h0.01M287.8,146.8h0.01M343.5,86.5h0.01M348.4,148.0h0.01M363.6,94.7h0.01M334.2,136.6h0.01M345.0,76.5h0.01M354.6,138.5h0.01M259.7,67.9h0.01M337.8,67.9h0.01M327.1,138.5h0.01M358.6,118.7h0.01M312.6,149.4h0.01M349.6,76.0h0.01M275.4,140.4h0.01M282.8,144.1h0.01M364.3,131.9h0.01M347.5,129.9h0.01M294.8,66.5h0.01M367.4,134.2h0.01M273.6,132.3h0.01M357.7,100.6h0.01M262.6,129.8h0.01M360.2,103.4h0.01M362.1,123.9h0.01M305.4,67.7h0.01M276.9,66.9h0.01M345.2,78.6h0.01M320.1,144.4h0.01M340.1,135.6h0.01M287.0,136.7h0.01M345.1,144.6h0.01M364.7,134.6h0.01M355.2,99.0h0.01M354.4,113.6h0.01M359.6,136.7h0.01M300.2,133.1h0.01M357.2,101.0h0.01M356.6,130.1h0.01M345.1,148.8h0.01M361.8,67.2h0.01M315.4,132.3h0.01M359.0,147.8h0.01M357.3,130.9h0.01M288.0,144.3h0.01M350.2,132.5h0.01M363.8,118.7h0.01M340.3,71.7h0.01M348.3,132.2h0.01M303.3,67.1h0.01M306.5,140.9h0.01M302.2,66.4h0.01M358.9,115.1h0.01M345.1,80.8h0.01M348.9,81.4h0.01M341.0,81.5h0.01M370.3,117.2h0.01M351.3,126.5h0.01M338.9,139.2h0.01M365.7,116.5h0.01M338.4,70.7h0.01M368.3,103.8h0.01M343.9,145.8h0.01M309.2,140.0h0.01M337.0,76.4h0.01M356.1,123.2h0.01M369.1,133.3h0.01M342.1,89.6h0.01M350.9,117.1h0.01M354.2,77.7h0.01M361.3,73.8h0.01M355.0,117.6h0.01M363.6,140.2h0.01M354.1,120.9h0.01M309.9,141.1h0.01M347.5,95.0h0.01M348.0,85.9h0.01M358.6,98.2h0.01M342.7,89.0h0.01M339.9,146.3h0.01M331.2,63.0h0.01M347.9,137.1h0.01M347.0,130.6h0.01M282.6,143.1h0.01M363.7,103.7h0.01M356.7,140.5h0.01M362.6,129.1h0.01M276.5,136.3h0.01M279.4,67.2h0.01M328.8,75.4h0.01M342.1,77.9h0.01M368.1,130.9h0.01M348.5,131.5h0.01M353.9,122.4h0.01M352.5,132.9h0.01M362.2,121.4h0.01M283.7,140.4h0.01M353.3,132.3h0.01M280.2,147.3h0.01M309.7,137.0h0.01M352.9,138.8h0.01M287.3,140.7h0.01M358.0,140.8h0.01M324.6,145.7h0.01M293.3,139.6h0.01M354.7,122.2h0.01M273.0,132.9h0.01M271.7,141.6h0.01M345.7,135.8h0.01M321.2,135.4h0.01M351.4,76.9h0.01M286.3,147.7h0.01M326.5,63.3h0.01M354.7,131.1h0.01M287.9,146.7h0.01M355.8,95.1h0.01M312.1,143.7h0.01M355.9,114.0h0.01M339.6,149.5h0.01M345.5,135.4h0.01M280.4,142.7h0.01M274.4,131.8h0.01M346.1,78.0h0.01M278.8,137.1h0.01M340.6,70.6h0.01M359.0,134.2h0.01M260.9,68.1h0.01M290.3,142.3h0.01M291.1,65.0h0.01M298.8,134.3h0.01M345.9,130.3h0.01M271.1,136.1h0.01M362.6,114.2h0.01M357.7,111.4h0.01M362.0,63.9h0.01M347.9,95.1h0.01M362.1,121.3h0.01M356.4,115.3h0.01M261.9,147.9h0.01M350.6,133.8h0.01M352.6,93.7h0.01M355.1,142.7h0.01M276.1,131.5h0.01M353.6,85.2h0.01M337.8,137.3h0.01M334.7,137.9h0.01M319.0,137.1h0.01M361.2,141.3h0.01" stroke="#444" stroke-width="0.80" stroke-linecap="square" fill="none"/>
<rect x="257.3" y="31.7" width="134.5" height="119.5" fill="none" stroke="#444" stroke-width="1"/>
<rect x="257.3" y="57.6" width="57.0" height="44.8" fill="none" stroke="#333" stroke-width="1"/>
<rect x="316.4" y="57.9" width="52.1" height="48.7" fill="none" stroke="#333" stroke-width="1"/>
<rect x="324.7" y="106.6" width="44.1" height="44.1" fill="none" stroke="#333" stroke-width="1"/>
<path d="M257.3,151.0 h-3.3 M257.3,148.0 h-3.3 M257.3,145.0 h-3.3 M257.3,142.0 h-3.3 M257.3,139.0 h-3.3 M257.3,136.0 h-3.3 M257.3,133.0 h-3.3 M257.3,130.0 h-3.3 M257.3,127.0 h-3.3 M257.3,125.0 h-6.5 M257.3,116.8 h-3.3 M257.3,111.9 h-3.3 M257.3,108.5 h-3.3 M257.3,105.8 h-3.3 M257.3,103.7 h-3.3 M257.3,101.8 h-3.3 M257.3,100.3 h-3.3 M257.3,98.9 h-3.3 M257.3,97.6 h-6.5 M257.3,89.4 h-3.3 M257.3,84.5 h-3.3 M257.3,81.1 h-3.3 M257.3,78.4 h-3.3 M257.3,76.3 h-3.3 M257.3,74.4 h-3.3 M257.3,72.9 h-3.3 M257.3,71.5 h-3.3 M257.3,70.2 h-6.5 M257.3,62.0 h-3.3 M257.3,57.1 h-3.3 M257.3,53.7 h-3.3 M257.3,51.0 h-3.3 M257.3,48.9 h-3.3 M257.3,47.0 h-3.3 M257.3,45.5 h-3.3 M257.3,44.1 h-3.3 M257.3,42.8 h-6.5 M257.3,34.6 h-3.3" fill="none" stroke="#333" stroke-width="1.05"/>
<path d="M257.7,151.2 v4.8 M262.2,151.2 v4.8 M266.7,151.2 v4.8 M271.2,151.2 v4.8 M275.7,151.2 v4.8 M280.2,151.2 v4.8 M284.7,151.2 v4.8 M289.2,151.2 v4.8 M293.7,151.2 v4.8 M298.2,151.2 v4.8 M302.7,151.2 v4.8 M307.2,151.2 v4.8 M311.7,151.2 v4.8 M317.0,151.2 v6.2 M326.5,151.2 v4.8 M332.0,151.2 v4.8 M336.0,151.2 v4.8 M339.0,151.2 v4.8 M341.5,151.2 v4.8 M343.6,151.2 v4.8 M345.4,151.2 v4.8 M347.1,151.2 v4.8 M348.5,151.2 v6.2 M358.0,151.2 v4.8 M363.5,151.2 v4.8 M367.5,151.2 v4.8 M370.5,151.2 v4.8 M373.0,151.2 v4.8 M375.1,151.2 v4.8 M376.9,151.2 v4.8 M378.6,151.2 v4.8 M380.0,151.2 v6.2 M389.5,151.2 v4.8" fill="none" stroke="#333" stroke-width="1.1"/>
<text x="261.6" y="52.0" font-size="13.2" text-anchor="start" font-weight="normal" fill="#111" stroke="#111">MPP3/4</text>
<text x="323.4" y="52.2" font-size="13.5" text-anchor="start" font-weight="normal" fill="#111" stroke="#111">MPP2</text>
<text x="267.3" y="67.3" font-size="9.5" text-anchor="start" font-weight="normal" fill="#555" stroke="#555">P6</text>
<path d="M268,70.2 L276,69.6 L284,70.6 L292,69.8 L300,70.4 L306,70.0" fill="none" stroke="#444" stroke-width="1.6"/>
<text x="358.6" y="69.1" font-size="10" text-anchor="start" font-weight="normal" fill="#666" stroke="#666">P7</text>
<text x="369.9" y="115.9" font-size="12.7" text-anchor="start" font-weight="normal" fill="#111" stroke="#111">HSC</text>
<text x="369.6" y="131.5" font-size="12.7" text-anchor="start" font-weight="normal" fill="#111" stroke="#111">MPP1</text>
<text x="374.2" y="144.7" font-size="10" text-anchor="start" font-weight="normal" fill="#555" stroke="#555">P8</text>
<text x="245.0" y="89.8" font-size="16" text-anchor="middle" font-weight="normal" fill="#111" stroke="#111" transform="rotate(-90 245 89.8)">CD48</text>
<text x="303.5" y="171.8" font-size="16" text-anchor="start" font-weight="normal" fill="#111" stroke="#111">CD150</text>
<text x="248.2" y="158.6" font-size="8" text-anchor="start" font-weight="bold" fill="#222" stroke="#222">w</text>
<text x="1.2" y="191.6" font-size="17.5" text-anchor="start" font-weight="bold" fill="#000" stroke="#000">B</text>
<rect x="70.1" y="209.0" width="83.1" height="82.5" fill="none" stroke="#8a8a8a" stroke-width="1.0"/>
<line x1="70.1" y1="291.5" x2="153.2" y2="291.5" stroke="#111" stroke-width="1.6"/>
<path d="M72.1,292.3 v2.5 M77.9,292.3 v1.5 M81.3,292.3 v1.5 M83.7,292.3 v1.5 M85.6,292.3 v1.5 M87.1,292.3 v1.5 M88.4,292.3 v1.5 M89.6,292.3 v1.5 M90.5,292.3 v1.5 M91.4,292.3 v2.5 M97.2,292.3 v1.5 M100.6,292.3 v1.5 M103.1,292.3 v1.5 M104.9,292.3 v1.5 M106.5,292.3 v1.5 M107.8,292.3 v1.5 M108.9,292.3 v1.5 M109.9,292.3 v1.5 M110.8,292.3 v2.5 M116.6,292.3 v1.5 M120.0,292.3 v1.5 M122.4,292.3 v1.5 M124.3,292.3 v1.5 M125.8,292.3 v1.5 M127.1,292.3 v1.5 M128.2,292.3 v1.5 M129.2,292.3 v1.5 M130.1,292.3 v2.5 M135.9,292.3 v1.5 M139.3,292.3 v1.5 M141.7,292.3 v1.5 M143.6,292.3 v1.5 M145.1,292.3 v1.5 M146.4,292.3 v1.5 M147.5,292.3 v1.5 M148.5,292.3 v1.5 M149.4,292.3 v2.5" fill="none" stroke="#666" stroke-width="0.6"/>
<rect x="211.8" y="209.3" width="82.2" height="81.5" fill="none" stroke="#8a8a8a" stroke-width="1.0"/>
<line x1="211.8" y1="290.8" x2="294.0" y2="290.8" stroke="#111" stroke-width="1.6"/>
<path d="M213.8,291.6 v2.5 M219.6,291.6 v1.5 M222.9,291.6 v1.5 M225.3,291.6 v1.5 M227.2,291.6 v1.5 M228.7,291.6 v1.5 M230.0,291.6 v1.5 M231.1,291.6 v1.5 M232.0,291.6 v1.5 M232.9,291.6 v2.5 M238.7,291.6 v1.5 M242.0,291.6 v1.5 M244.4,291.6 v1.5 M246.3,291.6 v1.5 M247.8,291.6 v1.5 M249.1,291.6 v1.5 M250.2,291.6 v1.5 M251.2,291.6 v1.5 M252.0,291.6 v2.5 M257.8,291.6 v1.5 M261.2,291.6 v1.5 M263.5,291.6 v1.5 M265.4,291.6 v1.5 M266.9,291.6 v1.5 M268.2,291.6 v1.5 M269.3,291.6 v1.5 M270.3,291.6 v1.5 M271.1,291.6 v2.5 M276.9,291.6 v1.5 M280.3,291.6 v1.5 M282.7,291.6 v1.5 M284.5,291.6 v1.5 M286.0,291.6 v1.5 M287.3,291.6 v1.5 M288.4,291.6 v1.5 M289.4,291.6 v1.5 M290.3,291.6 v2.5" fill="none" stroke="#666" stroke-width="0.6"/>
<rect x="306.9" y="209.8" width="82.7" height="81.4" fill="none" stroke="#8a8a8a" stroke-width="1.0"/>
<line x1="306.9" y1="291.2" x2="389.6" y2="291.2" stroke="#111" stroke-width="1.6"/>
<path d="M308.9,292.0 v2.5 M314.7,292.0 v1.5 M318.1,292.0 v1.5 M320.5,292.0 v1.5 M322.3,292.0 v1.5 M323.9,292.0 v1.5 M325.2,292.0 v1.5 M326.3,292.0 v1.5 M327.3,292.0 v1.5 M328.1,292.0 v2.5 M333.9,292.0 v1.5 M337.3,292.0 v1.5 M339.7,292.0 v1.5 M341.6,292.0 v1.5 M343.1,292.0 v1.5 M344.4,292.0 v1.5 M345.5,292.0 v1.5 M346.5,292.0 v1.5 M347.4,292.0 v2.5 M353.2,292.0 v1.5 M356.5,292.0 v1.5 M358.9,292.0 v1.5 M360.8,292.0 v1.5 M362.3,292.0 v1.5 M363.6,292.0 v1.5 M364.7,292.0 v1.5 M365.7,292.0 v1.5 M366.6,292.0 v2.5 M372.4,292.0 v1.5 M375.8,292.0 v1.5 M378.2,292.0 v1.5 M380.0,292.0 v1.5 M381.6,292.0 v1.5 M382.9,292.0 v1.5 M384.0,292.0 v1.5 M385.0,292.0 v1.5 M385.8,292.0 v2.5" fill="none" stroke="#666" stroke-width="0.6"/>
<rect x="405.5" y="210.0" width="83.8" height="80.8" fill="none" stroke="#8a8a8a" stroke-width="1.0"/>
<line x1="405.5" y1="290.8" x2="489.3" y2="290.8" stroke="#111" stroke-width="1.6"/>
<path d="M407.5,291.6 v2.5 M413.4,291.6 v1.5 M416.8,291.6 v1.5 M419.2,291.6 v1.5 M421.1,291.6 v1.5 M422.7,291.6 v1.5 M424.0,291.6 v1.5 M425.1,291.6 v1.5 M426.1,291.6 v1.5 M427.0,291.6 v2.5 M432.9,291.6 v1.5 M436.3,291.6 v1.5 M438.7,291.6 v1.5 M440.6,291.6 v1.5 M442.2,291.6 v1.5 M443.5,291.6 v1.5 M444.6,291.6 v1.5 M445.6,291.6 v1.5 M446.5,291.6 v2.5 M452.3,291.6 v1.5 M455.8,291.6 v1.5 M458.2,291.6 v1.5 M460.1,291.6 v1.5 M461.6,291.6 v1.5 M462.9,291.6 v1.5 M464.1,291.6 v1.5 M465.1,291.6 v1.5 M466.0,291.6 v2.5 M471.8,291.6 v1.5 M475.3,291.6 v1.5 M477.7,291.6 v1.5 M479.6,291.6 v1.5 M481.1,291.6 v1.5 M482.4,291.6 v1.5 M483.6,291.6 v1.5 M484.6,291.6 v1.5 M485.5,291.6 v2.5" fill="none" stroke="#666" stroke-width="0.6"/>
<path d="M86.2,291.0 L86.4,289.9 L86.7,288.3 L86.9,286.9 L87.1,286.4 L87.3,285.6 L87.6,284.9 L87.8,283.2 L88.0,281.7 L88.2,280.5 L88.5,280.2 L88.7,279.6 L88.9,277.7 L89.1,275.8 L89.4,274.8 L89.6,274.2 L89.7,273.9 L89.8,272.0 L90.0,269.8 L90.1,269.5 L90.2,267.8 L90.3,266.9 L90.5,265.9 L90.6,264.6 L90.7,264.1 L90.8,262.6 L91.0,261.2 L91.1,260.6 L91.2,259.7 L91.3,257.2 L91.5,256.8 L91.6,255.2 L91.7,254.5 L91.8,252.7 L92.0,252.3 L92.1,251.1 L92.2,250.0 L92.5,248.6 L92.7,247.0 L93.0,246.2 L93.2,244.6 L93.5,243.2 L93.8,242.9 L94.0,240.9 L94.3,241.0 L94.5,239.5 L94.8,237.9 L95.0,235.6 L95.2,235.7 L95.5,233.8 L95.7,233.3 L95.9,232.1 L96.1,229.9 L96.3,229.7 L96.5,228.5 L96.8,228.0 L97.0,225.7 L97.2,225.6 L97.4,224.0 L97.7,222.2 L98.1,221.4 L98.4,219.9 L98.8,220.0 L99.1,218.0 L99.3,219.5 L99.5,221.7 L99.6,222.0 L99.8,223.3 L100.0,224.0 L100.2,225.6 L100.3,225.9 L100.5,227.4 L100.7,229.3 L100.8,229.4 L101.0,230.9 L101.2,231.9 L101.4,233.4 L101.5,234.0 L101.7,235.3 L102.1,236.4 L102.4,237.8 L102.8,239.0 L103.1,239.6 L103.5,241.3 L103.6,243.0 L103.8,242.9 L103.9,244.1 L104.1,245.2 L104.2,247.6 L104.3,248.1 L104.5,248.9 L104.6,249.9 L104.8,252.0 L104.9,252.3 L105.1,253.3 L105.2,255.2 L105.4,256.6 L105.6,256.8 L105.8,258.3 L105.9,259.6 L106.1,260.5 L106.3,261.8 L106.5,263.7 L106.7,263.8 L106.9,264.5 L107.1,265.3 L107.2,267.3 L107.4,268.3 L107.6,269.7 L107.8,270.7 L108.5,271.8 L109.1,273.1 L109.8,274.3 L110.4,276.0 L111.3,276.8 L112.1,278.4 L113.0,279.4 L113.9,280.6 L114.7,282.3 L115.6,283.7 L116.3,286.0 L117.0,286.4 L117.6,286.5 L118.3,289.5 L119.0,289.8 L120.3,290.4 L121.6,291.0" fill="none" stroke="#aaa" stroke-width="1.0" stroke-linejoin="round"/>
<path d="M70.6,291.2 L71.8,291.1 L72.9,291.1 L74.0,291.1 L75.2,291.0 L76.3,290.9 L77.5,290.9 L78.7,290.9 L79.8,290.8 L81.0,290.8 L82.1,290.7 L83.2,290.7 L84.4,290.6 L84.7,289.6 L85.0,287.7 L85.4,287.6 L85.7,285.9 L86.0,284.4 L86.3,283.2 L86.6,281.8 L86.9,281.2 L87.3,280.6 L87.6,278.7 L87.9,277.7 L88.1,276.8 L88.2,276.4 L88.4,273.6 L88.6,273.2 L88.8,271.8 L88.9,270.2 L89.1,269.1 L89.3,268.5 L89.5,267.6 L89.6,265.9 L89.8,265.0 L90.0,264.3 L90.2,262.9 L90.3,262.0 L90.5,260.4 L90.6,259.5 L90.7,258.4 L90.8,257.9 L90.9,256.1 L91.0,254.7 L91.1,253.9 L91.2,251.8 L91.3,251.0 L91.3,250.4 L91.4,249.2 L91.5,248.5 L91.6,246.5 L91.7,244.6 L91.8,245.3 L91.9,243.7 L92.0,241.3 L92.1,241.5 L92.2,239.6 L92.6,238.5 L93.1,236.3 L93.5,235.9 L93.9,234.7 L94.4,234.7 L94.8,232.7 L96.5,234.4 L97.4,235.3 L98.3,237.0 L98.8,238.1 L99.4,239.3 L100.0,240.5 L100.5,242.0 L101.0,242.8 L101.5,244.8 L102.1,246.6 L102.6,247.4 L103.0,248.9 L103.3,249.1 L103.7,250.1 L104.1,251.9 L104.5,252.6 L104.8,253.7 L105.2,255.2 L105.6,255.4 L106.1,258.6 L106.5,259.2 L106.9,259.3 L107.4,261.4 L107.8,262.1 L109.1,263.3 L110.4,263.0 L110.7,262.9 L111.1,265.1 L111.4,266.4 L111.8,268.2 L112.1,269.0 L112.5,267.6 L112.9,266.3 L113.4,265.1 L113.8,263.8 L114.1,263.7 L114.4,262.7 L114.7,260.1 L115.0,258.7 L115.3,259.5 L115.6,256.9 L117.3,256.0 L119.0,257.8 L119.6,258.7 L120.2,260.4 L120.8,262.1 L121.7,263.4 L122.5,264.7 L123.3,263.7 L124.2,262.1 L124.7,264.0 L125.1,264.9 L125.5,265.5 L126.0,267.3 L126.2,268.8 L126.5,269.9 L126.7,272.0 L127.0,272.2 L127.2,272.7 L127.5,274.1 L127.7,275.9 L127.9,277.8 L128.2,277.8 L128.4,278.0 L128.6,280.0 L128.9,281.4 L129.1,283.2 L129.4,283.0 L129.6,285.1 L129.8,286.2 L130.1,286.5 L130.3,288.0 L131.6,289.4 L132.9,291.0 L134.0,291.0 L135.1,291.0 L136.2,291.0 L137.3,291.0 L138.4,291.1 L139.5,291.1 L140.6,291.1 L141.7,291.1 L142.9,291.1 L144.0,291.1 L145.1,291.1 L146.2,291.1 L147.3,291.1 L148.4,291.2 L149.5,291.2 L150.6,291.2 L151.7,291.2 L152.8,291.2" fill="none" stroke="#111" stroke-width="2.0" stroke-linejoin="round"/>
<path d="M227.9,290.6 L228.2,289.4 L228.5,289.2 L228.9,288.0 L229.2,286.4 L229.5,284.9 L229.8,284.2 L230.1,282.3 L230.4,281.2 L230.8,279.6 L231.1,278.9 L231.4,277.7 L231.5,276.5 L231.7,276.9 L231.8,274.1 L232.0,273.8 L232.1,272.6 L232.3,270.7 L232.4,270.3 L232.6,267.3 L232.7,267.4 L232.8,266.6 L233.0,263.7 L233.1,263.2 L233.3,263.3 L233.4,261.4 L233.6,259.8 L233.7,259.0 L233.9,257.8 L234.0,256.9 L234.1,256.1 L234.2,254.8 L234.3,253.3 L234.5,251.9 L234.6,251.1 L234.7,250.7 L234.8,249.0 L234.9,248.0 L235.0,246.4 L235.1,244.7 L235.2,243.8 L235.4,243.4 L235.5,242.0 L235.6,240.3 L235.7,239.6 L235.9,237.6 L236.0,237.4 L236.2,236.1 L236.4,235.0 L236.6,233.8 L236.7,233.1 L236.9,231.8 L237.0,233.1 L237.2,234.6 L237.3,235.7 L237.5,237.0 L237.6,237.8 L237.7,238.3 L237.9,239.6 L238.0,241.0 L238.2,241.7 L238.3,243.0 L238.4,244.4 L238.5,245.9 L238.6,245.9 L238.7,246.5 L238.8,249.3 L238.9,249.8 L239.0,251.3 L239.1,251.3 L239.2,254.1 L239.3,254.6 L239.4,255.3 L239.5,256.3 L239.6,257.7 L239.7,258.6 L239.8,259.7 L239.9,260.4 L240.0,262.1 L240.1,263.9 L240.2,264.3 L240.4,265.5 L240.5,266.6 L240.6,266.4 L240.7,269.1 L240.8,269.7 L241.0,270.9 L241.1,272.2 L241.2,272.7 L241.3,274.8 L241.5,275.1 L241.6,276.1 L241.7,277.7 L242.0,278.4 L242.3,280.1 L242.6,281.5 L242.9,282.0 L243.1,282.6 L243.4,285.2 L243.7,285.1 L244.0,287.5 L244.3,288.0 L245.6,289.3 L246.9,290.6 L246.9,290.6 L227.9,290.6 Z" fill="#c4c4c4" stroke="#bbb" stroke-width="0.8" stroke-linejoin="round"/>
<path d="M228.8,290.6 L229.1,289.5 L229.5,288.3 L229.8,286.9 L230.2,285.8 L230.5,285.3 L230.8,284.4 L231.2,282.7 L231.5,282.2 L231.9,281.7 L232.2,279.4 L232.4,278.1 L232.5,276.5 L232.7,275.4 L232.9,274.0 L233.1,273.3 L233.2,272.1 L233.4,270.6 L233.6,270.5 L233.8,267.6 L233.9,267.1 L234.1,267.8 L234.3,266.1 L234.5,264.7 L234.6,263.5 L234.8,262.1 L235.0,262.0 L235.2,260.2 L235.4,258.8 L235.5,257.0 L235.7,256.5 L235.9,255.0 L236.1,253.9 L236.3,252.8 L236.5,252.0 L236.7,250.8 L236.8,250.3 L237.0,248.0 L237.2,247.5 L237.4,246.5 L239.1,244.4 L239.4,246.7 L239.7,247.0 L239.9,248.9 L240.2,250.1 L240.5,250.8 L241.7,252.6 L243.5,253.4 L243.7,255.2 L243.8,256.0 L244.0,256.0 L244.1,257.7 L244.3,258.7 L244.4,259.2 L244.6,260.9 L244.7,261.6 L244.9,262.5 L245.0,264.6 L245.2,265.6 L245.5,266.8 L245.7,267.6 L246.0,268.7 L246.2,270.1 L246.5,271.4 L246.8,272.6 L247.0,274.0 L247.3,275.0 L247.5,276.7 L247.8,277.7 L248.7,279.1 L249.5,280.2 L250.4,281.1 L251.7,281.6 L253.0,282.9 L254.1,283.7 L255.3,285.4 L256.4,286.3 L257.6,287.6 L258.7,289.2 L259.9,290.6" fill="none" stroke="#444" stroke-width="0.9" stroke-linejoin="round"/>
<path d="M212.0,290.6 L213.1,290.6 L214.3,290.6 L215.4,290.6 L216.5,290.6 L217.7,290.6 L218.8,290.6 L219.9,290.6 L221.1,290.6 L222.2,290.6 L223.4,290.6 L224.5,290.6 L225.6,290.6 L226.8,290.6 L227.9,290.6 L229.1,290.5 L230.3,290.4 L231.5,290.3 L232.7,290.2 L233.8,290.1 L235.0,290.0 L236.2,289.9 L237.4,289.8 L238.6,289.2 L239.7,288.6 L240.9,288.0 L242.3,286.1 L243.8,285.4 L245.2,286.3 L246.4,285.6 L247.5,284.7 L248.7,283.7 L250.0,283.2 L251.3,281.1 L252.6,281.9 L253.8,282.0 L254.2,281.0 L254.5,279.8 L254.9,277.9 L255.3,278.0 L255.7,276.1 L256.0,275.6 L256.4,274.2 L256.8,273.0 L257.3,271.7 L257.8,270.8 L258.2,269.0 L258.4,267.5 L258.7,266.3 L258.9,264.8 L259.2,263.9 L259.4,263.8 L259.7,261.4 L259.9,260.4 L260.5,259.6 L261.0,257.9 L261.6,256.0 L263.0,255.2 L263.2,254.4 L263.3,253.2 L263.5,250.9 L263.7,250.4 L263.9,249.9 L264.0,247.4 L264.2,246.5 L264.4,245.3 L264.5,243.8 L264.7,243.2 L264.8,241.3 L265.0,241.6 L265.1,239.4 L265.3,237.6 L265.4,238.2 L265.6,236.1 L266.0,237.8 L266.4,238.7 L266.8,239.6 L266.9,241.0 L267.1,241.6 L267.2,242.8 L267.3,244.5 L267.4,245.7 L267.6,246.8 L267.7,247.5 L267.8,248.3 L268.0,249.5 L268.1,251.4 L268.2,252.6 L268.3,252.8 L268.5,253.8 L268.6,255.2 L268.7,257.0 L268.9,257.9 L269.0,259.0 L269.2,259.1 L269.3,260.7 L269.5,261.8 L269.6,263.4 L269.7,263.5 L269.9,266.2 L270.0,266.9 L270.2,268.1 L270.3,269.0 L270.5,269.5 L270.7,271.3 L270.9,273.2 L271.1,272.8 L271.2,274.9 L271.4,276.3 L271.6,276.7 L271.8,278.7 L272.0,279.4 L272.2,280.4 L272.5,282.5 L272.7,283.4 L273.0,284.4 L273.2,286.6 L273.5,287.2 L273.7,288.0 L275.0,289.3 L276.3,290.6 L277.4,290.6 L278.5,290.6 L279.6,290.6 L280.7,290.6 L281.8,290.6 L282.9,290.6 L284.0,290.6 L285.1,290.6 L286.3,290.6 L287.4,290.6 L288.5,290.6 L289.6,290.6 L290.7,290.6 L291.8,290.6 L292.9,290.6 L294.0,290.6" fill="none" stroke="#111" stroke-width="2.0" stroke-linejoin="round"/>
<path d="M324.8,290.6 L325.0,289.4 L325.2,289.0 L325.4,286.4 L325.5,285.6 L325.7,285.2 L325.9,284.1 L326.1,282.4 L326.3,281.7 L326.5,279.5 L326.7,279.0 L326.8,277.1 L327.0,276.7 L327.2,275.1 L327.4,274.2 L327.5,272.7 L327.6,271.9 L327.8,271.7 L327.9,269.0 L328.0,268.1 L328.1,267.9 L328.3,265.9 L328.4,265.9 L328.5,263.9 L328.6,262.7 L328.7,261.7 L328.9,261.3 L329.0,259.5 L329.1,258.3 L329.2,257.0 L329.4,254.9 L329.5,254.1 L329.6,253.4 L329.8,253.0 L329.9,251.4 L330.1,250.0 L330.3,248.9 L330.5,247.1 L330.6,246.3 L330.8,244.4 L331.0,243.9 L331.1,242.1 L331.3,241.3 L331.4,242.3 L331.6,243.9 L331.8,244.6 L331.9,246.3 L332.1,247.3 L332.2,248.4 L332.4,250.1 L332.5,249.8 L332.7,250.8 L332.8,253.2 L333.0,254.6 L333.1,255.2 L333.4,257.5 L333.8,257.9 L334.1,259.1 L334.4,259.3 L334.8,261.4 L335.1,262.1 L335.4,263.7 L335.6,263.9 L335.9,265.2 L336.1,266.9 L336.4,268.3 L336.7,267.7 L336.9,270.6 L337.2,271.9 L337.4,272.9 L337.7,274.2 L337.9,275.4 L338.2,276.7 L338.4,276.9 L338.6,278.8 L338.9,279.6 L339.1,280.3 L339.4,282.0 L339.6,283.8 L339.8,283.3 L340.1,284.3 L340.3,286.3 L341.2,286.8 L342.0,289.2 L342.9,290.6 L342.9,290.8 L324.8,290.8 Z" fill="#c4c4c4" stroke="#bbb" stroke-width="0.8" stroke-linejoin="round"/>
<path d="M325.6,290.6 L325.9,289.4 L326.2,289.3 L326.6,286.9 L326.9,285.9 L327.2,284.3 L327.5,283.0 L327.8,281.3 L328.1,281.3 L328.5,280.2 L328.8,277.8 L329.1,277.7 L329.3,276.0 L329.4,275.0 L329.6,274.2 L329.8,273.2 L330.0,272.6 L330.1,271.5 L330.3,270.2 L330.5,269.2 L330.7,266.7 L330.8,265.9 L331.0,265.6 L331.2,264.0 L331.4,262.7 L331.5,260.5 L331.7,260.4 L331.9,258.2 L332.0,258.4 L332.2,257.0 L332.4,255.4 L332.5,254.1 L332.7,252.2 L332.9,252.1 L333.1,251.3 L333.2,250.4 L333.4,248.3 L333.8,247.2 L334.1,245.9 L334.4,244.2 L334.8,244.3 L335.1,243.4 L335.5,241.3 L335.9,242.3 L336.2,244.1 L336.5,245.2 L336.9,246.5 L337.3,247.5 L337.8,247.7 L338.2,250.2 L338.6,251.7 L339.1,253.3 L339.6,253.5 L340.2,255.1 L340.7,256.9 L340.9,256.2 L341.1,259.8 L341.3,260.5 L341.5,261.3 L341.7,262.3 L342.0,263.1 L342.2,264.6 L342.4,265.5 L342.6,266.7 L342.8,267.9 L343.0,269.0 L343.4,270.3 L343.7,272.3 L344.1,271.9 L344.4,274.1 L344.8,274.9 L345.1,275.8 L345.5,277.7 L346.7,277.5 L347.8,280.3 L349.0,281.1 L350.1,281.7 L351.3,283.0 L352.4,284.6 L353.6,286.0 L354.7,286.3 L355.9,288.0 L357.1,288.9 L358.2,289.7 L359.4,290.6" fill="none" stroke="#444" stroke-width="0.9" stroke-linejoin="round"/>
<path d="M307.0,290.8 L308.1,290.8 L309.2,290.8 L310.4,290.8 L311.5,290.7 L312.6,290.7 L313.7,290.7 L314.8,290.7 L315.9,290.7 L317.0,290.7 L318.2,290.6 L319.3,290.6 L320.4,290.6 L321.5,289.5 L322.6,288.4 L323.7,287.8 L324.8,286.3 L325.7,285.7 L326.5,283.4 L327.4,283.2 L328.2,281.4 L329.1,280.3 L329.5,279.2 L330.0,277.8 L330.4,277.1 L330.8,274.8 L331.2,274.4 L331.6,273.7 L332.1,271.7 L332.5,270.7 L332.8,270.7 L333.1,268.0 L333.4,267.4 L333.7,265.8 L334.0,264.6 L334.3,263.8 L336.0,262.1 L336.9,262.8 L337.7,264.7 L338.3,263.0 L338.9,261.8 L339.5,260.4 L339.9,261.3 L340.4,263.5 L340.8,265.1 L341.2,265.6 L341.7,266.0 L342.2,268.5 L342.8,269.3 L343.3,270.5 L343.8,271.6 L345.1,272.5 L346.4,270.7 L347.0,270.1 L347.7,268.3 L348.4,267.0 L349.0,265.6 L351.1,264.7 L351.2,262.4 L351.4,262.9 L351.5,260.9 L351.6,260.3 L351.8,259.1 L351.9,258.4 L352.0,257.9 L352.1,256.2 L352.3,255.2 L352.4,253.3 L352.5,252.5 L352.7,251.6 L352.8,250.0 L353.0,248.0 L353.2,248.6 L353.4,245.9 L353.6,244.3 L353.8,244.7 L354.0,243.7 L354.2,241.3 L355.6,239.6 L356.2,240.5 L356.8,242.2 L357.1,240.7 L357.3,241.6 L357.6,238.7 L357.9,240.0 L358.2,240.0 L358.4,242.0 L358.7,244.7 L359.0,244.8 L359.1,246.4 L359.1,247.6 L359.2,249.1 L359.3,250.0 L359.4,250.7 L359.4,251.2 L359.5,253.5 L359.6,253.9 L359.6,255.7 L359.7,256.9 L359.9,256.7 L360.0,254.9 L360.2,253.5 L360.3,252.3 L360.5,251.5 L360.6,250.5 L360.8,248.1 L360.9,247.8 L361.1,246.5 L362.5,248.3 L362.6,250.4 L362.7,251.0 L362.8,251.3 L362.9,252.5 L363.0,252.9 L363.1,254.8 L363.2,257.2 L363.3,257.5 L363.4,258.2 L363.5,259.5 L363.6,260.9 L363.7,262.1 L363.8,263.2 L363.9,264.1 L364.1,265.0 L364.2,266.9 L364.3,268.5 L364.4,268.5 L364.5,269.6 L364.7,271.7 L364.8,271.3 L364.9,272.9 L365.0,274.1 L365.2,275.6 L365.3,276.4 L365.4,277.7 L365.6,278.4 L365.9,280.3 L366.1,280.7 L366.4,281.7 L366.6,282.7 L366.9,285.5 L367.1,286.3 L368.0,286.8 L368.8,289.4 L369.7,290.6 L370.8,290.6 L371.9,290.6 L373.0,290.6 L374.1,290.6 L375.2,290.7 L376.3,290.7 L377.4,290.7 L378.5,290.7 L379.6,290.7 L380.7,290.7 L381.8,290.7 L382.9,290.7 L384.0,290.7 L385.1,290.8 L386.2,290.8 L387.3,290.8 L388.4,290.8 L389.5,290.8" fill="none" stroke="#111" stroke-width="2.0" stroke-linejoin="round"/>
<path d="M421.0,290.6 L421.2,289.5 L421.4,288.8 L421.6,287.7 L421.8,286.1 L422.0,284.8 L422.2,284.0 L422.4,282.5 L422.6,281.0 L422.8,281.3 L422.9,279.1 L423.1,279.4 L423.3,277.6 L423.5,276.0 L423.7,275.4 L423.9,274.7 L424.1,272.2 L424.3,271.3 L424.5,270.7 L424.6,269.0 L424.7,268.6 L424.8,267.6 L424.9,266.3 L425.0,264.8 L425.1,263.8 L425.2,263.6 L425.3,262.5 L425.4,260.8 L425.5,258.9 L425.6,258.9 L425.7,257.6 L425.9,256.4 L426.0,256.1 L426.1,254.5 L426.2,252.4 L426.3,251.3 L426.4,251.5 L426.5,249.8 L426.6,249.0 L426.7,247.4 L426.8,245.8 L426.9,245.4 L427.0,245.0 L427.1,243.0 L427.2,242.1 L427.3,240.2 L427.4,239.5 L427.5,238.3 L427.6,237.5 L427.7,236.9 L427.8,236.3 L427.9,234.2 L428.0,232.8 L428.1,231.9 L428.2,230.8 L428.3,229.4 L428.4,228.5 L428.5,227.4 L428.6,225.6 L428.7,225.5 L428.8,224.0 L429.0,222.7 L429.2,221.1 L429.3,220.7 L429.5,219.0 L429.7,218.0 L430.0,220.2 L430.3,220.7 L430.5,221.7 L430.8,222.4 L431.1,224.0 L431.2,225.0 L431.3,226.8 L431.4,227.1 L431.5,229.1 L431.6,228.7 L431.7,231.1 L431.8,232.6 L431.9,233.5 L432.0,234.4 L432.0,236.2 L432.1,236.3 L432.2,237.4 L432.3,239.1 L432.4,240.9 L432.5,241.6 L432.6,242.4 L432.7,243.9 L432.8,244.8 L432.9,246.2 L433.1,246.5 L433.2,246.8 L433.4,248.9 L433.5,249.8 L433.6,251.4 L433.8,252.3 L433.9,253.6 L434.1,255.5 L434.2,256.4 L434.3,257.5 L434.5,259.6 L434.6,259.6 L434.8,260.8 L434.9,262.1 L435.1,264.0 L435.3,263.8 L435.5,264.6 L435.6,267.3 L435.8,267.9 L436.0,269.2 L436.2,270.3 L436.4,271.6 L436.6,271.9 L436.8,273.3 L436.9,273.8 L437.1,275.6 L437.3,276.8 L437.5,277.7 L437.8,278.7 L438.1,280.4 L438.4,282.8 L438.7,281.7 L438.9,283.9 L439.2,285.2 L439.5,286.4 L439.8,286.5 L440.1,288.0 L441.4,289.3 L442.7,290.6 L442.7,290.6 L421.0,290.6 Z" fill="#c4c4c4" stroke="#bbb" stroke-width="0.8" stroke-linejoin="round"/>
<path d="M421.0,290.6 L421.2,289.5 L421.4,289.1 L421.6,287.7 L421.8,286.2 L422.0,284.9 L422.3,284.2 L422.5,283.4 L422.7,282.3 L422.9,282.0 L423.1,279.4 L423.3,278.8 L423.5,277.1 L423.7,276.7 L423.9,275.2 L424.1,273.7 L424.4,272.2 L424.6,271.4 L424.8,270.8 L425.0,270.4 L425.2,268.9 L425.4,267.3 L425.5,265.6 L425.6,264.9 L425.8,264.1 L425.9,262.9 L426.0,261.9 L426.1,261.2 L426.2,259.7 L426.3,258.1 L426.5,256.3 L426.6,256.1 L426.7,254.3 L426.8,254.0 L426.9,253.1 L427.1,251.1 L427.2,250.7 L427.3,249.4 L427.4,249.6 L427.5,247.7 L427.6,245.3 L427.8,245.4 L427.9,244.3 L428.0,243.0 L428.2,241.7 L428.5,240.4 L428.8,239.7 L429.0,238.5 L429.2,237.2 L429.5,235.2 L429.8,234.4 L430.0,232.5 L430.2,231.3 L430.5,231.0 L430.9,229.4 L431.4,227.8 L431.9,226.8 L432.3,225.8 L432.9,228.4 L433.5,228.4 L433.7,227.4 L433.9,225.4 L434.1,223.5 L434.3,223.0 L434.5,222.3 L434.6,222.6 L434.8,223.3 L434.9,226.1 L435.0,226.6 L435.2,228.3 L435.3,230.9 L435.4,230.5 L435.6,231.5 L435.7,232.7 L436.0,234.0 L436.3,234.8 L436.6,235.6 L436.9,237.1 L437.2,239.0 L437.5,239.6 L437.7,240.5 L437.9,241.1 L438.1,242.3 L438.3,243.6 L438.4,245.3 L438.6,246.7 L438.8,247.9 L439.0,249.4 L439.2,250.0 L439.5,251.0 L439.8,252.7 L440.1,253.6 L440.4,255.0 L440.6,254.7 L440.9,257.6 L441.2,257.2 L441.5,258.6 L441.8,260.4 L442.2,262.0 L442.7,262.5 L443.1,264.8 L443.5,265.1 L444.0,265.6 L444.4,267.3 L444.8,268.5 L445.3,269.4 L445.7,271.6 L446.1,272.8 L446.6,273.4 L447.0,274.2 L447.9,275.1 L448.7,276.6 L449.6,277.7 L450.0,279.4 L450.5,279.6 L450.9,280.7 L451.3,282.8 L451.8,283.8 L452.2,284.6 L452.9,285.8 L453.5,287.0 L454.1,287.4 L454.8,289.8 L456.0,290.6" fill="none" stroke="#444" stroke-width="0.9" stroke-linejoin="round"/>
<path d="M405.6,290.6 L406.8,290.6 L407.9,290.6 L409.1,290.6 L410.3,290.6 L411.4,290.6 L412.6,290.6 L413.7,290.6 L414.9,290.6 L416.1,290.6 L417.2,290.6 L418.4,290.6 L418.9,289.5 L419.4,289.0 L419.9,287.2 L420.4,285.4 L420.9,284.5 L421.4,283.5 L421.9,282.9 L422.1,282.7 L422.2,281.0 L422.4,278.7 L422.6,279.3 L422.8,277.9 L422.9,275.4 L423.1,273.4 L423.3,274.2 L423.5,272.2 L423.6,271.3 L423.8,269.9 L424.0,269.8 L424.2,268.7 L424.3,267.2 L424.5,265.6 L424.6,264.4 L424.8,263.4 L424.9,262.5 L425.1,260.1 L425.2,260.5 L425.4,258.5 L425.5,257.7 L425.7,256.4 L425.8,255.7 L425.9,254.6 L426.1,254.1 L426.2,251.5 L426.4,250.1 L426.5,249.5 L426.7,247.9 L426.8,247.6 L427.0,245.5 L427.1,244.8 L427.3,243.7 L427.5,243.0 L427.7,241.9 L427.9,240.3 L428.0,239.8 L428.2,238.6 L428.4,235.8 L428.6,235.8 L428.8,234.4 L429.2,233.2 L429.6,231.7 L430.1,230.2 L430.5,229.2 L431.1,230.7 L431.7,232.3 L432.3,233.5 L432.7,235.0 L433.1,236.9 L433.6,238.0 L434.0,238.7 L434.3,239.5 L434.5,240.6 L434.8,242.6 L435.0,242.9 L435.3,244.5 L435.6,245.8 L435.8,247.2 L436.1,248.0 L436.3,249.7 L436.6,250.0 L437.0,251.0 L437.3,252.8 L437.7,253.3 L438.1,255.0 L438.5,256.2 L438.8,256.9 L439.2,258.6 L439.9,258.5 L440.5,261.7 L441.1,262.7 L441.8,263.8 L442.7,265.1 L443.5,265.8 L444.4,267.3 L444.9,268.3 L445.4,270.0 L446.0,270.9 L446.5,272.8 L447.0,273.3 L448.7,274.2 L450.4,273.3 L451.0,274.9 L451.6,275.8 L452.2,277.7 L453.1,279.2 L453.9,279.6 L454.8,281.1 L455.7,282.7 L456.5,283.1 L457.4,285.5 L458.5,286.8 L459.7,288.7 L460.8,289.8 L462.1,290.2 L463.4,290.6 L464.5,290.6 L465.6,290.6 L466.7,290.6 L467.9,290.6 L469.0,290.6 L470.1,290.6 L471.2,290.6 L472.3,290.6 L473.4,290.6 L474.5,290.6 L475.6,290.6 L476.8,290.6 L477.9,290.6 L479.0,290.6 L480.1,290.6 L481.2,290.6 L482.3,290.6 L483.4,290.6 L484.5,290.6 L485.7,290.6 L486.8,290.6 L487.9,290.6 L489.0,290.6" fill="none" stroke="#111" stroke-width="2.0" stroke-linejoin="round"/>
<text x="88.3" y="201.6" font-size="14.5" text-anchor="start" font-weight="normal" fill="#111" stroke="#111">LSK cells</text>
<text x="214.6" y="204.0" font-size="14.5" text-anchor="start" font-weight="normal" fill="#111" stroke="#111">HSC/MPP1</text>
<text x="328.5" y="203.3" font-size="14.5" text-anchor="start" font-weight="normal" fill="#111" stroke="#111">MPP2</text>
<text x="419.2" y="203.3" font-size="14.5" text-anchor="start" font-weight="normal" fill="#111" stroke="#111">MPP3/4</text>
<text x="120.2" y="225.0" font-size="14" text-anchor="start" font-weight="normal" fill="#111" stroke="#111">30%</text>
<text x="262.2" y="223.4" font-size="14.8" text-anchor="start" font-weight="normal" fill="#111" stroke="#111">95%</text>
<text x="358.4" y="224.0" font-size="14.8" text-anchor="start" font-weight="normal" fill="#111" stroke="#111">60%</text>
<text x="59.8" y="255.5" font-size="14.5" text-anchor="middle" fill="#111" transform="rotate(-90 59.8 255.5)">% of Max</text>
<text x="207.3" y="255.1" font-size="14.5" text-anchor="middle" fill="#111" transform="rotate(-90 207.3 255.1)">% of Max</text>
<text x="73.0" y="311.6" font-size="16.3" text-anchor="start" font-weight="normal" fill="#111" stroke="#111">sol-JAM-B</text>
<text x="305.8" y="312.6" font-size="16.2" text-anchor="start" font-weight="normal" fill="#111" stroke="#111">sol-JAM-B</text>
<text x="1.0" y="333.4" font-size="17.5" text-anchor="start" font-weight="bold" fill="#000" stroke="#000">C</text>
<rect x="69.8" y="322.8" width="82.9" height="81.5" fill="none" stroke="#8a8a8a" stroke-width="1.0"/>
<line x1="69.8" y1="404.3" x2="152.7" y2="404.3" stroke="#111" stroke-width="1.6"/>
<path d="M71.8,405.1 v2.5 M77.6,405.1 v1.5 M81.0,405.1 v1.5 M83.4,405.1 v1.5 M85.3,405.1 v1.5 M86.8,405.1 v1.5 M88.1,405.1 v1.5 M89.2,405.1 v1.5 M90.2,405.1 v1.5 M91.1,405.1 v2.5 M96.9,405.1 v1.5 M100.3,405.1 v1.5 M102.7,405.1 v1.5 M104.6,405.1 v1.5 M106.1,405.1 v1.5 M107.4,405.1 v1.5 M108.5,405.1 v1.5 M109.5,405.1 v1.5 M110.4,405.1 v2.5 M116.2,405.1 v1.5 M119.6,405.1 v1.5 M122.0,405.1 v1.5 M123.8,405.1 v1.5 M125.4,405.1 v1.5 M126.7,405.1 v1.5 M127.8,405.1 v1.5 M128.8,405.1 v1.5 M129.6,405.1 v2.5 M135.4,405.1 v1.5 M138.8,405.1 v1.5 M141.2,405.1 v1.5 M143.1,405.1 v1.5 M144.6,405.1 v1.5 M145.9,405.1 v1.5 M147.0,405.1 v1.5 M148.0,405.1 v1.5 M148.9,405.1 v2.5" fill="none" stroke="#666" stroke-width="0.6"/>
<rect x="209.8" y="322.3" width="82.7" height="81.0" fill="none" stroke="#8a8a8a" stroke-width="1.0"/>
<line x1="209.8" y1="403.3" x2="292.5" y2="403.3" stroke="#111" stroke-width="1.6"/>
<path d="M211.8,404.1 v2.5 M217.6,404.1 v1.5 M221.0,404.1 v1.5 M223.4,404.1 v1.5 M225.2,404.1 v1.5 M226.8,404.1 v1.5 M228.1,404.1 v1.5 M229.2,404.1 v1.5 M230.2,404.1 v1.5 M231.0,404.1 v2.5 M236.8,404.1 v1.5 M240.2,404.1 v1.5 M242.6,404.1 v1.5 M244.5,404.1 v1.5 M246.0,404.1 v1.5 M247.3,404.1 v1.5 M248.4,404.1 v1.5 M249.4,404.1 v1.5 M250.3,404.1 v2.5 M256.1,404.1 v1.5 M259.4,404.1 v1.5 M261.8,404.1 v1.5 M263.7,404.1 v1.5 M265.2,404.1 v1.5 M266.5,404.1 v1.5 M267.6,404.1 v1.5 M268.6,404.1 v1.5 M269.5,404.1 v2.5 M275.3,404.1 v1.5 M278.7,404.1 v1.5 M281.1,404.1 v1.5 M282.9,404.1 v1.5 M284.5,404.1 v1.5 M285.8,404.1 v1.5 M286.9,404.1 v1.5 M287.9,404.1 v1.5 M288.7,404.1 v2.5" fill="none" stroke="#666" stroke-width="0.6"/>
<rect x="305.5" y="321.5" width="82.5" height="81.6" fill="none" stroke="#8a8a8a" stroke-width="1.0"/>
<line x1="305.5" y1="403.1" x2="388.0" y2="403.1" stroke="#111" stroke-width="1.6"/>
<path d="M307.5,403.9 v2.5 M313.3,403.9 v1.5 M316.7,403.9 v1.5 M319.1,403.9 v1.5 M320.9,403.9 v1.5 M322.4,403.9 v1.5 M323.7,403.9 v1.5 M324.8,403.9 v1.5 M325.8,403.9 v1.5 M326.7,403.9 v2.5 M332.5,403.9 v1.5 M335.8,403.9 v1.5 M338.2,403.9 v1.5 M340.1,403.9 v1.5 M341.6,403.9 v1.5 M342.9,403.9 v1.5 M344.0,403.9 v1.5 M345.0,403.9 v1.5 M345.9,403.9 v2.5 M351.6,403.9 v1.5 M355.0,403.9 v1.5 M357.4,403.9 v1.5 M359.3,403.9 v1.5 M360.8,403.9 v1.5 M362.1,403.9 v1.5 M363.2,403.9 v1.5 M364.2,403.9 v1.5 M365.1,403.9 v2.5 M370.8,403.9 v1.5 M374.2,403.9 v1.5 M376.6,403.9 v1.5 M378.5,403.9 v1.5 M380.0,403.9 v1.5 M381.3,403.9 v1.5 M382.4,403.9 v1.5 M383.4,403.9 v1.5 M384.2,403.9 v2.5" fill="none" stroke="#666" stroke-width="0.6"/>
<rect x="403.1" y="321.8" width="81.7" height="81.3" fill="none" stroke="#8a8a8a" stroke-width="1.0"/>
<line x1="403.1" y1="403.1" x2="484.8" y2="403.1" stroke="#111" stroke-width="1.6"/>
<path d="M405.1,403.9 v2.5 M410.8,403.9 v1.5 M414.2,403.9 v1.5 M416.5,403.9 v1.5 M418.4,403.9 v1.5 M419.9,403.9 v1.5 M421.2,403.9 v1.5 M422.3,403.9 v1.5 M423.2,403.9 v1.5 M424.1,403.9 v2.5 M429.8,403.9 v1.5 M433.2,403.9 v1.5 M435.5,403.9 v1.5 M437.4,403.9 v1.5 M438.9,403.9 v1.5 M440.2,403.9 v1.5 M441.3,403.9 v1.5 M442.2,403.9 v1.5 M443.1,403.9 v2.5 M448.8,403.9 v1.5 M452.2,403.9 v1.5 M454.5,403.9 v1.5 M456.4,403.9 v1.5 M457.9,403.9 v1.5 M459.2,403.9 v1.5 M460.3,403.9 v1.5 M461.2,403.9 v1.5 M462.1,403.9 v2.5 M467.8,403.9 v1.5 M471.2,403.9 v1.5 M473.5,403.9 v1.5 M475.4,403.9 v1.5 M476.9,403.9 v1.5 M478.2,403.9 v1.5 M479.3,403.9 v1.5 M480.2,403.9 v1.5 M481.1,403.9 v2.5" fill="none" stroke="#666" stroke-width="0.6"/>
<path d="M85.9,403.6 L86.1,402.4 L86.4,400.9 L86.6,400.1 L86.8,399.3 L87.1,397.8 L87.3,397.6 L87.6,395.3 L87.8,394.1 L88.0,393.0 L88.3,390.8 L88.5,390.7 L88.6,388.7 L88.8,388.7 L88.9,387.1 L89.1,386.9 L89.2,384.9 L89.4,383.7 L89.5,383.2 L89.7,381.6 L89.8,381.2 L89.9,378.6 L90.1,378.2 L90.2,377.2 L90.4,376.0 L90.5,375.2 L90.7,374.0 L90.8,372.2 L91.0,370.8 L91.1,369.9 L91.2,369.3 L91.4,367.6 L91.5,367.0 L91.7,366.1 L91.8,364.3 L92.0,362.5 L92.1,361.7 L92.3,361.1 L92.4,359.4 L92.6,359.1 L92.7,357.3 L92.9,356.2 L93.0,354.6 L93.2,353.7 L93.3,352.6 L93.9,352.0 L94.5,350.0 L94.8,351.2 L95.2,352.5 L95.5,353.5 L95.8,355.2 L96.1,354.5 L96.3,352.0 L96.6,351.2 L96.8,350.9 L97.1,349.1 L97.4,348.6 L97.8,346.5 L98.2,345.8 L98.5,344.0 L98.7,344.2 L98.8,346.9 L99.0,347.9 L99.2,348.3 L99.4,349.2 L99.5,351.1 L99.7,352.6 L99.8,353.9 L99.9,355.1 L100.0,356.1 L100.1,357.6 L100.2,358.6 L100.2,358.6 L100.3,360.3 L100.4,361.3 L100.5,363.3 L100.6,363.6 L100.7,365.6 L100.8,366.2 L100.9,368.5 L101.0,368.4 L101.0,369.5 L101.1,370.6 L101.2,371.8 L101.3,374.2 L101.4,373.7 L101.5,375.1 L101.6,375.8 L101.7,377.3 L101.8,379.0 L102.0,379.2 L102.1,381.3 L102.2,382.5 L102.3,383.1 L102.4,384.2 L102.5,385.1 L102.6,386.5 L102.7,387.4 L102.9,389.6 L103.0,391.0 L103.1,391.1 L103.2,392.4 L103.4,393.6 L103.7,393.8 L103.9,395.8 L104.2,397.5 L104.4,398.7 L104.7,399.9 L104.9,401.0 L106.2,402.3 L107.5,403.6" fill="none" stroke="#aaa" stroke-width="1.0" stroke-linejoin="round"/>
<path d="M70.0,404.2 L71.1,404.2 L72.2,404.2 L73.3,404.2 L74.4,404.2 L75.5,404.2 L76.7,404.2 L77.8,404.2 L78.9,404.2 L80.0,404.2 L81.1,404.2 L82.2,404.2 L83.3,404.2 L84.7,403.7 L86.2,403.3 L87.6,402.8 L88.7,402.0 L89.8,400.3 L90.9,398.7 L92.0,397.6 L92.4,397.3 L92.8,394.3 L93.1,393.5 L93.5,392.6 L93.9,391.4 L94.3,390.3 L94.6,389.4 L95.0,388.0 L95.4,387.2 L95.8,386.0 L96.1,385.1 L96.5,383.6 L96.8,382.4 L97.2,380.6 L97.5,379.3 L97.9,378.6 L98.2,378.0 L98.6,376.5 L98.9,375.1 L99.2,374.5 L99.5,373.3 L99.8,372.3 L100.1,370.0 L100.3,370.0 L100.6,368.6 L100.9,368.2 L101.2,366.2 L101.5,364.7 L101.7,363.7 L101.9,362.3 L102.2,361.3 L102.4,359.2 L102.6,358.8 L102.8,357.8 L103.0,357.2 L103.2,355.1 L103.4,354.4 L103.7,354.2 L103.9,351.8 L104.1,350.9 L104.4,350.2 L104.7,348.3 L104.9,347.4 L105.2,346.6 L105.5,345.6 L105.8,344.0 L106.1,342.5 L106.5,341.0 L106.8,341.2 L107.2,339.2 L107.5,337.9 L108.0,339.9 L108.4,341.0 L108.7,340.2 L109.0,338.8 L109.3,337.0 L109.8,338.4 L110.2,340.0 L111.0,338.8 L111.6,339.9 L112.1,340.2 L112.7,342.2 L113.0,343.5 L113.3,344.3 L113.6,345.6 L113.8,347.8 L114.1,348.3 L114.4,349.1 L114.7,350.3 L115.0,350.7 L115.3,353.0 L115.6,354.5 L115.9,354.4 L116.2,356.0 L116.4,357.4 L116.5,358.0 L116.7,359.4 L116.8,360.4 L117.0,360.9 L117.1,362.7 L117.3,363.2 L117.4,366.0 L117.6,366.4 L117.8,368.2 L117.9,368.9 L118.1,370.3 L118.3,371.4 L118.5,372.7 L118.6,374.0 L118.8,375.1 L118.9,376.1 L119.0,377.2 L119.2,377.7 L119.3,379.0 L119.4,380.4 L119.5,381.9 L119.7,382.7 L119.8,385.1 L119.9,385.0 L120.0,386.1 L120.1,387.6 L120.3,389.0 L120.4,390.6 L120.5,390.7 L120.6,392.4 L120.8,392.7 L120.9,394.0 L121.0,395.9 L121.2,396.6 L121.3,398.0 L121.4,398.7 L121.6,400.7 L121.7,401.0 L122.8,403.1 L124.0,403.6 L125.1,403.6 L126.3,403.6 L127.4,403.7 L128.6,403.7 L129.7,403.7 L130.8,403.7 L132.0,403.8 L133.1,403.8 L134.3,403.8 L135.4,403.8 L136.5,403.9 L137.7,403.9 L138.8,403.9 L140.0,403.9 L141.1,404.0 L142.2,404.0 L143.4,404.0 L144.5,404.0 L145.7,404.1 L146.8,404.1 L147.9,404.1 L149.1,404.1 L150.2,404.2 L151.4,404.2 L152.5,404.2" fill="none" stroke="#111" stroke-width="2.0" stroke-linejoin="round"/>
<path d="M225.0,402.8 L225.3,401.6 L225.6,401.1 L225.9,399.4 L226.2,397.3 L226.4,396.3 L226.7,396.1 L227.0,395.1 L227.3,392.0 L227.6,392.4 L227.8,391.0 L227.9,390.7 L228.1,389.5 L228.3,387.5 L228.5,387.0 L228.6,385.5 L228.8,384.2 L229.0,383.8 L229.2,382.6 L229.3,380.6 L229.5,379.2 L229.7,377.9 L229.9,376.7 L230.0,377.0 L230.2,375.1 L230.4,375.0 L230.5,372.9 L230.7,372.2 L230.9,370.1 L231.1,369.3 L231.2,368.7 L231.4,367.2 L231.6,365.9 L231.8,363.8 L231.9,362.8 L232.1,362.2 L232.3,361.0 L232.5,360.1 L232.6,358.6 L232.8,357.8 L233.0,356.5 L233.3,355.4 L233.5,354.4 L233.8,352.9 L234.0,351.3 L234.3,350.2 L234.5,349.1 L235.1,351.1 L235.7,351.9 L236.3,353.5 L236.6,351.7 L236.9,350.4 L237.2,349.8 L237.5,348.3 L238.0,347.2 L238.4,346.1 L238.9,344.0 L239.1,345.1 L239.3,347.2 L239.5,347.5 L239.7,348.8 L239.9,349.9 L240.1,351.7 L240.3,352.6 L240.4,354.3 L240.5,354.8 L240.6,355.7 L240.6,356.2 L240.7,358.3 L240.8,359.1 L240.9,360.3 L241.0,361.2 L241.1,362.2 L241.2,363.5 L241.2,365.1 L241.3,366.5 L241.4,367.1 L241.5,368.2 L241.6,369.5 L241.7,370.3 L241.8,371.5 L241.9,372.0 L242.0,374.3 L242.1,375.2 L242.2,376.8 L242.3,376.8 L242.4,378.3 L242.5,378.9 L242.6,380.6 L242.7,381.6 L242.8,383.1 L242.9,383.8 L243.0,385.3 L243.1,385.8 L243.2,387.2 L243.4,388.6 L243.5,389.3 L243.7,390.3 L243.9,391.7 L244.0,392.9 L244.2,393.1 L244.3,394.1 L244.5,396.1 L244.7,397.1 L244.8,397.1 L245.0,399.3 L245.8,399.6 L246.7,401.6 L247.5,402.8" fill="none" stroke="#aaa" stroke-width="1.0" stroke-linejoin="round"/>
<path d="M210.0,403.3 L211.1,403.3 L212.2,403.3 L213.3,403.3 L214.4,403.3 L215.5,403.3 L216.6,403.3 L217.7,403.3 L218.8,403.3 L219.9,403.3 L221.0,403.3 L222.1,403.3 L223.2,403.3 L224.3,403.3 L225.4,403.3 L226.5,403.3 L227.6,403.3 L228.7,403.3 L229.8,403.3 L230.9,403.3 L232.0,403.3 L233.2,403.2 L234.5,403.2 L235.7,403.1 L236.9,403.0 L238.1,402.9 L239.4,402.9 L240.6,402.8 L241.9,402.4 L243.2,401.9 L244.5,401.1 L245.8,401.0 L247.0,400.1 L248.1,398.9 L249.3,397.6 L249.7,397.0 L250.1,395.9 L250.6,395.4 L251.0,392.2 L251.4,391.8 L251.8,390.7 L252.1,390.0 L252.3,387.6 L252.6,386.2 L252.8,385.8 L253.1,385.1 L253.3,383.9 L253.6,382.0 L253.8,379.9 L254.0,379.1 L254.2,378.5 L254.4,377.1 L254.5,376.4 L254.7,375.2 L254.9,374.9 L255.1,372.7 L255.3,371.6 L255.6,370.4 L255.9,369.1 L256.2,368.3 L256.5,366.4 L256.7,364.7 L256.9,364.3 L257.1,362.6 L257.2,361.1 L257.4,361.3 L257.6,359.5 L257.8,361.0 L257.9,362.8 L258.1,363.4 L258.3,364.8 L258.5,365.8 L258.6,367.3 L258.8,368.2 L258.9,369.2 L259.0,371.4 L259.1,371.2 L259.2,373.7 L259.3,373.9 L259.4,375.6 L259.5,376.3 L259.6,377.7 L259.7,379.4 L259.8,379.8 L259.9,380.4 L260.0,382.0 L260.1,383.3 L260.3,384.6 L260.4,384.0 L260.5,387.0 L260.6,388.1 L260.8,387.7 L260.9,389.6 L261.0,391.3 L261.1,391.3 L261.3,392.8 L261.4,394.1 L261.6,395.1 L261.9,396.7 L262.1,398.1 L262.4,398.6 L262.6,399.7 L262.9,401.3 L263.1,401.9 L264.4,402.6 L265.7,403.3 L266.8,403.3 L267.9,403.3 L269.0,403.3 L270.1,403.3 L271.2,403.3 L272.4,403.3 L273.5,403.3 L274.6,403.3 L275.7,403.3 L276.8,403.3 L277.9,403.3 L279.0,403.3 L280.1,403.3 L281.2,403.3 L282.3,403.3 L283.4,403.3 L284.5,403.3 L285.6,403.3 L286.8,403.3 L287.9,403.3 L289.0,403.3 L290.1,403.3 L291.2,403.3 L292.3,403.3" fill="none" stroke="#111" stroke-width="2.0" stroke-linejoin="round"/>
<path d="M319.3,402.8 L319.5,401.6 L319.7,400.8 L319.9,399.3 L320.1,398.9 L320.2,396.3 L320.4,396.0 L320.6,394.5 L320.8,393.3 L321.0,392.4 L321.4,391.3 L321.7,390.0 L322.1,390.0 L322.5,387.8 L322.9,386.4 L323.2,385.9 L323.6,383.7 L323.7,383.2 L323.9,380.5 L324.0,380.5 L324.1,379.7 L324.2,377.9 L324.4,377.2 L324.5,375.7 L324.6,375.1 L324.8,372.9 L324.9,371.6 L325.0,371.2 L325.1,370.6 L325.3,370.1 L325.4,368.2 L325.8,366.9 L326.3,365.5 L326.7,365.3 L327.1,363.6 L327.6,363.4 L328.0,361.3 L328.3,360.1 L328.6,357.9 L328.9,357.4 L329.1,356.1 L329.4,354.7 L329.7,354.3 L330.1,352.7 L330.5,351.5 L331.0,350.6 L331.4,349.2 L331.8,348.3 L332.1,349.7 L332.3,350.9 L332.6,352.0 L332.8,353.2 L333.1,354.3 L334.9,355.2 L335.1,355.3 L335.2,356.5 L335.4,358.1 L335.6,359.8 L335.8,360.0 L335.9,361.7 L336.1,363.2 L336.3,365.3 L336.4,365.4 L336.6,366.4 L336.7,367.3 L336.8,369.3 L336.9,370.0 L337.0,370.9 L337.1,372.8 L337.2,372.8 L337.3,374.6 L337.3,375.7 L337.4,377.3 L337.5,377.3 L337.6,378.4 L337.7,380.0 L337.8,381.2 L337.9,382.6 L338.0,383.7 L338.2,384.6 L338.3,386.2 L338.5,387.4 L338.6,388.3 L338.8,388.7 L338.9,391.0 L339.1,390.6 L339.2,392.5 L339.4,394.2 L339.5,394.5 L339.7,395.9 L340.4,397.9 L341.2,399.5 L341.9,400.6 L342.7,401.0 L344.1,401.5 L345.6,402.1 L347.0,401.9 L348.1,402.3 L349.3,402.7 L350.4,403.1" fill="none" stroke="#aaa" stroke-width="1.0" stroke-linejoin="round"/>
<path d="M305.6,403.1 L306.7,403.1 L307.9,403.1 L309.0,403.1 L310.2,403.1 L311.3,403.1 L312.5,403.1 L313.6,403.1 L314.8,403.1 L315.9,403.1 L317.0,403.1 L318.2,403.1 L319.3,403.1 L320.5,403.1 L321.6,403.1 L322.8,403.1 L323.9,403.1 L325.1,403.1 L326.2,403.1 L327.6,402.7 L329.1,402.3 L330.5,401.9 L332.0,400.7 L333.4,400.4 L334.9,399.3 L336.0,398.1 L337.2,396.5 L338.3,395.0 L338.8,394.0 L339.3,392.7 L339.8,390.6 L340.3,390.8 L340.8,389.6 L341.3,389.4 L341.8,387.2 L342.1,386.4 L342.4,384.9 L342.7,384.2 L343.0,382.9 L343.2,381.4 L343.5,380.1 L343.8,378.3 L344.1,378.0 L344.4,376.8 L344.8,376.4 L345.2,373.2 L345.7,372.4 L346.1,371.6 L346.3,370.9 L346.5,369.4 L346.7,368.4 L346.9,366.0 L347.0,365.6 L347.2,365.0 L347.4,363.9 L347.6,362.6 L347.8,361.3 L347.9,359.7 L348.1,359.4 L348.2,357.3 L348.3,356.3 L348.4,355.1 L348.6,355.4 L348.7,353.3 L348.8,352.4 L349.0,350.1 L349.1,350.8 L349.2,349.3 L349.3,347.0 L349.5,345.9 L349.6,345.7 L350.1,345.4 L350.5,342.8 L351.0,342.2 L351.5,342.1 L352.0,339.7 L352.5,338.8 L352.7,338.6 L352.8,341.7 L353.0,342.5 L353.1,343.7 L353.3,344.2 L353.4,345.5 L353.6,347.3 L353.7,347.5 L353.9,349.1 L354.0,349.1 L354.1,351.8 L354.2,352.1 L354.3,354.3 L354.4,354.4 L354.5,355.6 L354.6,356.8 L354.7,356.8 L354.8,359.8 L354.9,360.0 L355.0,361.3 L355.1,363.4 L355.2,363.8 L355.3,365.3 L355.4,366.1 L355.5,367.5 L355.6,368.2 L355.7,369.5 L355.8,371.1 L355.9,371.4 L356.0,372.9 L356.1,373.4 L356.2,375.6 L356.3,374.8 L356.4,377.2 L356.6,378.5 L356.7,379.6 L356.8,380.5 L356.9,382.3 L357.0,383.9 L357.1,383.5 L357.2,383.9 L357.3,385.5 L357.4,387.2 L357.6,387.8 L357.7,389.3 L357.9,390.5 L358.0,392.2 L358.2,392.5 L358.3,393.8 L358.5,395.0 L358.6,395.5 L358.8,396.9 L358.9,399.7 L359.1,399.3 L359.7,400.4 L360.2,401.6 L360.8,402.8 L362.0,403.1 L363.1,403.1 L364.2,403.1 L365.4,403.1 L366.5,403.1 L367.6,403.1 L368.7,403.1 L369.9,403.1 L371.0,403.1 L372.1,403.1 L373.2,403.1 L374.3,403.1 L375.5,403.1 L376.6,403.1 L377.7,403.1 L378.8,403.1 L379.9,403.1 L381.1,403.1 L382.2,403.1 L383.3,403.1 L384.4,403.1 L385.6,403.1 L386.7,403.1 L387.8,403.1" fill="none" stroke="#111" stroke-width="2.0" stroke-linejoin="round"/>
<path d="M418.2,402.8 L418.6,401.6 L418.9,399.8 L419.3,397.9 L419.7,398.4 L420.1,396.4 L420.4,395.0 L420.8,394.1 L420.9,394.3 L421.0,392.7 L421.2,389.9 L421.3,389.5 L421.4,389.1 L421.5,388.0 L421.6,385.8 L421.7,386.3 L421.9,385.2 L422.0,382.5 L422.1,382.0 L422.6,379.7 L423.1,378.6 L423.7,378.5 L424.2,376.8 L424.4,376.2 L424.6,374.6 L424.8,373.0 L425.0,372.1 L425.2,371.3 L425.4,369.2 L425.6,367.8 L425.8,367.5 L426.0,366.4 L426.2,365.9 L426.4,364.2 L426.6,363.0 L426.8,361.4 L426.9,361.1 L427.1,358.5 L427.3,358.3 L427.5,356.8 L427.7,356.0 L428.0,354.7 L428.4,353.1 L428.7,352.8 L429.1,351.1 L429.4,350.0 L430.2,348.4 L431.1,347.4 L432.5,345.7 L432.9,347.1 L433.3,347.9 L433.7,349.1 L434.0,349.9 L434.3,351.1 L434.6,353.0 L434.9,353.2 L435.2,354.7 L435.5,356.0 L435.6,357.0 L435.7,358.5 L435.8,359.3 L435.9,361.8 L436.0,360.8 L436.1,363.3 L436.2,364.1 L436.3,365.9 L436.4,365.5 L436.5,368.2 L436.6,368.0 L436.7,369.9 L436.8,371.4 L436.9,372.5 L437.1,373.3 L437.2,374.1 L437.3,375.2 L437.4,376.8 L437.5,377.5 L437.6,378.0 L437.8,379.2 L437.9,381.8 L438.0,383.0 L438.1,383.7 L438.3,385.1 L438.5,386.0 L438.8,387.4 L439.0,388.6 L439.2,389.6 L439.4,390.2 L439.7,391.4 L439.9,392.3 L440.1,394.1 L440.7,395.5 L441.2,396.1 L441.8,397.9 L442.4,399.3 L443.5,401.2 L444.7,401.6 L445.8,402.8" fill="none" stroke="#aaa" stroke-width="1.0" stroke-linejoin="round"/>
<path d="M403.2,403.1 L404.4,403.1 L405.6,403.1 L406.8,403.1 L408.0,403.1 L409.2,403.1 L410.4,403.1 L411.6,403.1 L412.8,403.1 L414.0,403.1 L415.2,403.1 L416.4,403.1 L417.5,402.6 L418.6,402.1 L419.7,401.3 L420.8,401.0 L421.6,400.2 L422.5,399.3 L423.4,396.2 L424.2,395.9 L424.7,393.9 L425.2,393.7 L425.7,391.8 L426.2,391.2 L426.7,390.1 L427.2,388.2 L427.7,387.2 L428.0,386.4 L428.4,385.7 L428.7,384.1 L429.1,381.9 L429.4,381.1 L429.7,379.6 L430.1,379.6 L430.4,377.4 L430.8,375.9 L431.1,375.1 L431.4,374.0 L431.7,373.1 L432.0,371.4 L432.3,370.6 L432.6,369.4 L432.9,368.6 L433.1,367.6 L433.4,366.1 L433.7,364.5 L434.0,363.8 L434.3,362.0 L434.6,361.3 L434.8,360.8 L435.0,359.3 L435.2,358.1 L435.4,355.5 L435.6,357.1 L435.7,355.5 L435.9,354.2 L436.1,352.5 L436.3,351.7 L436.5,351.8 L436.7,349.1 L436.9,347.5 L437.2,347.1 L437.4,345.8 L437.7,344.3 L437.9,343.2 L438.2,341.2 L438.4,340.5 L438.8,339.6 L439.1,337.2 L439.4,337.6 L439.8,335.3 L440.3,336.9 L440.7,337.2 L441.2,338.8 L441.6,339.1 L442.0,341.8 L442.4,343.1 L442.8,344.7 L443.2,345.2 L443.7,348.0 L444.1,348.3 L445.0,349.8 L445.8,350.9 L445.9,351.8 L446.1,352.5 L446.2,354.3 L446.4,355.4 L446.6,357.0 L446.7,357.8 L446.8,359.6 L447.0,360.3 L447.1,361.7 L447.3,363.5 L447.4,364.2 L447.5,365.0 L447.7,366.7 L447.8,367.2 L448.0,369.0 L448.1,369.9 L448.2,371.1 L448.4,371.6 L448.5,373.7 L448.7,374.6 L448.8,376.1 L449.0,376.1 L449.1,378.6 L449.2,379.8 L449.4,380.1 L449.5,381.4 L449.7,382.6 L449.8,383.7 L450.0,384.8 L450.1,386.4 L450.3,386.7 L450.5,387.5 L450.6,389.1 L450.8,391.4 L450.9,391.3 L451.1,392.1 L451.3,393.2 L451.4,394.9 L451.6,395.9 L452.0,397.8 L452.4,397.9 L452.8,399.6 L453.2,400.8 L453.6,401.9 L454.9,402.5 L456.2,403.1 L457.3,403.1 L458.5,403.1 L459.6,403.1 L460.7,403.1 L461.9,403.1 L463.0,403.1 L464.2,403.1 L465.3,403.1 L466.4,403.1 L467.6,403.1 L468.7,403.1 L469.8,403.1 L471.0,403.1 L472.1,403.1 L473.2,403.1 L474.4,403.1 L475.5,403.1 L476.6,403.1 L477.8,403.1 L478.9,403.1 L480.1,403.1 L481.2,403.1 L482.3,403.1 L483.5,403.1 L484.6,403.1" fill="none" stroke="#111" stroke-width="2.0" stroke-linejoin="round"/>
<text x="109.6" y="335.6" font-size="14" text-anchor="start" font-weight="normal" fill="#111" stroke="#111">MFI: 8</text>
<text x="125.0" y="349.4" font-size="13" text-anchor="start" font-weight="normal" fill="#111" stroke="#111">81%</text>
<text x="246.4" y="334.4" font-size="13.4" text-anchor="start" font-weight="normal" fill="#111" stroke="#111">MFI: 23</text>
<text x="343.0" y="333.9" font-size="13.4" text-anchor="start" font-weight="normal" fill="#111" stroke="#111">MFI: 15</text>
<text x="444.4" y="333.6" font-size="13.4" text-anchor="start" font-weight="normal" fill="#111" stroke="#111">MFI: 7</text>
<text x="63.2" y="365.4" font-size="14.5" text-anchor="middle" fill="#111" transform="rotate(-90 63.2 365.4)">% of Max</text>
<text x="203.4" y="361.2" font-size="14.5" text-anchor="middle" fill="#111" transform="rotate(-90 203.4 361.2)">% of Max</text>
<text x="84.6" y="421.3" font-size="16.3" text-anchor="start" font-weight="normal" fill="#111" stroke="#111">JAM-C</text>
<text x="320.5" y="423.5" font-size="16.3" text-anchor="start" font-weight="normal" fill="#111" stroke="#111">JAM-C</text>
<text x="1.2" y="454.9" font-size="17.5" text-anchor="start" font-weight="bold" fill="#000" stroke="#000">D</text>
<text x="85.8" y="454.6" font-size="19" text-anchor="start" font-weight="normal" fill="#111" stroke="#111">4 weeks</text>
<line x1="77.2" y1="466.8" x2="77.2" y2="612.0" stroke="#222" stroke-width="1.3"/>
<line x1="76.5" y1="611.5" x2="179.5" y2="611.5" stroke="#222" stroke-width="1.5"/>
<line x1="75.0" y1="611.3" x2="77.2" y2="611.3" stroke="#222" stroke-width="1.0"/>
<line x1="75.0" y1="582.5" x2="77.2" y2="582.5" stroke="#222" stroke-width="1.0"/>
<line x1="75.0" y1="553.7" x2="77.2" y2="553.7" stroke="#222" stroke-width="1.0"/>
<line x1="75.0" y1="524.9" x2="77.2" y2="524.9" stroke="#222" stroke-width="1.0"/>
<line x1="75.0" y1="496.1" x2="77.2" y2="496.1" stroke="#222" stroke-width="1.0"/>
<line x1="75.0" y1="467.3" x2="77.2" y2="467.3" stroke="#222" stroke-width="1.0"/>
<text x="73.9" y="466.5" font-size="14.5" text-anchor="end" font-weight="normal" fill="#111" stroke="#111">100</text>
<text x="71.8" y="495.3" font-size="14.5" text-anchor="end" font-weight="normal" fill="#111" stroke="#111">80</text>
<text x="71.8" y="524.1" font-size="14.5" text-anchor="end" font-weight="normal" fill="#111" stroke="#111">60</text>
<text x="71.8" y="552.9" font-size="14.5" text-anchor="end" font-weight="normal" fill="#111" stroke="#111">40</text>
<text x="71.8" y="581.7" font-size="14.5" text-anchor="end" font-weight="normal" fill="#111" stroke="#111">20</text>
<text x="71.8" y="610.5" font-size="14.5" text-anchor="end" font-weight="normal" fill="#111" stroke="#111">0</text>
<line x1="94.3" y1="611.5" x2="94.3" y2="614.5" stroke="#222" stroke-width="1.0"/>
<line x1="128.2" y1="611.5" x2="128.2" y2="614.5" stroke="#222" stroke-width="1.0"/>
<line x1="162.0" y1="611.5" x2="162.0" y2="614.5" stroke="#222" stroke-width="1.0"/>
<rect x="80.9" y="487.8" width="26.5" height="123.2" fill="#fff" stroke="#222" stroke-width="1.3"/>
<line x1="94.2" y1="487.8" x2="94.2" y2="483.8" stroke="#222" stroke-width="1.2"/>
<line x1="87.3" y1="483.8" x2="101.2" y2="483.8" stroke="#222" stroke-width="1.2"/>
<rect x="114.6" y="493.1" width="26.6" height="117.9" fill="#1a1a1a" stroke="#111" stroke-width="1.3"/>
<line x1="120.8" y1="491.5" x2="134.6" y2="491.5" stroke="#222" stroke-width="1.2"/>
<rect x="148.8" y="543.9" width="26.6" height="67.1" fill="#9a9a9a" stroke="#222" stroke-width="1.3"/>
<line x1="162.1" y1="543.9" x2="162.1" y2="517.3" stroke="#222" stroke-width="1.2"/>
<line x1="155.4" y1="517.3" x2="169.2" y2="517.3" stroke="#222" stroke-width="1.2"/>
<line x1="126.1" y1="486.8" x2="161.9" y2="486.8" stroke="#111" stroke-width="1.5"/>
<text x="142.5" y="490.9" font-size="18" text-anchor="middle" font-weight="normal" fill="#111" stroke="#111">**</text>
<text x="47.6" y="532.7" font-size="16.3" text-anchor="middle" fill="#111" transform="rotate(-90 47.6 532.7)">% of CD45.1 cells</text>
<text x="100.0" y="626.0" font-size="13.8" text-anchor="end" fill="#111" transform="rotate(-45 100.0 626.0)">LSK</text>
<text x="130.5" y="636.0" font-size="13.5" text-anchor="end" fill="#111" transform="rotate(-45 130.5 636.0)">sol-JAM-B</text>
<text x="130.5" y="636.0" font-size="9.5" fill="#111" dx="-3.7" dy="-13.5" transform="rotate(-45 130.5 636.0)">pos</text>
<text x="168.6" y="636.6" font-size="13.5" text-anchor="end" fill="#111" transform="rotate(-45 168.6 636.6)">sol-JAM-B</text>
<text x="168.6" y="636.6" font-size="9.5" fill="#111" dx="-3.7" dy="-13.5" transform="rotate(-45 168.6 636.6)">neg</text>
<line x1="255.6" y1="469.2" x2="255.6" y2="611.1" stroke="#111" stroke-width="1.3"/>
<line x1="255.1" y1="610.6" x2="469.1" y2="610.6" stroke="#111" stroke-width="1.3"/>
<line x1="252.6" y1="610.6" x2="255.6" y2="610.6" stroke="#111" stroke-width="1.0"/>
<line x1="252.6" y1="563.4" x2="255.6" y2="563.4" stroke="#111" stroke-width="1.0"/>
<line x1="252.6" y1="516.1" x2="255.6" y2="516.1" stroke="#111" stroke-width="1.0"/>
<line x1="255.6" y1="610.6" x2="255.6" y2="614.1" stroke="#111" stroke-width="1.0"/>
<text x="256.5" y="629.8" font-size="15" text-anchor="middle" font-weight="normal" fill="#111" stroke="#111">0</text>
<line x1="291.1" y1="610.6" x2="291.1" y2="614.1" stroke="#111" stroke-width="1.0"/>
<text x="292.0" y="629.8" font-size="15" text-anchor="middle" font-weight="normal" fill="#111" stroke="#111">2</text>
<line x1="326.6" y1="610.6" x2="326.6" y2="614.1" stroke="#111" stroke-width="1.0"/>
<text x="327.5" y="629.8" font-size="15" text-anchor="middle" font-weight="normal" fill="#111" stroke="#111">4</text>
<line x1="362.1" y1="610.6" x2="362.1" y2="614.1" stroke="#111" stroke-width="1.0"/>
<text x="363.0" y="629.8" font-size="15" text-anchor="middle" font-weight="normal" fill="#111" stroke="#111">6</text>
<line x1="397.6" y1="610.6" x2="397.6" y2="614.1" stroke="#111" stroke-width="1.0"/>
<text x="398.5" y="629.8" font-size="15" text-anchor="middle" font-weight="normal" fill="#111" stroke="#111">8</text>
<line x1="433.1" y1="610.6" x2="433.1" y2="614.1" stroke="#111" stroke-width="1.0"/>
<text x="434.0" y="629.8" font-size="15" text-anchor="middle" font-weight="normal" fill="#111" stroke="#111">10</text>
<line x1="468.6" y1="610.6" x2="468.6" y2="614.1" stroke="#111" stroke-width="1.0"/>
<text x="469.5" y="629.8" font-size="15" text-anchor="middle" font-weight="normal" fill="#111" stroke="#111">12</text>
<text x="251.3" y="514.8" font-size="15" text-anchor="end" font-weight="normal" fill="#111" stroke="#111">100</text>
<text x="251.3" y="564.0" font-size="15" text-anchor="end" font-weight="normal" fill="#111" stroke="#111">50</text>
<text x="249.7" y="609.8" font-size="15" text-anchor="end" font-weight="normal" fill="#111" stroke="#111">0</text>
<text x="342.8" y="646.2" font-size="16.5" text-anchor="start" font-weight="normal" fill="#111" stroke="#111">weeks</text>
<text x="222.0" y="544.0" font-size="16.5" text-anchor="middle" fill="#111" transform="rotate(-90 222.0 544.0)">% of survival</text>
<line x1="255.6" y1="516.1" x2="468.6" y2="516.1" stroke="#111" stroke-width="1.5"/>
<path d="M326.6,516.1 V572.8 H344.4 V610.6" fill="none" stroke="#111" stroke-width="1.4"/>
<path d="M326.6,568.2 L331.2,576.3 L322.0,576.3 Z" fill="#111" stroke="none" stroke-width="1"/>
<path d="M344.4,605.5 L349.0,613.6 L339.8,613.6 Z" fill="#111" stroke="none" stroke-width="1"/>
<rect x="464.8" y="512.3" width="7.6" height="7.6" fill="#fff" stroke="#111" stroke-width="2.6"/>
<line x1="313.0" y1="473.6" x2="333.0" y2="473.6" stroke="#111" stroke-width="1.2"/>
<circle cx="322.8" cy="473.6" r="3.6" fill="#fff" stroke="#111" stroke-width="1.2"/>
<line x1="313.0" y1="488.4" x2="333.0" y2="488.4" stroke="#111" stroke-width="1.2"/>
<rect x="319.0" y="484.6" width="7.6" height="7.6" fill="#111" stroke="none" stroke-width="1"/>
<line x1="313.0" y1="504.0" x2="333.0" y2="504.0" stroke="#111" stroke-width="1.2"/>
<path d="M322.8,498.0 L327.8,506.8 L317.8,506.8 Z" fill="#111" stroke="none" stroke-width="1"/>
<text x="338.3" y="478.0" font-size="13.6" text-anchor="start" font-weight="normal" fill="#111" stroke="#111">LSK</text>
<text x="338.3" y="492.8" font-size="13.3" text-anchor="start" font-weight="normal" fill="#111" stroke="#111">LSK sol-JAM-B</text>
<text x="428.0" y="482.0" font-size="9.8" text-anchor="start" font-weight="normal" fill="#111" stroke="#111">pos</text>
<text x="340.3" y="507.6" font-size="13.3" text-anchor="start" font-weight="normal" fill="#111" stroke="#111">LSK sol-JAM-B</text>
<text x="430.4" y="499.6" font-size="9.8" text-anchor="start" font-weight="normal" fill="#111" stroke="#111">neg</text>
<text x="1.2" y="691.9" font-size="17.5" text-anchor="start" font-weight="bold" fill="#000" stroke="#000">E</text>
<rect x="45.8" y="708.5" width="108.2" height="53.8" fill="none" stroke="#8a8a8a" stroke-width="1.0"/>
<line x1="45.8" y1="762.3" x2="154.0" y2="762.3" stroke="#555" stroke-width="1.0"/>
<path d="M47.8,762.8 v2.5 M55.4,762.8 v1.5 M59.8,762.8 v1.5 M62.9,762.8 v1.5 M65.4,762.8 v1.5 M67.4,762.8 v1.5 M69.1,762.8 v1.5 M70.5,762.8 v1.5 M71.8,762.8 v1.5 M73.0,762.8 v2.5 M80.5,762.8 v1.5 M85.0,762.8 v1.5 M88.1,762.8 v1.5 M90.6,762.8 v1.5 M92.5,762.8 v1.5 M94.2,762.8 v1.5 M95.7,762.8 v1.5 M97.0,762.8 v1.5 M98.1,762.8 v2.5 M105.7,762.8 v1.5 M110.1,762.8 v1.5 M113.3,762.8 v1.5 M115.7,762.8 v1.5 M117.7,762.8 v1.5 M119.4,762.8 v1.5 M120.8,762.8 v1.5 M122.1,762.8 v1.5 M123.3,762.8 v2.5 M130.9,762.8 v1.5 M135.3,762.8 v1.5 M138.4,762.8 v1.5 M140.9,762.8 v1.5 M142.9,762.8 v1.5 M144.6,762.8 v1.5 M146.0,762.8 v1.5 M147.3,762.8 v1.5 M148.5,762.8 v2.5" fill="none" stroke="#999" stroke-width="0.6"/>
<rect x="160.8" y="708.9" width="108.0" height="53.4" fill="none" stroke="#8a8a8a" stroke-width="1.0"/>
<line x1="160.8" y1="762.3" x2="268.8" y2="762.3" stroke="#555" stroke-width="1.0"/>
<path d="M162.8,762.8 v2.5 M170.4,762.8 v1.5 M174.8,762.8 v1.5 M177.9,762.8 v1.5 M180.4,762.8 v1.5 M182.3,762.8 v1.5 M184.0,762.8 v1.5 M185.5,762.8 v1.5 M186.8,762.8 v1.5 M187.9,762.8 v2.5 M195.5,762.8 v1.5 M199.9,762.8 v1.5 M203.0,762.8 v1.5 M205.5,762.8 v1.5 M207.5,762.8 v1.5 M209.1,762.8 v1.5 M210.6,762.8 v1.5 M211.9,762.8 v1.5 M213.0,762.8 v2.5 M220.6,762.8 v1.5 M225.0,762.8 v1.5 M228.2,762.8 v1.5 M230.6,762.8 v1.5 M232.6,762.8 v1.5 M234.3,762.8 v1.5 M235.7,762.8 v1.5 M237.0,762.8 v1.5 M238.1,762.8 v2.5 M245.7,762.8 v1.5 M250.1,762.8 v1.5 M253.3,762.8 v1.5 M255.7,762.8 v1.5 M257.7,762.8 v1.5 M259.4,762.8 v1.5 M260.8,762.8 v1.5 M262.1,762.8 v1.5 M263.3,762.8 v2.5" fill="none" stroke="#999" stroke-width="0.6"/>
<rect x="45.6" y="790.3" width="106.4" height="52.9" fill="none" stroke="#8a8a8a" stroke-width="1.0"/>
<line x1="45.6" y1="843.2" x2="152.0" y2="843.2" stroke="#555" stroke-width="1.0"/>
<path d="M47.6,843.7 v2.5 M55.0,843.7 v1.5 M59.4,843.7 v1.5 M62.5,843.7 v1.5 M64.9,843.7 v1.5 M66.9,843.7 v1.5 M68.5,843.7 v1.5 M69.9,843.7 v1.5 M71.2,843.7 v1.5 M72.3,843.7 v2.5 M79.8,843.7 v1.5 M84.2,843.7 v1.5 M87.2,843.7 v1.5 M89.6,843.7 v1.5 M91.6,843.7 v1.5 M93.3,843.7 v1.5 M94.7,843.7 v1.5 M96.0,843.7 v1.5 M97.1,843.7 v2.5 M104.5,843.7 v1.5 M108.9,843.7 v1.5 M112.0,843.7 v1.5 M114.4,843.7 v1.5 M116.3,843.7 v1.5 M118.0,843.7 v1.5 M119.4,843.7 v1.5 M120.7,843.7 v1.5 M121.8,843.7 v2.5 M129.3,843.7 v1.5 M133.6,843.7 v1.5 M136.7,843.7 v1.5 M139.1,843.7 v1.5 M141.1,843.7 v1.5 M142.7,843.7 v1.5 M144.2,843.7 v1.5 M145.4,843.7 v1.5 M146.6,843.7 v2.5" fill="none" stroke="#999" stroke-width="0.6"/>
<rect x="161.0" y="789.8" width="107.0" height="53.2" fill="none" stroke="#8a8a8a" stroke-width="1.0"/>
<line x1="161.0" y1="843.0" x2="268.0" y2="843.0" stroke="#555" stroke-width="1.0"/>
<path d="M163.0,843.5 v2.5 M170.5,843.5 v1.5 M174.9,843.5 v1.5 M178.0,843.5 v1.5 M180.4,843.5 v1.5 M182.4,843.5 v1.5 M184.0,843.5 v1.5 M185.5,843.5 v1.5 M186.7,843.5 v1.5 M187.9,843.5 v2.5 M195.4,843.5 v1.5 M199.8,843.5 v1.5 M202.9,843.5 v1.5 M205.3,843.5 v1.5 M207.2,843.5 v1.5 M208.9,843.5 v1.5 M210.4,843.5 v1.5 M211.6,843.5 v1.5 M212.8,843.5 v2.5 M220.3,843.5 v1.5 M224.6,843.5 v1.5 M227.7,843.5 v1.5 M230.2,843.5 v1.5 M232.1,843.5 v1.5 M233.8,843.5 v1.5 M235.2,843.5 v1.5 M236.5,843.5 v1.5 M237.7,843.5 v2.5 M245.1,843.5 v1.5 M249.5,843.5 v1.5 M252.6,843.5 v1.5 M255.0,843.5 v1.5 M257.0,843.5 v1.5 M258.7,843.5 v1.5 M260.1,843.5 v1.5 M261.4,843.5 v1.5 M262.5,843.5 v2.5" fill="none" stroke="#999" stroke-width="0.6"/>
<path d="M54.3,761.0 L55.4,759.6 L56.5,758.5 L57.6,756.9 L58.0,755.9 L58.5,755.3 L58.9,753.9 L59.4,752.1 L59.8,751.3 L60.2,751.5 L60.6,748.4 L60.9,747.3 L61.3,747.4 L61.7,745.9 L62.1,744.5 L62.4,743.7 L62.8,742.8 L63.2,741.3 L63.6,740.0 L63.9,738.7 L64.3,737.4 L64.7,736.3 L65.0,735.3 L65.4,735.2 L65.7,733.6 L66.1,732.3 L66.6,731.5 L67.2,729.8 L67.7,729.6 L68.3,727.1 L68.8,726.8 L69.9,725.9 L71.0,724.9 L72.1,723.4 L73.2,723.6 L74.3,724.5 L74.7,725.1 L75.1,727.0 L75.4,727.5 L75.8,728.5 L76.2,730.1 L76.6,731.2 L76.8,731.7 L77.0,733.4 L77.3,735.7 L77.5,735.5 L77.7,737.3 L77.9,737.4 L78.1,739.1 L78.4,740.0 L78.6,741.2 L78.8,742.4 L79.1,743.9 L79.3,745.8 L79.6,745.7 L79.9,747.6 L80.2,748.2 L80.5,749.5 L80.7,749.9 L81.0,751.3 L81.4,752.0 L81.8,753.4 L82.2,754.2 L82.5,755.8 L82.9,756.3 L83.3,758.0 L84.4,759.5 L85.5,761.0" fill="none" stroke="#999" stroke-width="0.9" transform="translate(0,1)" stroke-linejoin="round"/>
<path d="M46.5,760.2 L48.0,759.1 L49.4,758.1 L50.9,756.9 L51.5,756.8 L52.0,755.6 L52.6,753.9 L53.1,752.2 L53.7,751.7 L54.3,750.7 L54.8,749.0 L55.4,748.0 L56.0,746.4 L56.5,744.8 L57.0,744.6 L57.6,744.6 L58.2,742.3 L58.7,741.3 L59.3,740.4 L59.8,739.3 L60.4,738.2 L61.0,737.3 L61.5,734.6 L62.1,734.6 L62.6,733.4 L63.0,732.6 L63.5,731.2 L64.0,730.8 L64.5,728.8 L64.9,728.4 L65.4,726.8 L66.4,726.5 L67.3,724.1 L68.3,723.0 L69.7,722.9 L71.0,722.8 L72.3,722.7 L73.7,723.4 L75.0,723.0 L75.5,723.0 L76.1,724.6 L76.6,726.5 L77.2,728.3 L77.7,729.0 L78.2,730.5 L78.6,730.8 L79.1,733.3 L79.5,733.5 L80.0,734.3 L80.4,735.7 L80.8,737.1 L81.2,738.7 L81.6,739.0 L82.1,739.3 L82.5,741.0 L82.9,742.5 L83.3,743.5 L84.1,745.2 L84.9,745.2 L85.8,747.0 L86.6,748.0 L87.7,748.5 L88.9,750.3 L90.0,751.3 L91.7,750.4 L93.3,750.9 L94.4,750.8 L95.6,750.4 L96.7,751.3 L98.3,749.9 L100.0,749.5 L101.3,750.1 L102.7,752.4 L104.2,752.5 L105.6,754.7 L106.7,754.8 L107.8,753.5 L108.9,755.3 L110.1,756.1 L111.2,756.9 L112.8,757.8 L114.5,759.1 L116.2,760.0 L117.8,761.0" fill="none" stroke="#444" stroke-width="1.0" transform="translate(0,1)" stroke-linejoin="round"/>
<path d="M163.6,760.2 L164.7,759.4 L165.8,759.4 L166.9,757.6 L168.0,756.9 L169.1,756.0 L170.2,755.3 L171.4,753.7 L172.5,752.4 L173.2,752.1 L173.8,750.1 L174.5,749.0 L175.1,748.0 L175.8,746.8 L176.5,745.1 L177.2,744.0 L177.8,744.0 L178.5,741.5 L179.2,741.3 L179.7,740.8 L180.1,739.3 L180.6,738.6 L181.1,737.3 L181.6,736.1 L182.0,735.6 L182.5,733.5 L183.1,732.4 L183.6,731.2 L184.2,730.8 L184.8,728.7 L185.3,728.6 L185.9,726.8 L186.6,726.1 L187.4,724.3 L188.1,722.8 L188.8,722.3 L189.6,722.3 L190.3,724.5 L190.6,726.7 L190.9,726.0 L191.2,727.2 L191.4,729.5 L191.7,730.4 L192.0,731.4 L192.3,732.5 L192.6,733.5 L192.8,734.4 L193.0,735.2 L193.3,736.5 L193.5,738.3 L193.7,739.7 L193.9,740.8 L194.1,741.3 L194.4,741.2 L194.6,743.8 L194.8,744.6 L195.1,745.7 L195.4,745.4 L195.6,748.7 L195.9,749.2 L196.2,750.2 L196.4,751.4 L196.7,752.5 L197.0,753.5 L197.5,754.8 L198.0,756.0 L198.4,757.1 L198.9,758.6 L199.4,759.4 L199.9,760.6" fill="none" stroke="#999" stroke-width="0.9" transform="translate(0,1)" stroke-linejoin="round"/>
<path d="M161.3,760.2 L162.4,759.3 L163.6,758.7 L164.7,757.6 L165.8,757.6 L166.9,755.0 L168.0,753.5 L169.1,752.2 L170.3,751.0 L171.4,750.2 L172.2,749.3 L173.1,748.1 L173.9,747.0 L174.7,745.7 L175.4,744.5 L176.1,743.4 L176.7,742.9 L177.4,742.1 L178.1,740.2 L179.2,739.3 L180.3,737.9 L180.7,736.8 L181.2,735.1 L181.6,733.9 L182.1,733.5 L182.5,732.3 L183.3,730.7 L184.0,729.4 L184.8,727.9 L185.5,726.2 L186.3,725.6 L187.0,724.5 L187.6,722.2 L188.1,721.4 L188.6,720.4 L189.2,719.6 L189.8,721.2 L190.4,721.8 L191.0,723.4 L191.3,724.0 L191.6,725.8 L192.0,726.7 L192.3,728.4 L192.6,729.0 L193.5,730.8 L194.4,732.3 L194.7,733.6 L195.0,734.4 L195.3,736.0 L195.6,736.4 L195.9,737.9 L197.7,739.0 L197.9,739.3 L198.2,741.7 L198.4,742.1 L198.6,743.5 L198.8,744.9 L199.1,746.2 L199.3,746.8 L199.6,746.3 L199.9,748.5 L200.2,750.9 L200.6,750.4 L200.9,752.7 L201.2,753.4 L201.5,754.7 L201.9,755.4 L202.4,757.0 L202.8,757.3 L203.3,759.4 L203.7,760.6" fill="none" stroke="#444" stroke-width="1.0" transform="translate(0,1)" stroke-linejoin="round"/>
<path d="M46.5,841.8 L47.6,841.7 L48.7,841.6 L49.9,841.5 L51.0,841.3 L52.1,841.2 L53.2,841.1 L54.3,840.7 L55.4,840.4 L56.5,840.4 L57.6,838.6 L58.7,838.9 L59.8,837.6 L60.9,837.8 L62.1,836.4 L63.2,835.1 L64.3,834.4 L65.0,834.1 L65.7,831.2 L66.3,830.9 L67.0,830.0 L67.7,828.8 L68.1,827.5 L68.6,827.0 L69.0,824.6 L69.5,824.4 L69.9,823.3 L70.5,821.7 L71.0,821.7 L71.5,820.5 L72.1,818.8 L73.2,817.8 L74.3,817.7 L74.9,816.0 L75.4,815.4 L76.0,813.8 L76.6,813.2 L77.0,811.8 L77.5,811.2 L77.9,809.6 L78.4,809.8 L78.8,807.7 L79.2,806.6 L79.5,805.2 L79.9,803.7 L80.2,802.9 L80.6,802.7 L81.0,801.2 L81.3,800.6 L81.7,798.7 L82.1,800.5 L82.5,801.3 L82.9,801.7 L83.3,803.2 L83.5,804.2 L83.7,805.5 L83.9,805.6 L84.1,807.8 L84.3,808.2 L84.5,809.9 L84.7,810.7 L84.9,812.5 L85.1,814.7 L85.3,813.7 L85.5,815.5 L85.7,816.6 L85.9,818.8 L86.2,818.3 L86.4,819.8 L86.6,821.0 L86.8,822.3 L87.0,822.4 L87.3,824.5 L87.5,825.8 L87.7,826.6 L88.0,829.1 L88.4,828.8 L88.7,829.6 L89.0,831.1 L89.3,830.7 L89.7,833.5 L90.0,834.4 L91.7,835.8 L93.3,835.5 L94.4,835.9 L95.6,836.3 L96.7,836.7 L97.8,837.8 L98.9,839.2 L100.0,840.4 L101.7,841.1 L103.3,841.8" fill="none" stroke="#999" stroke-width="0.9" transform="translate(0,0.8)" stroke-linejoin="round"/>
<path d="M77.7,842.2 L78.8,842.0 L79.9,841.8 L81.1,841.5 L82.2,841.3 L83.3,841.1 L84.4,839.9 L85.5,840.9 L86.6,839.2 L87.7,838.9 L88.8,838.1 L90.0,838.7 L91.1,837.3 L92.2,836.7 L93.3,835.3 L94.5,835.4 L95.6,833.4 L96.7,832.2 L97.0,831.6 L97.3,829.7 L97.6,827.9 L97.9,827.8 L98.2,827.4 L98.4,825.2 L98.7,824.6 L99.0,823.7 L99.3,822.3 L99.6,821.0 L100.7,820.0 L101.8,818.8 L102.1,818.1 L102.5,816.7 L102.8,815.2 L103.2,815.0 L103.5,813.7 L103.8,812.4 L104.2,811.4 L104.5,809.9 L105.0,807.3 L105.5,807.8 L106.0,806.6 L106.4,804.4 L106.9,805.5 L107.4,803.2 L107.7,804.5 L108.0,805.2 L108.3,806.4 L108.7,807.8 L109.0,808.8 L109.3,809.0 L109.6,811.0 L109.8,811.9 L110.0,813.5 L110.2,814.7 L110.4,816.0 L110.6,816.0 L110.8,817.4 L111.0,819.1 L111.2,819.6 L111.4,821.2 L111.6,822.2 L111.8,822.9 L112.1,824.8 L112.3,825.6 L112.6,827.0 L112.8,827.8 L113.1,828.5 L113.3,829.3 L113.6,831.1 L113.8,832.2 L114.3,833.0 L114.8,833.6 L115.2,835.3 L115.7,837.1 L116.2,838.5 L116.7,838.9 L117.8,840.5 L119.0,841.1 L120.1,842.2" fill="none" stroke="#444" stroke-width="1.0" transform="translate(0,0.8)" stroke-linejoin="round"/>
<path d="M162.5,841.8 L163.6,841.7 L164.7,841.6 L165.8,841.5 L166.9,841.5 L168.1,841.4 L169.2,841.3 L170.3,841.2 L171.4,841.1 L172.5,840.4 L173.6,840.6 L174.8,839.0 L175.9,838.4 L177.0,837.8 L178.1,836.2 L179.2,835.2 L180.3,835.4 L181.4,833.3 L182.0,832.5 L182.5,831.5 L183.1,831.4 L183.7,829.9 L184.2,827.3 L184.8,826.6 L185.2,826.1 L185.5,824.0 L185.9,823.8 L186.3,821.1 L186.6,820.5 L187.0,819.9 L189.2,817.7 L190.0,816.1 L190.7,816.6 L191.5,814.3 L192.2,811.9 L193.0,812.0 L193.7,809.9 L194.0,809.4 L194.2,807.8 L194.5,807.1 L194.8,806.9 L195.1,804.5 L195.3,803.1 L195.6,802.9 L195.9,801.4 L196.1,799.2 L196.4,798.7 L196.8,800.0 L197.1,801.1 L197.5,801.5 L197.8,802.7 L198.2,804.3 L198.5,805.1 L198.8,805.9 L199.0,808.0 L199.3,809.0 L199.6,808.7 L199.8,810.8 L200.1,812.2 L200.4,813.2 L200.6,813.6 L200.9,815.3 L201.1,816.8 L201.4,816.8 L201.6,818.7 L201.9,818.7 L202.1,821.5 L202.4,821.8 L202.6,823.3 L202.9,823.6 L203.2,824.5 L203.4,825.7 L203.7,828.5 L204.0,828.4 L204.2,829.7 L204.5,830.9 L204.8,832.2 L205.9,832.5 L207.1,834.8 L208.2,835.5 L209.3,834.5 L210.4,836.8 L211.5,836.7 L212.6,837.0 L213.8,838.2 L214.9,838.9 L216.6,840.3 L218.2,841.8" fill="none" stroke="#999" stroke-width="0.9" transform="translate(0,0.8)" stroke-linejoin="round"/>
<path d="M198.2,842.2 L199.3,841.7 L200.4,841.1 L201.5,840.7 L202.6,840.0 L203.7,839.4 L204.9,837.1 L206.0,836.7 L206.6,835.9 L207.1,834.4 L207.7,833.3 L208.2,832.1 L208.8,831.7 L209.3,830.0 L209.6,829.2 L209.9,828.5 L210.2,827.2 L210.6,824.4 L210.9,824.4 L211.2,823.9 L211.5,822.2 L211.7,820.6 L212.0,819.0 L212.2,817.6 L212.4,818.8 L212.7,816.1 L212.9,815.6 L213.1,813.8 L213.3,813.5 L213.6,813.0 L213.8,811.0 L214.1,809.1 L214.4,808.7 L214.7,807.2 L214.9,805.5 L215.2,804.9 L215.5,804.3 L217.1,803.2 L218.2,802.1 L218.8,801.0 L219.3,799.8 L219.7,801.6 L220.1,802.8 L220.5,803.2 L220.9,804.3 L221.1,804.5 L221.3,806.9 L221.6,807.6 L221.8,808.7 L222.0,809.2 L222.2,810.9 L222.5,813.2 L222.7,813.2 L222.9,815.2 L223.1,816.1 L223.2,816.9 L223.4,817.4 L223.6,818.8 L223.8,820.0 L224.0,821.2 L224.2,821.9 L224.3,822.8 L224.5,825.0 L224.7,825.3 L224.9,826.6 L225.2,828.2 L225.5,828.7 L225.8,830.3 L226.1,831.3 L226.3,832.6 L226.6,833.7 L226.9,833.9 L227.2,835.5 L227.7,835.9 L228.2,837.7 L228.8,839.8 L229.3,839.5 L229.8,841.1 L231.2,841.7 L232.7,842.2" fill="none" stroke="#444" stroke-width="1.0" transform="translate(0,0.8)" stroke-linejoin="round"/>
<line x1="90.0" y1="738.6" x2="133.5" y2="738.6" stroke="#111" stroke-width="1.7"/>
<line x1="202.2" y1="735.4" x2="246.1" y2="735.4" stroke="#111" stroke-width="1.7"/>
<line x1="93.3" y1="817.2" x2="140.1" y2="817.2" stroke="#111" stroke-width="1.7"/>
<line x1="206.0" y1="818.1" x2="252.1" y2="818.1" stroke="#111" stroke-width="1.7"/>
<text x="98.5" y="735.2" font-size="14.5" text-anchor="start" font-weight="normal" fill="#111" stroke="#111">25 %</text>
<text x="208.8" y="732.2" font-size="14.5" text-anchor="start" font-weight="normal" fill="#111" stroke="#111">1.5 %</text>
<text x="117.0" y="804.5" font-size="14.5" text-anchor="start" font-weight="normal" fill="#111" stroke="#111">80 %</text>
<text x="232.0" y="803.8" font-size="14.5" text-anchor="start" font-weight="normal" fill="#111" stroke="#111">80 %</text>
<text x="72.2" y="705.3" font-size="14.6" text-anchor="start" font-weight="normal" fill="#111" stroke="#111">No Block</text>
<text x="167.8" y="705.5" font-size="14.5" fill="#111"><tspan font-family="Liberation Serif" font-size="15.5">α</tspan>-JAM-C Block</text>
<text x="40.9" y="735.4" font-size="14.5" text-anchor="middle" fill="#111" transform="rotate(-90 40.9 735.4)">% of Max</text>
<text x="40.9" y="814.2" font-size="14.5" text-anchor="middle" fill="#111" transform="rotate(-90 40.9 814.2)">% of Max</text>
<text x="115.5" y="781.0" font-size="14.5" text-anchor="start" font-weight="normal" fill="#111" stroke="#111">sol-JAM-B</text>
<text x="129.3" y="858.0" font-size="14.5" text-anchor="start" font-weight="normal" fill="#111" stroke="#111">JAM-C</text>
<text x="284.3" y="691.9" font-size="17.5" text-anchor="start" font-weight="bold" fill="#000" stroke="#000">F</text>
<rect x="313.5" y="708.3" width="108.5" height="54.7" fill="none" stroke="#8a8a8a" stroke-width="1.0"/>
<line x1="313.5" y1="763.0" x2="422.0" y2="763.0" stroke="#555" stroke-width="1.0"/>
<path d="M315.5,763.5 v2.5 M323.1,763.5 v1.5 M327.5,763.5 v1.5 M330.7,763.5 v1.5 M333.1,763.5 v1.5 M335.1,763.5 v1.5 M336.8,763.5 v1.5 M338.3,763.5 v1.5 M339.6,763.5 v1.5 M340.7,763.5 v2.5 M348.3,763.5 v1.5 M352.8,763.5 v1.5 M355.9,763.5 v1.5 M358.4,763.5 v1.5 M360.4,763.5 v1.5 M362.1,763.5 v1.5 M363.5,763.5 v1.5 M364.8,763.5 v1.5 M366.0,763.5 v2.5 M373.6,763.5 v1.5 M378.0,763.5 v1.5 M381.2,763.5 v1.5 M383.6,763.5 v1.5 M385.6,763.5 v1.5 M387.3,763.5 v1.5 M388.8,763.5 v1.5 M390.0,763.5 v1.5 M391.2,763.5 v2.5 M398.8,763.5 v1.5 M403.2,763.5 v1.5 M406.4,763.5 v1.5 M408.8,763.5 v1.5 M410.8,763.5 v1.5 M412.5,763.5 v1.5 M414.0,763.5 v1.5 M415.3,763.5 v1.5 M416.4,763.5 v2.5" fill="none" stroke="#999" stroke-width="0.6"/>
<rect x="313.3" y="789.6" width="108.7" height="54.4" fill="none" stroke="#8a8a8a" stroke-width="1.0"/>
<line x1="313.3" y1="844.0" x2="422.0" y2="844.0" stroke="#555" stroke-width="1.0"/>
<path d="M315.3,844.5 v2.5 M322.9,844.5 v1.5 M327.4,844.5 v1.5 M330.5,844.5 v1.5 M333.0,844.5 v1.5 M335.0,844.5 v1.5 M336.7,844.5 v1.5 M338.1,844.5 v1.5 M339.4,844.5 v1.5 M340.6,844.5 v2.5 M348.2,844.5 v1.5 M352.6,844.5 v1.5 M355.8,844.5 v1.5 M358.2,844.5 v1.5 M360.3,844.5 v1.5 M361.9,844.5 v1.5 M363.4,844.5 v1.5 M364.7,844.5 v1.5 M365.9,844.5 v2.5 M373.5,844.5 v1.5 M377.9,844.5 v1.5 M381.1,844.5 v1.5 M383.5,844.5 v1.5 M385.5,844.5 v1.5 M387.2,844.5 v1.5 M388.7,844.5 v1.5 M390.0,844.5 v1.5 M391.1,844.5 v2.5 M398.7,844.5 v1.5 M403.2,844.5 v1.5 M406.4,844.5 v1.5 M408.8,844.5 v1.5 M410.8,844.5 v1.5 M412.5,844.5 v1.5 M414.0,844.5 v1.5 M415.3,844.5 v1.5 M416.4,844.5 v2.5" fill="none" stroke="#999" stroke-width="0.6"/>
<path d="M333.5,762.5 L333.9,761.2 L334.3,759.5 L334.8,760.0 L335.2,756.6 L335.6,755.9 L336.0,755.0 L336.3,753.7 L336.6,752.4 L336.8,751.3 L337.1,751.2 L337.4,749.6 L337.7,748.4 L337.9,746.3 L338.2,746.6 L338.5,745.0 L338.7,743.9 L338.9,742.8 L339.1,742.0 L339.3,740.5 L339.5,739.2 L339.8,738.2 L340.0,736.4 L340.2,735.2 L340.4,733.7 L340.6,733.9 L340.8,731.8 L341.0,731.0 L341.2,730.0 L341.5,729.4 L341.8,728.7 L342.0,726.4 L342.2,725.6 L342.5,724.5 L342.8,722.6 L343.0,721.9 L343.2,722.7 L343.5,720.0 L344.3,718.7 L345.1,718.5 L345.9,716.2 L346.6,717.9 L347.3,719.7 L348.0,720.0 L348.4,721.8 L348.8,722.3 L349.2,722.6 L349.6,725.2 L350.0,725.5 L350.4,727.0 L350.8,728.0 L351.2,729.3 L351.6,729.5 L352.0,731.0 L352.4,732.2 L352.8,733.2 L353.2,733.5 L353.6,734.8 L354.0,736.6 L354.8,737.9 L355.6,738.1 L356.5,741.1 L357.3,742.0 L358.4,741.9 L359.6,740.8 L360.7,740.3 L361.6,741.7 L362.5,741.7 L363.4,744.0 L364.5,743.4 L365.6,743.1 L366.7,742.0 L368.1,742.7 L369.4,743.4 L370.8,743.4 L372.1,742.7 L373.5,743.1 L374.8,741.3 L375.9,742.0 L377.1,742.7 L378.2,742.7 L379.3,744.2 L380.4,744.1 L381.5,745.4 L382.0,746.1 L382.5,748.5 L383.0,748.7 L383.5,750.8 L383.8,751.6 L384.1,753.6 L384.4,753.6 L384.7,754.8 L385.0,755.8 L385.3,757.1 L385.6,758.8 L386.5,761.1 L387.4,761.3 L388.3,762.5" fill="none" stroke="#888" stroke-width="0.9" stroke-linejoin="round"/>
<path d="M333.1,762.5 L333.6,761.2 L334.1,760.1 L334.5,758.9 L335.0,756.7 L335.5,756.0 L335.8,754.1 L336.2,753.4 L336.5,752.9 L336.8,751.8 L337.1,749.7 L337.5,748.6 L337.8,748.0 L338.0,747.1 L338.3,745.8 L338.5,744.8 L338.8,743.8 L339.0,742.1 L339.3,741.4 L339.5,740.1 L339.8,739.5 L340.0,738.0 L340.2,736.8 L340.4,735.2 L340.6,735.1 L340.8,734.1 L341.0,732.8 L341.2,731.3 L341.4,730.0 L341.6,729.5 L341.8,727.9 L342.0,727.0 L342.3,725.9 L342.6,724.7 L342.9,723.2 L343.2,721.4 L343.5,720.9 L343.8,719.5 L344.4,717.7 L345.0,716.5 L345.9,715.8 L347.0,717.5 L347.3,718.2 L347.7,719.8 L348.0,721.0 L348.2,722.2 L348.5,723.4 L348.7,724.8 L349.0,725.2 L349.2,727.0 L349.4,728.3 L349.6,729.8 L349.8,730.5 L349.9,731.5 L350.1,732.8 L350.3,734.0 L350.5,735.5 L350.7,736.3 L350.9,737.2 L351.1,738.1 L351.3,740.3 L351.5,741.0 L351.7,742.6 L351.9,743.3 L352.1,745.1 L352.4,745.4 L352.6,746.9 L352.8,747.4 L353.0,749.0 L353.3,749.9 L353.6,751.3 L353.9,752.6 L354.2,753.8 L354.5,754.6 L354.8,756.0 L355.2,757.1 L355.7,758.6 L356.1,759.8 L356.6,761.2 L357.0,762.5 L357.0,762.5 L333.1,762.5 Z" fill="#c4c4c4" stroke="#555" stroke-width="0.9" stroke-linejoin="round"/>
<path d="M333.0,762.5 L333.5,761.2 L333.9,759.8 L334.4,758.8 L334.8,757.6 L335.3,756.0 L335.6,754.3 L335.9,754.1 L336.2,752.7 L336.5,751.6 L336.7,750.5 L337.0,749.5 L337.3,748.3 L337.6,747.0 L337.8,745.4 L338.0,745.1 L338.3,743.4 L338.5,742.7 L338.7,741.6 L338.9,739.9 L339.1,739.3 L339.4,738.1 L339.6,736.9 L339.8,736.0 L340.0,735.4 L340.2,733.6 L340.5,732.3 L340.7,731.7 L340.9,730.0 L341.1,728.8 L341.3,727.0 L341.6,726.6 L341.8,725.5 L342.0,724.0 L342.3,723.4 L342.6,721.3 L342.9,720.7 L343.2,719.6 L343.5,718.0 L344.1,717.0 L344.8,715.5 L345.9,715.2 L347.2,716.5 L347.9,718.0 L348.5,719.5 L348.9,720.1 L349.2,721.8 L349.6,722.7 L350.0,724.0 L350.6,725.0 L350.9,725.6 L351.2,727.4 L351.4,728.3 L351.7,729.4 L352.0,730.6 L352.3,732.3 L352.6,732.7 L352.9,733.4 L353.1,734.5 L353.4,736.5 L353.7,737.4 L354.0,738.6 L354.3,739.6 L354.6,740.4 L354.9,741.9 L355.2,743.1 L355.4,744.6 L355.7,745.5 L356.0,746.7 L356.3,748.2 L356.6,749.4 L357.0,750.3 L357.5,751.8 L357.9,751.9 L358.3,753.7 L358.7,755.6 L359.1,756.5 L359.6,757.3 L360.0,758.8 L361.3,760.0 L362.7,761.3 L364.0,762.5" fill="none" stroke="#333" stroke-width="1.1" stroke-linejoin="round"/>
<path d="M319.7,843.6 L321.0,842.8 L322.2,841.6 L323.5,841.1 L324.5,839.5 L325.4,839.2 L326.4,836.8 L327.4,835.7 L328.0,834.6 L328.7,832.9 L329.3,831.8 L329.9,830.2 L330.6,829.6 L331.2,828.8 L331.8,827.4 L332.4,826.3 L332.9,825.4 L333.5,824.2 L334.3,822.7 L335.1,821.1 L335.5,820.3 L335.9,818.7 L336.2,818.4 L336.6,816.5 L337.0,815.5 L337.4,814.6 L337.8,812.4 L338.2,811.1 L338.9,810.6 L339.7,808.8 L340.4,807.3 L341.2,805.7 L342.5,803.8 L343.0,804.2 L343.5,806.5 L344.1,808.0 L344.6,809.5 L345.8,811.1 L346.3,812.3 L346.9,812.8 L347.4,814.9 L347.8,815.7 L348.1,817.2 L348.5,820.2 L348.9,820.3 L349.2,821.7 L349.5,823.8 L349.9,824.5 L350.2,825.8 L350.5,826.5 L350.7,828.2 L351.0,828.1 L351.2,830.8 L351.5,830.8 L351.7,832.6 L351.9,834.1 L352.1,835.0 L352.4,837.2 L352.6,838.2 L352.8,838.8 L353.3,841.1 L353.8,841.6 L354.3,842.6 L356.0,843.6" fill="none" stroke="#999" stroke-width="0.9" stroke-linejoin="round"/>
<path d="M349.5,843.6 L350.5,842.6 L351.3,841.3 L352.0,840.3 L352.8,838.8 L353.1,838.3 L353.4,836.5 L353.7,835.1 L354.0,833.5 L354.3,832.6 L354.4,831.3 L354.5,830.4 L354.6,829.5 L354.8,828.4 L354.9,827.1 L355.0,826.0 L355.1,824.9 L355.2,824.2 L355.3,823.1 L355.4,821.7 L355.5,820.6 L355.6,819.3 L355.7,818.3 L355.8,816.5 L356.1,815.0 L356.3,814.0 L356.6,813.1 L356.9,812.0 L357.1,811.1 L357.4,809.5 L357.6,807.8 L357.9,807.2 L358.1,806.1 L358.4,804.7 L358.6,803.7 L358.9,802.6 L359.3,801.7 L359.8,800.4 L360.2,799.1 L360.9,800.4 L361.5,801.8 L361.8,803.1 L362.0,804.2 L362.3,805.8 L362.5,806.7 L362.8,808.0 L362.9,809.4 L363.1,810.1 L363.2,811.4 L363.4,812.3 L363.6,813.7 L363.7,815.2 L363.9,815.7 L364.0,817.2 L364.1,818.3 L364.3,819.6 L364.4,820.6 L364.6,822.1 L364.7,822.6 L364.8,824.4 L365.0,825.7 L365.1,826.5 L365.3,828.1 L365.5,828.7 L365.7,829.6 L366.0,830.4 L366.2,832.2 L366.4,833.4 L366.6,834.2 L367.2,835.6 L367.8,837.0 L368.3,838.4 L368.9,839.5 L370.4,840.5 L372.0,841.8 L373.1,841.6 L374.3,842.2 L375.5,842.4 L376.6,842.6 L377.8,842.7 L379.1,842.8 L380.3,842.9 L381.6,843.0 L382.8,843.1 L383.9,843.2 L385.1,843.2 L386.2,843.3 L387.4,843.4 L389.0,843.6 L389.0,843.8 L349.5,843.8 Z" fill="#a6a6a6" stroke="#444" stroke-width="1.0" stroke-linejoin="round"/>
<line x1="359.5" y1="735.8" x2="392.1" y2="735.8" stroke="#111" stroke-width="1.7"/>
<line x1="349.7" y1="820.1" x2="381.8" y2="820.1" stroke="#111" stroke-width="1.7"/>
<text x="359.6" y="727.2" font-size="14.5" text-anchor="start" font-weight="normal" fill="#111" stroke="#111">30 %</text>
<text x="368.0" y="809.0" font-size="14.5" text-anchor="start" font-weight="normal" fill="#111" stroke="#111">96 %</text>
<text x="307.5" y="736.9" font-size="14.5" text-anchor="middle" fill="#111" transform="rotate(-90 307.5 736.9)">% of Max</text>
<text x="307.7" y="818.0" font-size="14.5" text-anchor="middle" fill="#111" transform="rotate(-90 307.7 818.0)">% of Max</text>
<text x="328.4" y="777.5" font-size="14.5" text-anchor="start" font-weight="normal" fill="#111" stroke="#111">sol-JAM-B</text>
<text x="349.5" y="858.6" font-size="14.5" text-anchor="start" font-weight="normal" fill="#111" stroke="#111">VLA-4</text>
<line x1="429.3" y1="711.5" x2="451.4" y2="711.5" stroke="#111" stroke-width="1.7"/>
<rect x="430.3" y="721.5" width="20.7" height="14.5" fill="#b0b0b0" stroke="#111" stroke-width="1.6"/>
<line x1="431.0" y1="748.7" x2="450.5" y2="748.7" stroke="#333" stroke-width="1.0" stroke-dasharray="1 1"/>
<text x="458.3" y="717.0" font-size="14.5" text-anchor="start" font-weight="normal" fill="#111" stroke="#111">jam-c +/+</text>
<text x="458.3" y="733.0" font-size="14.5" text-anchor="start" font-weight="normal" fill="#111" stroke="#111">jam-c -/-</text>
<text x="459.0" y="752.0" font-size="14.5" text-anchor="start" font-weight="normal" fill="#111" stroke="#111">isotype</text>
</svg></body></html>
